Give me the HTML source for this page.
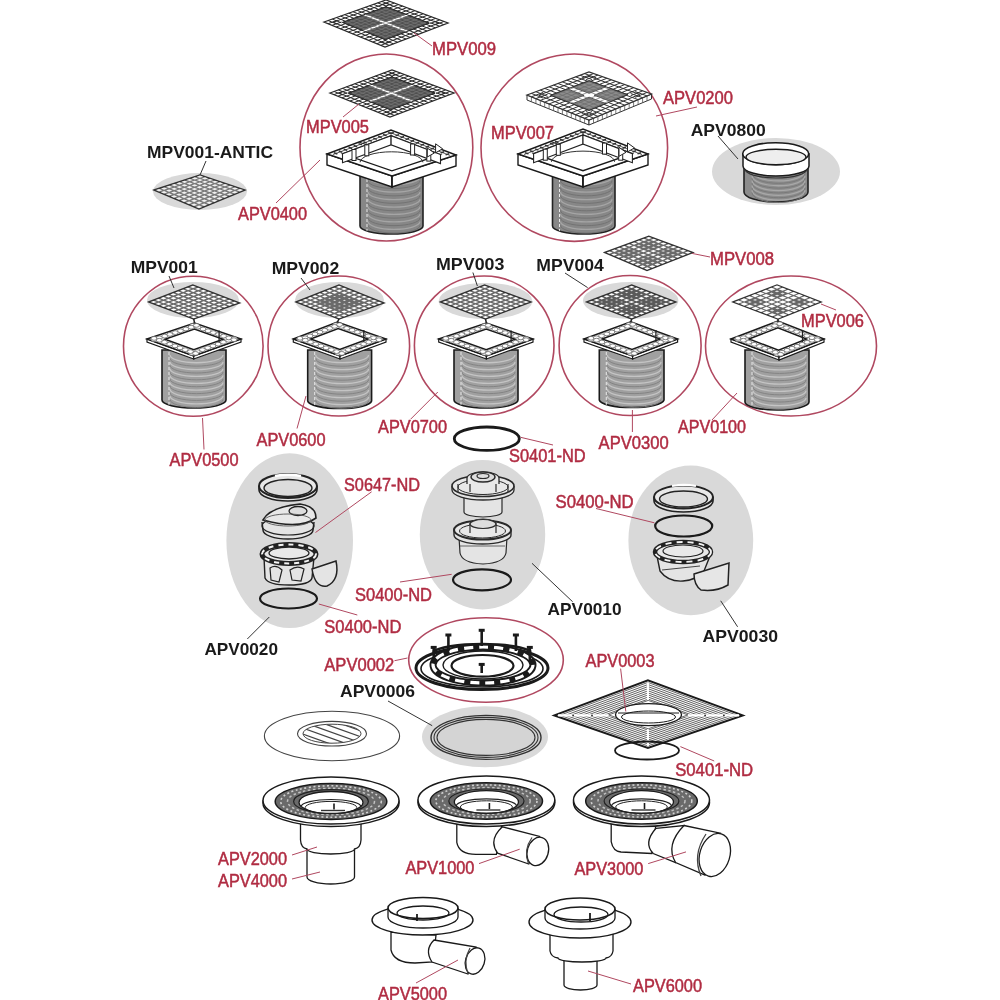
<!DOCTYPE html><html><head><meta charset="utf-8"><style>html,body{margin:0;padding:0;background:#fff;}svg{display:block;font-family:"Liberation Sans",sans-serif;filter:blur(0.4px);}</style></head><body>
<svg width="1000" height="1000" viewBox="0 0 1000 1000">
<rect width="1000" height="1000" fill="#fff"/>
<polygon points="324,22 386,0 448,23 385,47" fill="#fff" stroke="#2a2a2a" stroke-width="1.3" />
<polygon points="342.5,22.4 362.4,15.3 382,23 362,30.3" fill="#505050" stroke="#2a2a2a" stroke-width="0.8" />
<polygon points="365.7,31.8 385.7,24.4 405.4,32.1 385.3,39.7" fill="#505050" stroke="#2a2a2a" stroke-width="0.8" />
<polygon points="366.1,13.9 386,6.8 405.8,14.3 385.8,21.6" fill="#505050" stroke="#2a2a2a" stroke-width="0.8" />
<polygon points="389.5,23 409.5,15.6 429.3,23.1 409.2,30.7" fill="#505050" stroke="#2a2a2a" stroke-width="0.8" />
<line x1="345.6" y1="21.3" x2="388.4" y2="38.5" stroke="#777" stroke-width="0.7" />
<line x1="345.5" y1="23.6" x2="389.1" y2="8" stroke="#777" stroke-width="0.7" />
<line x1="349.7" y1="19.8" x2="392.6" y2="36.9" stroke="#777" stroke-width="0.7" />
<line x1="349.6" y1="25.3" x2="393.2" y2="9.5" stroke="#777" stroke-width="0.7" />
<line x1="353.9" y1="18.3" x2="396.8" y2="35.3" stroke="#777" stroke-width="0.7" />
<line x1="353.7" y1="26.9" x2="397.3" y2="11.1" stroke="#777" stroke-width="0.7" />
<line x1="358" y1="16.8" x2="401" y2="33.8" stroke="#777" stroke-width="0.7" />
<line x1="357.8" y1="28.6" x2="401.4" y2="12.6" stroke="#777" stroke-width="0.7" />
<line x1="362.2" y1="15.3" x2="405.2" y2="32.2" stroke="#777" stroke-width="0.7" />
<line x1="361.8" y1="30.2" x2="405.6" y2="14.2" stroke="#777" stroke-width="0.7" />
<line x1="366.3" y1="13.9" x2="409.4" y2="30.6" stroke="#777" stroke-width="0.7" />
<line x1="365.9" y1="31.9" x2="409.7" y2="15.7" stroke="#777" stroke-width="0.7" />
<line x1="370.4" y1="12.4" x2="413.6" y2="29" stroke="#777" stroke-width="0.7" />
<line x1="370" y1="33.5" x2="413.8" y2="17.3" stroke="#777" stroke-width="0.7" />
<line x1="374.6" y1="10.9" x2="417.8" y2="27.4" stroke="#777" stroke-width="0.7" />
<line x1="374.1" y1="35.2" x2="417.9" y2="18.8" stroke="#777" stroke-width="0.7" />
<line x1="378.7" y1="9.4" x2="421.9" y2="25.9" stroke="#777" stroke-width="0.7" />
<line x1="378.1" y1="36.8" x2="422.1" y2="20.4" stroke="#777" stroke-width="0.7" />
<line x1="382.9" y1="7.9" x2="426.1" y2="24.3" stroke="#777" stroke-width="0.7" />
<line x1="382.2" y1="38.5" x2="426.2" y2="21.9" stroke="#777" stroke-width="0.7" />
<polygon points="333.2,22.2 386,3.4 438.6,23.1 385.1,43.3" fill="none" stroke="#2a2a2a" stroke-width="1" />
<polygon points="342.5,22.4 386,6.8 429.3,23.1 385.3,39.7" fill="none" stroke="#2a2a2a" stroke-width="1" />
<line x1="328.1" y1="20.5" x2="337.3" y2="24.3" stroke="#2a2a2a" stroke-width="1" />
<line x1="380" y1="41.7" x2="389.2" y2="45.4" stroke="#2a2a2a" stroke-width="1" />
<line x1="328.1" y1="23.7" x2="337.4" y2="20.3" stroke="#2a2a2a" stroke-width="1" />
<line x1="380.8" y1="4.9" x2="390.1" y2="1.5" stroke="#2a2a2a" stroke-width="1" />
<line x1="332.3" y1="19.1" x2="341.4" y2="22.8" stroke="#2a2a2a" stroke-width="1" />
<line x1="384.2" y1="40.1" x2="393.4" y2="43.8" stroke="#2a2a2a" stroke-width="1" />
<line x1="332.1" y1="25.3" x2="341.5" y2="22" stroke="#2a2a2a" stroke-width="1" />
<line x1="384.9" y1="6.4" x2="394.3" y2="3.1" stroke="#2a2a2a" stroke-width="1" />
<line x1="336.4" y1="17.6" x2="345.6" y2="21.3" stroke="#2a2a2a" stroke-width="1" />
<line x1="388.4" y1="38.5" x2="397.6" y2="42.2" stroke="#2a2a2a" stroke-width="1" />
<line x1="336.2" y1="27" x2="345.5" y2="23.6" stroke="#2a2a2a" stroke-width="1" />
<line x1="389.1" y1="8" x2="398.4" y2="4.6" stroke="#2a2a2a" stroke-width="1" />
<line x1="340.5" y1="16.1" x2="349.7" y2="19.8" stroke="#2a2a2a" stroke-width="1" />
<line x1="392.6" y1="36.9" x2="401.8" y2="40.6" stroke="#2a2a2a" stroke-width="1" />
<line x1="340.3" y1="28.7" x2="349.6" y2="25.3" stroke="#2a2a2a" stroke-width="1" />
<line x1="393.2" y1="9.5" x2="402.5" y2="6.1" stroke="#2a2a2a" stroke-width="1" />
<line x1="344.7" y1="14.7" x2="353.9" y2="18.3" stroke="#2a2a2a" stroke-width="1" />
<line x1="396.8" y1="35.3" x2="406" y2="39" stroke="#2a2a2a" stroke-width="1" />
<line x1="344.3" y1="30.3" x2="353.7" y2="26.9" stroke="#2a2a2a" stroke-width="1" />
<line x1="397.3" y1="11.1" x2="406.7" y2="7.7" stroke="#2a2a2a" stroke-width="1" />
<line x1="348.8" y1="13.2" x2="358" y2="16.8" stroke="#2a2a2a" stroke-width="1" />
<line x1="401" y1="33.8" x2="410.2" y2="37.4" stroke="#2a2a2a" stroke-width="1" />
<line x1="348.4" y1="32" x2="357.8" y2="28.6" stroke="#2a2a2a" stroke-width="1" />
<line x1="401.4" y1="12.6" x2="410.8" y2="9.2" stroke="#2a2a2a" stroke-width="1" />
<line x1="352.9" y1="11.7" x2="362.2" y2="15.3" stroke="#2a2a2a" stroke-width="1" />
<line x1="405.2" y1="32.2" x2="414.4" y2="35.8" stroke="#2a2a2a" stroke-width="1" />
<line x1="352.5" y1="33.7" x2="361.8" y2="30.2" stroke="#2a2a2a" stroke-width="1" />
<line x1="405.6" y1="14.2" x2="414.9" y2="10.7" stroke="#2a2a2a" stroke-width="1" />
<line x1="357.1" y1="10.3" x2="366.3" y2="13.9" stroke="#2a2a2a" stroke-width="1" />
<line x1="409.4" y1="30.6" x2="418.6" y2="34.2" stroke="#2a2a2a" stroke-width="1" />
<line x1="356.5" y1="35.3" x2="365.9" y2="31.9" stroke="#2a2a2a" stroke-width="1" />
<line x1="409.7" y1="15.7" x2="419.1" y2="12.3" stroke="#2a2a2a" stroke-width="1" />
<line x1="361.2" y1="8.8" x2="370.4" y2="12.4" stroke="#2a2a2a" stroke-width="1" />
<line x1="413.6" y1="29" x2="422.8" y2="32.6" stroke="#2a2a2a" stroke-width="1" />
<line x1="360.6" y1="37" x2="370" y2="33.5" stroke="#2a2a2a" stroke-width="1" />
<line x1="413.8" y1="17.3" x2="423.2" y2="13.8" stroke="#2a2a2a" stroke-width="1" />
<line x1="365.3" y1="7.3" x2="374.6" y2="10.9" stroke="#2a2a2a" stroke-width="1" />
<line x1="417.8" y1="27.4" x2="427" y2="31" stroke="#2a2a2a" stroke-width="1" />
<line x1="364.7" y1="38.7" x2="374.1" y2="35.2" stroke="#2a2a2a" stroke-width="1" />
<line x1="417.9" y1="18.8" x2="427.3" y2="15.3" stroke="#2a2a2a" stroke-width="1" />
<line x1="369.5" y1="5.9" x2="378.7" y2="9.4" stroke="#2a2a2a" stroke-width="1" />
<line x1="421.9" y1="25.9" x2="431.2" y2="29.4" stroke="#2a2a2a" stroke-width="1" />
<line x1="368.7" y1="40.3" x2="378.1" y2="36.8" stroke="#2a2a2a" stroke-width="1" />
<line x1="422.1" y1="20.4" x2="431.5" y2="16.9" stroke="#2a2a2a" stroke-width="1" />
<line x1="373.6" y1="4.4" x2="382.9" y2="7.9" stroke="#2a2a2a" stroke-width="1" />
<line x1="426.1" y1="24.3" x2="435.4" y2="27.8" stroke="#2a2a2a" stroke-width="1" />
<line x1="372.8" y1="42" x2="382.2" y2="38.5" stroke="#2a2a2a" stroke-width="1" />
<line x1="426.2" y1="21.9" x2="435.6" y2="18.4" stroke="#2a2a2a" stroke-width="1" />
<line x1="377.7" y1="2.9" x2="387" y2="6.4" stroke="#2a2a2a" stroke-width="1" />
<line x1="430.3" y1="22.7" x2="439.6" y2="26.2" stroke="#2a2a2a" stroke-width="1" />
<line x1="376.9" y1="43.7" x2="386.3" y2="40.1" stroke="#2a2a2a" stroke-width="1" />
<line x1="430.3" y1="23.5" x2="439.7" y2="19.9" stroke="#2a2a2a" stroke-width="1" />
<line x1="381.9" y1="1.5" x2="391.2" y2="4.9" stroke="#2a2a2a" stroke-width="1" />
<line x1="434.5" y1="21.1" x2="443.8" y2="24.6" stroke="#2a2a2a" stroke-width="1" />
<line x1="380.9" y1="45.3" x2="390.4" y2="41.8" stroke="#2a2a2a" stroke-width="1" />
<line x1="434.4" y1="25" x2="443.9" y2="21.5" stroke="#2a2a2a" stroke-width="1" />
<text x="432" y="55" textLength="64" lengthAdjust="spacingAndGlyphs" font-size="18" font-weight="400" fill="#b02c42" stroke="#b02c42" stroke-width="0.5">MPV009</text>
<line x1="414" y1="33" x2="432" y2="46" stroke="#b04860" stroke-width="1" />
<ellipse cx="386.4" cy="147.5" rx="86.4" ry="93.5" fill="none" stroke="#b04860" stroke-width="1.6" />
<path d="M360,172 L360,226 A31.5,8 0 0 0 423,226 L423,172 Z" fill="#878787" stroke="#222" stroke-width="1.6" />
<path d="M368,177 A23.5,7 0 0 0 420,177" fill="none" stroke="#a5a5a5" stroke-width="1.3"/>
<path d="M368,180.7 A23.5,7 0 0 0 420,180.7" fill="none" stroke="#707070" stroke-width="0.9"/>
<path d="M368,184.4 A23.5,7 0 0 0 420,184.4" fill="none" stroke="#a5a5a5" stroke-width="1.3"/>
<path d="M368,188.1 A23.5,7 0 0 0 420,188.1" fill="none" stroke="#707070" stroke-width="0.9"/>
<path d="M368,191.9 A23.5,7 0 0 0 420,191.9" fill="none" stroke="#a5a5a5" stroke-width="1.3"/>
<path d="M368,195.6 A23.5,7 0 0 0 420,195.6" fill="none" stroke="#707070" stroke-width="0.9"/>
<path d="M368,199.3 A23.5,7 0 0 0 420,199.3" fill="none" stroke="#a5a5a5" stroke-width="1.3"/>
<path d="M368,203 A23.5,7 0 0 0 420,203" fill="none" stroke="#707070" stroke-width="0.9"/>
<path d="M368,206.7 A23.5,7 0 0 0 420,206.7" fill="none" stroke="#a5a5a5" stroke-width="1.3"/>
<path d="M368,210.4 A23.5,7 0 0 0 420,210.4" fill="none" stroke="#707070" stroke-width="0.9"/>
<path d="M368,214.1 A23.5,7 0 0 0 420,214.1" fill="none" stroke="#a5a5a5" stroke-width="1.3"/>
<path d="M368,217.9 A23.5,7 0 0 0 420,217.9" fill="none" stroke="#707070" stroke-width="0.9"/>
<path d="M368,221.6 A23.5,7 0 0 0 420,221.6" fill="none" stroke="#a5a5a5" stroke-width="1.3"/>
<path d="M368,225.3 A23.5,7 0 0 0 420,225.3" fill="none" stroke="#707070" stroke-width="0.9"/>
<line x1="367" y1="174" x2="367" y2="230.8" stroke="#e8e8e8" stroke-width="1" stroke-dasharray="3,2"/>
<polygon points="327,154 392,176 392,187 327,165" fill="#fff" stroke="#1a1a1a" stroke-width="1.4" />
<polygon points="392,176 456,155 456,166 392,187" fill="#fff" stroke="#1a1a1a" stroke-width="1.4" />
<polygon points="327,154 391,130 456,155 392,176" fill="#fff" stroke="#1a1a1a" stroke-width="1.4" />
<polygon points="342.5,153.8 391.1,135.8 440.5,154.6 391.9,170.8" fill="#fff" stroke="#1a1a1a" stroke-width="1.3" />
<polygon points="342.5,153.8 391.1,135.8 391.1,144.8 342.5,162.8" fill="#fff" stroke="#222" stroke-width="1.1" />
<polygon points="391.1,135.8 440.5,154.6 440.5,163.6 391.1,144.8" fill="#fff" stroke="#222" stroke-width="1.1" />
<path d="M360.1,162.3 A31.4,10.5 0 0 1 422.9,162.3" fill="none" stroke="#333" stroke-width="1"/>
<line x1="333.9" y1="152.8" x2="337.4" y2="154" stroke="#333" stroke-width="1.5" />
<line x1="394.1" y1="132.6" x2="390.6" y2="133.9" stroke="#333" stroke-width="1.5" />
<line x1="338.8" y1="151" x2="342.3" y2="152.2" stroke="#333" stroke-width="1.5" />
<line x1="399.1" y1="134.6" x2="395.6" y2="135.8" stroke="#333" stroke-width="1.5" />
<line x1="343.7" y1="149.1" x2="347.2" y2="150.4" stroke="#333" stroke-width="1.5" />
<line x1="404.1" y1="136.5" x2="400.6" y2="137.7" stroke="#333" stroke-width="1.5" />
<line x1="348.6" y1="147.3" x2="352.2" y2="148.5" stroke="#333" stroke-width="1.5" />
<line x1="409.1" y1="138.4" x2="405.6" y2="139.6" stroke="#333" stroke-width="1.5" />
<line x1="353.6" y1="145.5" x2="357.1" y2="146.7" stroke="#333" stroke-width="1.5" />
<line x1="414.1" y1="140.3" x2="410.6" y2="141.5" stroke="#333" stroke-width="1.5" />
<line x1="358.5" y1="143.6" x2="362" y2="144.9" stroke="#333" stroke-width="1.5" />
<line x1="419.1" y1="142.2" x2="415.6" y2="143.4" stroke="#333" stroke-width="1.5" />
<line x1="363.4" y1="141.8" x2="366.9" y2="143.1" stroke="#333" stroke-width="1.5" />
<line x1="424.1" y1="144.1" x2="420.6" y2="145.3" stroke="#333" stroke-width="1.5" />
<line x1="368.3" y1="139.9" x2="371.8" y2="141.2" stroke="#333" stroke-width="1.5" />
<line x1="429.1" y1="146" x2="425.6" y2="147.2" stroke="#333" stroke-width="1.5" />
<line x1="373.3" y1="138.1" x2="376.8" y2="139.4" stroke="#333" stroke-width="1.5" />
<line x1="434.1" y1="148" x2="430.6" y2="149.1" stroke="#333" stroke-width="1.5" />
<line x1="378.2" y1="136.3" x2="381.7" y2="137.6" stroke="#333" stroke-width="1.5" />
<line x1="439.1" y1="149.9" x2="435.6" y2="151.1" stroke="#333" stroke-width="1.5" />
<line x1="383.1" y1="134.4" x2="386.6" y2="135.8" stroke="#333" stroke-width="1.5" />
<line x1="444.1" y1="151.8" x2="440.6" y2="153" stroke="#333" stroke-width="1.5" />
<line x1="388" y1="132.6" x2="391.5" y2="133.9" stroke="#333" stroke-width="1.5" />
<line x1="449.1" y1="153.7" x2="445.6" y2="154.9" stroke="#333" stroke-width="1.5" />
<line x1="332.8" y1="154.6" x2="393" y2="132.2" stroke="#333" stroke-width="0.8" />
<line x1="389.1" y1="132.2" x2="450.2" y2="155.5" stroke="#333" stroke-width="0.8" />
<rect x="364.8" y="144.8" width="4" height="11" fill="#fff" stroke="#222" stroke-width="1"/>
<rect x="352" y="149.5" width="4" height="11" fill="#fff" stroke="#222" stroke-width="1"/>
<rect x="410.6" y="144" width="4" height="11" fill="#fff" stroke="#222" stroke-width="1"/>
<rect x="426.8" y="150.1" width="4" height="11" fill="#fff" stroke="#222" stroke-width="1"/>
<path d="M427.3,157 l0,-9 l7,5 z" fill="#fff" stroke="#222" stroke-width="1"/>
<path d="M435.6,152.8 l0,-9 l7,5 z" fill="#fff" stroke="#222" stroke-width="1"/>
<line x1="392" y1="176" x2="392" y2="187" stroke="#1a1a1a" stroke-width="1.4" />
<line x1="359" y1="142" x2="366.8" y2="144.8" stroke="#222" stroke-width="1" />
<polygon points="330,93 392,70 454,93 390,117" fill="#fff" stroke="#2a2a2a" stroke-width="1.3" />
<polygon points="348.3,93.1 368.3,85.7 387.8,93.2 367.6,100.8" fill="#505050" stroke="#2a2a2a" stroke-width="0.8" />
<polygon points="371.3,102.2 391.4,94.7 410.9,102.2 390.6,109.8" fill="#505050" stroke="#2a2a2a" stroke-width="0.8" />
<polygon points="372,84.3 392,76.9 411.7,84.3 391.6,91.8" fill="#505050" stroke="#2a2a2a" stroke-width="0.8" />
<polygon points="395.2,93.2 415.4,85.7 435.1,93.1 414.8,100.8" fill="#505050" stroke="#2a2a2a" stroke-width="0.8" />
<line x1="351.5" y1="92" x2="393.7" y2="108.6" stroke="#777" stroke-width="0.7" />
<line x1="351.4" y1="94.3" x2="395" y2="78.1" stroke="#777" stroke-width="0.7" />
<line x1="355.6" y1="90.4" x2="398" y2="107" stroke="#777" stroke-width="0.7" />
<line x1="355.4" y1="95.9" x2="399.2" y2="79.6" stroke="#777" stroke-width="0.7" />
<line x1="359.8" y1="88.9" x2="402.2" y2="105.5" stroke="#777" stroke-width="0.7" />
<line x1="359.4" y1="97.5" x2="403.3" y2="81.2" stroke="#777" stroke-width="0.7" />
<line x1="363.9" y1="87.3" x2="406.5" y2="103.9" stroke="#777" stroke-width="0.7" />
<line x1="363.4" y1="99.1" x2="407.4" y2="82.7" stroke="#777" stroke-width="0.7" />
<line x1="368.1" y1="85.8" x2="410.7" y2="102.3" stroke="#777" stroke-width="0.7" />
<line x1="367.4" y1="100.7" x2="411.5" y2="84.3" stroke="#777" stroke-width="0.7" />
<line x1="372.2" y1="84.3" x2="415" y2="100.7" stroke="#777" stroke-width="0.7" />
<line x1="371.5" y1="102.3" x2="415.6" y2="85.8" stroke="#777" stroke-width="0.7" />
<line x1="376.4" y1="82.7" x2="419.2" y2="99.1" stroke="#777" stroke-width="0.7" />
<line x1="375.5" y1="103.9" x2="419.7" y2="87.3" stroke="#777" stroke-width="0.7" />
<line x1="380.5" y1="81.2" x2="423.5" y2="97.5" stroke="#777" stroke-width="0.7" />
<line x1="379.5" y1="105.5" x2="423.8" y2="88.9" stroke="#777" stroke-width="0.7" />
<line x1="384.7" y1="79.6" x2="427.7" y2="95.9" stroke="#777" stroke-width="0.7" />
<line x1="383.5" y1="107" x2="427.9" y2="90.4" stroke="#777" stroke-width="0.7" />
<line x1="388.8" y1="78.1" x2="432" y2="94.3" stroke="#777" stroke-width="0.7" />
<line x1="387.5" y1="108.6" x2="432.1" y2="92" stroke="#777" stroke-width="0.7" />
<polygon points="339.2,93.1 392,73.5 444.6,93.1 390.3,113.4" fill="none" stroke="#2a2a2a" stroke-width="1" />
<polygon points="348.3,93.1 392,76.9 435.1,93.1 390.6,109.8" fill="none" stroke="#2a2a2a" stroke-width="1" />
<line x1="334.1" y1="91.5" x2="343.2" y2="95.1" stroke="#2a2a2a" stroke-width="1" />
<line x1="385.2" y1="111.8" x2="394.3" y2="115.4" stroke="#2a2a2a" stroke-width="1" />
<line x1="334" y1="94.6" x2="343.3" y2="91.1" stroke="#2a2a2a" stroke-width="1" />
<line x1="386.8" y1="75" x2="396.1" y2="71.5" stroke="#2a2a2a" stroke-width="1" />
<line x1="338.3" y1="89.9" x2="347.3" y2="93.5" stroke="#2a2a2a" stroke-width="1" />
<line x1="389.5" y1="110.2" x2="398.5" y2="113.8" stroke="#2a2a2a" stroke-width="1" />
<line x1="338" y1="96.2" x2="347.3" y2="92.7" stroke="#2a2a2a" stroke-width="1" />
<line x1="390.9" y1="76.5" x2="400.3" y2="73.1" stroke="#2a2a2a" stroke-width="1" />
<line x1="342.4" y1="88.4" x2="351.5" y2="92" stroke="#2a2a2a" stroke-width="1" />
<line x1="393.7" y1="108.6" x2="402.8" y2="112.2" stroke="#2a2a2a" stroke-width="1" />
<line x1="342" y1="97.8" x2="351.4" y2="94.3" stroke="#2a2a2a" stroke-width="1" />
<line x1="395" y1="78.1" x2="404.4" y2="74.6" stroke="#2a2a2a" stroke-width="1" />
<line x1="346.5" y1="86.9" x2="355.6" y2="90.4" stroke="#2a2a2a" stroke-width="1" />
<line x1="398" y1="107" x2="407.1" y2="110.6" stroke="#2a2a2a" stroke-width="1" />
<line x1="346" y1="99.4" x2="355.4" y2="95.9" stroke="#2a2a2a" stroke-width="1" />
<line x1="399.2" y1="79.6" x2="408.5" y2="76.1" stroke="#2a2a2a" stroke-width="1" />
<line x1="350.7" y1="85.3" x2="359.8" y2="88.9" stroke="#2a2a2a" stroke-width="1" />
<line x1="402.2" y1="105.5" x2="411.3" y2="109" stroke="#2a2a2a" stroke-width="1" />
<line x1="350" y1="101" x2="359.4" y2="97.5" stroke="#2a2a2a" stroke-width="1" />
<line x1="403.3" y1="81.2" x2="412.7" y2="77.7" stroke="#2a2a2a" stroke-width="1" />
<line x1="354.8" y1="83.8" x2="363.9" y2="87.3" stroke="#2a2a2a" stroke-width="1" />
<line x1="406.5" y1="103.9" x2="415.6" y2="107.4" stroke="#2a2a2a" stroke-width="1" />
<line x1="354" y1="102.6" x2="363.4" y2="99.1" stroke="#2a2a2a" stroke-width="1" />
<line x1="407.4" y1="82.7" x2="416.8" y2="79.2" stroke="#2a2a2a" stroke-width="1" />
<line x1="358.9" y1="82.3" x2="368.1" y2="85.8" stroke="#2a2a2a" stroke-width="1" />
<line x1="410.7" y1="102.3" x2="419.9" y2="105.8" stroke="#2a2a2a" stroke-width="1" />
<line x1="358" y1="104.2" x2="367.4" y2="100.7" stroke="#2a2a2a" stroke-width="1" />
<line x1="411.5" y1="84.3" x2="420.9" y2="80.7" stroke="#2a2a2a" stroke-width="1" />
<line x1="363.1" y1="80.7" x2="372.2" y2="84.3" stroke="#2a2a2a" stroke-width="1" />
<line x1="415" y1="100.7" x2="424.1" y2="104.2" stroke="#2a2a2a" stroke-width="1" />
<line x1="362" y1="105.8" x2="371.5" y2="102.3" stroke="#2a2a2a" stroke-width="1" />
<line x1="415.6" y1="85.8" x2="425.1" y2="82.3" stroke="#2a2a2a" stroke-width="1" />
<line x1="367.2" y1="79.2" x2="376.4" y2="82.7" stroke="#2a2a2a" stroke-width="1" />
<line x1="419.2" y1="99.1" x2="428.4" y2="102.6" stroke="#2a2a2a" stroke-width="1" />
<line x1="366" y1="107.4" x2="375.5" y2="103.9" stroke="#2a2a2a" stroke-width="1" />
<line x1="419.7" y1="87.3" x2="429.2" y2="83.8" stroke="#2a2a2a" stroke-width="1" />
<line x1="371.3" y1="77.7" x2="380.5" y2="81.2" stroke="#2a2a2a" stroke-width="1" />
<line x1="423.5" y1="97.5" x2="432.7" y2="101" stroke="#2a2a2a" stroke-width="1" />
<line x1="370" y1="109" x2="379.5" y2="105.5" stroke="#2a2a2a" stroke-width="1" />
<line x1="423.8" y1="88.9" x2="433.3" y2="85.3" stroke="#2a2a2a" stroke-width="1" />
<line x1="375.5" y1="76.1" x2="384.7" y2="79.6" stroke="#2a2a2a" stroke-width="1" />
<line x1="427.7" y1="95.9" x2="436.9" y2="99.4" stroke="#2a2a2a" stroke-width="1" />
<line x1="374" y1="110.6" x2="383.5" y2="107" stroke="#2a2a2a" stroke-width="1" />
<line x1="427.9" y1="90.4" x2="437.5" y2="86.9" stroke="#2a2a2a" stroke-width="1" />
<line x1="379.6" y1="74.6" x2="388.8" y2="78.1" stroke="#2a2a2a" stroke-width="1" />
<line x1="432" y1="94.3" x2="441.2" y2="97.8" stroke="#2a2a2a" stroke-width="1" />
<line x1="378" y1="112.2" x2="387.5" y2="108.6" stroke="#2a2a2a" stroke-width="1" />
<line x1="432.1" y1="92" x2="441.6" y2="88.4" stroke="#2a2a2a" stroke-width="1" />
<line x1="383.7" y1="73.1" x2="393" y2="76.5" stroke="#2a2a2a" stroke-width="1" />
<line x1="436.2" y1="92.7" x2="445.5" y2="96.2" stroke="#2a2a2a" stroke-width="1" />
<line x1="382" y1="113.8" x2="391.6" y2="110.2" stroke="#2a2a2a" stroke-width="1" />
<line x1="436.2" y1="93.5" x2="445.7" y2="89.9" stroke="#2a2a2a" stroke-width="1" />
<line x1="387.9" y1="71.5" x2="397.1" y2="75" stroke="#2a2a2a" stroke-width="1" />
<line x1="440.5" y1="91.1" x2="449.7" y2="94.6" stroke="#2a2a2a" stroke-width="1" />
<line x1="386" y1="115.4" x2="395.6" y2="111.8" stroke="#2a2a2a" stroke-width="1" />
<line x1="440.3" y1="95.1" x2="449.9" y2="91.5" stroke="#2a2a2a" stroke-width="1" />
<text x="306" y="133" textLength="63" lengthAdjust="spacingAndGlyphs" font-size="18" font-weight="400" fill="#b02c42" stroke="#b02c42" stroke-width="0.5">MPV005</text>
<line x1="359" y1="104" x2="343" y2="117" stroke="#b04860" stroke-width="1" />
<text x="238" y="220" textLength="69" lengthAdjust="spacingAndGlyphs" font-size="18" font-weight="400" fill="#b02c42" stroke="#b02c42" stroke-width="0.5">APV0400</text>
<line x1="276" y1="203" x2="320" y2="160" stroke="#b04860" stroke-width="1" />
<ellipse cx="574.3" cy="147.7" rx="93.3" ry="93.7" fill="none" stroke="#b04860" stroke-width="1.6" />
<path d="M552.5,172 L552.5,226 A31.2,8 0 0 0 615,226 L615,172 Z" fill="#878787" stroke="#222" stroke-width="1.6" />
<path d="M560.5,177 A23.2,7 0 0 0 612,177" fill="none" stroke="#a5a5a5" stroke-width="1.3"/>
<path d="M560.5,180.7 A23.2,7 0 0 0 612,180.7" fill="none" stroke="#707070" stroke-width="0.9"/>
<path d="M560.5,184.4 A23.2,7 0 0 0 612,184.4" fill="none" stroke="#a5a5a5" stroke-width="1.3"/>
<path d="M560.5,188.1 A23.2,7 0 0 0 612,188.1" fill="none" stroke="#707070" stroke-width="0.9"/>
<path d="M560.5,191.9 A23.2,7 0 0 0 612,191.9" fill="none" stroke="#a5a5a5" stroke-width="1.3"/>
<path d="M560.5,195.6 A23.2,7 0 0 0 612,195.6" fill="none" stroke="#707070" stroke-width="0.9"/>
<path d="M560.5,199.3 A23.2,7 0 0 0 612,199.3" fill="none" stroke="#a5a5a5" stroke-width="1.3"/>
<path d="M560.5,203 A23.2,7 0 0 0 612,203" fill="none" stroke="#707070" stroke-width="0.9"/>
<path d="M560.5,206.7 A23.2,7 0 0 0 612,206.7" fill="none" stroke="#a5a5a5" stroke-width="1.3"/>
<path d="M560.5,210.4 A23.2,7 0 0 0 612,210.4" fill="none" stroke="#707070" stroke-width="0.9"/>
<path d="M560.5,214.1 A23.2,7 0 0 0 612,214.1" fill="none" stroke="#a5a5a5" stroke-width="1.3"/>
<path d="M560.5,217.9 A23.2,7 0 0 0 612,217.9" fill="none" stroke="#707070" stroke-width="0.9"/>
<path d="M560.5,221.6 A23.2,7 0 0 0 612,221.6" fill="none" stroke="#a5a5a5" stroke-width="1.3"/>
<path d="M560.5,225.3 A23.2,7 0 0 0 612,225.3" fill="none" stroke="#707070" stroke-width="0.9"/>
<line x1="559.5" y1="174" x2="559.5" y2="230.8" stroke="#e8e8e8" stroke-width="1" stroke-dasharray="3,2"/>
<polygon points="518,154 583,176 583,187 518,165" fill="#fff" stroke="#1a1a1a" stroke-width="1.4" />
<polygon points="583,176 648,154 648,165 583,187" fill="#fff" stroke="#1a1a1a" stroke-width="1.4" />
<polygon points="518,154 583,129 648,154 583,176" fill="#fff" stroke="#1a1a1a" stroke-width="1.4" />
<polygon points="533.6,153.7 583,135 632.4,153.7 583,170.7" fill="#fff" stroke="#1a1a1a" stroke-width="1.3" />
<polygon points="533.6,153.7 583,135 583,144 533.6,162.7" fill="#fff" stroke="#222" stroke-width="1.1" />
<polygon points="583,135 632.4,153.7 632.4,162.7 583,144" fill="#fff" stroke="#222" stroke-width="1.1" />
<path d="M551.4,161.8 A31.6,10.7 0 0 1 614.6,161.8" fill="none" stroke="#333" stroke-width="1"/>
<line x1="525" y1="152.7" x2="528.5" y2="153.9" stroke="#333" stroke-width="1.5" />
<line x1="586" y1="131.7" x2="582.5" y2="133" stroke="#333" stroke-width="1.5" />
<line x1="530" y1="150.8" x2="533.5" y2="152" stroke="#333" stroke-width="1.5" />
<line x1="591" y1="133.6" x2="587.5" y2="134.9" stroke="#333" stroke-width="1.5" />
<line x1="535" y1="148.9" x2="538.5" y2="150.1" stroke="#333" stroke-width="1.5" />
<line x1="596" y1="135.5" x2="592.5" y2="136.8" stroke="#333" stroke-width="1.5" />
<line x1="540" y1="147" x2="543.5" y2="148.2" stroke="#333" stroke-width="1.5" />
<line x1="601" y1="137.4" x2="597.5" y2="138.7" stroke="#333" stroke-width="1.5" />
<line x1="545" y1="145.1" x2="548.5" y2="146.3" stroke="#333" stroke-width="1.5" />
<line x1="606" y1="139.3" x2="602.5" y2="140.6" stroke="#333" stroke-width="1.5" />
<line x1="550" y1="143.2" x2="553.5" y2="144.4" stroke="#333" stroke-width="1.5" />
<line x1="611" y1="141.2" x2="607.5" y2="142.5" stroke="#333" stroke-width="1.5" />
<line x1="555" y1="141.2" x2="558.5" y2="142.5" stroke="#333" stroke-width="1.5" />
<line x1="616" y1="143.2" x2="612.5" y2="144.4" stroke="#333" stroke-width="1.5" />
<line x1="560" y1="139.3" x2="563.5" y2="140.6" stroke="#333" stroke-width="1.5" />
<line x1="621" y1="145.1" x2="617.5" y2="146.3" stroke="#333" stroke-width="1.5" />
<line x1="565" y1="137.4" x2="568.5" y2="138.7" stroke="#333" stroke-width="1.5" />
<line x1="626" y1="147" x2="622.5" y2="148.2" stroke="#333" stroke-width="1.5" />
<line x1="570" y1="135.5" x2="573.5" y2="136.8" stroke="#333" stroke-width="1.5" />
<line x1="631" y1="148.9" x2="627.5" y2="150.1" stroke="#333" stroke-width="1.5" />
<line x1="575" y1="133.6" x2="578.5" y2="134.9" stroke="#333" stroke-width="1.5" />
<line x1="636" y1="150.8" x2="632.5" y2="152" stroke="#333" stroke-width="1.5" />
<line x1="580" y1="131.7" x2="583.5" y2="133" stroke="#333" stroke-width="1.5" />
<line x1="641" y1="152.7" x2="637.5" y2="153.9" stroke="#333" stroke-width="1.5" />
<line x1="523.9" y1="154.6" x2="584.9" y2="131.2" stroke="#333" stroke-width="0.8" />
<line x1="581.1" y1="131.2" x2="642.1" y2="154.6" stroke="#333" stroke-width="0.8" />
<rect x="556.3" y="144.3" width="4" height="11" fill="#fff" stroke="#222" stroke-width="1"/>
<rect x="543.3" y="149.2" width="4" height="11" fill="#fff" stroke="#222" stroke-width="1"/>
<rect x="602.5" y="143.1" width="4" height="11" fill="#fff" stroke="#222" stroke-width="1"/>
<rect x="618.7" y="149.2" width="4" height="11" fill="#fff" stroke="#222" stroke-width="1"/>
<path d="M619,156.3 l0,-9 l7,5 z" fill="#fff" stroke="#222" stroke-width="1"/>
<path d="M627.5,151.9 l0,-9 l7,5 z" fill="#fff" stroke="#222" stroke-width="1"/>
<line x1="583" y1="176" x2="583" y2="187" stroke="#1a1a1a" stroke-width="1.4" />
<line x1="550.5" y1="141.5" x2="558.3" y2="144.3" stroke="#222" stroke-width="1" />
<polygon points="527,95 589,120 589,125 527,100" fill="#fff" stroke="#333" stroke-width="1" />
<polygon points="589,120 651.5,94 651.5,99 589,125" fill="#fff" stroke="#333" stroke-width="1" />
<line x1="531.4" y1="96.8" x2="531.4" y2="101.8" stroke="#555" stroke-width="0.8" />
<line x1="593.5" y1="118.1" x2="593.5" y2="123.1" stroke="#555" stroke-width="0.8" />
<line x1="535.9" y1="98.6" x2="535.9" y2="103.6" stroke="#555" stroke-width="0.8" />
<line x1="597.9" y1="116.3" x2="597.9" y2="121.3" stroke="#555" stroke-width="0.8" />
<line x1="540.3" y1="100.4" x2="540.3" y2="105.4" stroke="#555" stroke-width="0.8" />
<line x1="602.4" y1="114.4" x2="602.4" y2="119.4" stroke="#555" stroke-width="0.8" />
<line x1="544.7" y1="102.1" x2="544.7" y2="107.1" stroke="#555" stroke-width="0.8" />
<line x1="606.9" y1="112.6" x2="606.9" y2="117.6" stroke="#555" stroke-width="0.8" />
<line x1="549.1" y1="103.9" x2="549.1" y2="108.9" stroke="#555" stroke-width="0.8" />
<line x1="611.3" y1="110.7" x2="611.3" y2="115.7" stroke="#555" stroke-width="0.8" />
<line x1="553.6" y1="105.7" x2="553.6" y2="110.7" stroke="#555" stroke-width="0.8" />
<line x1="615.8" y1="108.9" x2="615.8" y2="113.9" stroke="#555" stroke-width="0.8" />
<line x1="558" y1="107.5" x2="558" y2="112.5" stroke="#555" stroke-width="0.8" />
<line x1="620.2" y1="107" x2="620.2" y2="112" stroke="#555" stroke-width="0.8" />
<line x1="562.4" y1="109.3" x2="562.4" y2="114.3" stroke="#555" stroke-width="0.8" />
<line x1="624.7" y1="105.1" x2="624.7" y2="110.1" stroke="#555" stroke-width="0.8" />
<line x1="566.9" y1="111.1" x2="566.9" y2="116.1" stroke="#555" stroke-width="0.8" />
<line x1="629.2" y1="103.3" x2="629.2" y2="108.3" stroke="#555" stroke-width="0.8" />
<line x1="571.3" y1="112.9" x2="571.3" y2="117.9" stroke="#555" stroke-width="0.8" />
<line x1="633.6" y1="101.4" x2="633.6" y2="106.4" stroke="#555" stroke-width="0.8" />
<line x1="575.7" y1="114.6" x2="575.7" y2="119.6" stroke="#555" stroke-width="0.8" />
<line x1="638.1" y1="99.6" x2="638.1" y2="104.6" stroke="#555" stroke-width="0.8" />
<line x1="580.1" y1="116.4" x2="580.1" y2="121.4" stroke="#555" stroke-width="0.8" />
<line x1="642.6" y1="97.7" x2="642.6" y2="102.7" stroke="#555" stroke-width="0.8" />
<line x1="584.6" y1="118.2" x2="584.6" y2="123.2" stroke="#555" stroke-width="0.8" />
<line x1="647" y1="95.9" x2="647" y2="100.9" stroke="#555" stroke-width="0.8" />
<polygon points="527,95 589,72 651.5,94 589,120" fill="#fff" stroke="#333" stroke-width="1.3" />
<polygon points="550.6,95.3 567.3,88.9 584.1,95.3 567.3,101.9" fill="#8c8c8c" stroke="#333" stroke-width="0.8" />
<polygon points="572.3,103.8 589.1,97.2 605.9,103.6 589.1,110.4" fill="#8c8c8c" stroke="#333" stroke-width="0.8" />
<polygon points="572.3,87 589.1,80.7 605.9,86.8 589.1,93.3" fill="#8c8c8c" stroke="#333" stroke-width="0.8" />
<polygon points="594.1,95.2 610.9,88.6 627.8,94.7 610.9,101.5" fill="#8c8c8c" stroke="#333" stroke-width="0.8" />
<line x1="552.1" y1="94.7" x2="590.6" y2="109.8" stroke="#6a6a6a" stroke-width="0.7" />
<line x1="552.1" y1="95.9" x2="590.6" y2="81.2" stroke="#6a6a6a" stroke-width="0.7" />
<line x1="556.5" y1="93" x2="595.1" y2="108" stroke="#6a6a6a" stroke-width="0.7" />
<line x1="556.5" y1="97.6" x2="595.1" y2="82.8" stroke="#6a6a6a" stroke-width="0.7" />
<line x1="561" y1="91.3" x2="599.5" y2="106.2" stroke="#6a6a6a" stroke-width="0.7" />
<line x1="561" y1="99.4" x2="599.5" y2="84.4" stroke="#6a6a6a" stroke-width="0.7" />
<line x1="565.4" y1="89.6" x2="604" y2="104.4" stroke="#6a6a6a" stroke-width="0.7" />
<line x1="565.4" y1="101.1" x2="604" y2="86" stroke="#6a6a6a" stroke-width="0.7" />
<line x1="574.3" y1="86.3" x2="612.9" y2="100.7" stroke="#6a6a6a" stroke-width="0.7" />
<line x1="574.3" y1="104.6" x2="612.9" y2="89.3" stroke="#6a6a6a" stroke-width="0.7" />
<line x1="578.7" y1="84.6" x2="617.3" y2="98.9" stroke="#6a6a6a" stroke-width="0.7" />
<line x1="578.7" y1="106.3" x2="617.3" y2="90.9" stroke="#6a6a6a" stroke-width="0.7" />
<line x1="583.1" y1="82.9" x2="621.8" y2="97.1" stroke="#6a6a6a" stroke-width="0.7" />
<line x1="583.1" y1="108.1" x2="621.8" y2="92.5" stroke="#6a6a6a" stroke-width="0.7" />
<line x1="587.6" y1="81.2" x2="626.3" y2="95.3" stroke="#6a6a6a" stroke-width="0.7" />
<line x1="587.6" y1="109.8" x2="626.3" y2="94.1" stroke="#6a6a6a" stroke-width="0.7" />
<polygon points="538.8,95.2 589,76.3 639.6,94.4 589,115.2" fill="none" stroke="#333" stroke-width="1" />
<polygon points="550.6,95.3 589.1,80.7 627.8,94.7 589.1,110.4" fill="none" stroke="#333" stroke-width="1" />
<line x1="531.4" y1="93.4" x2="543.2" y2="98.1" stroke="#333" stroke-width="1" />
<line x1="581.7" y1="113.4" x2="593.5" y2="118.1" stroke="#333" stroke-width="1" />
<line x1="531.4" y1="96.8" x2="543.2" y2="92.4" stroke="#333" stroke-width="1" />
<line x1="581.7" y1="78" x2="593.5" y2="73.6" stroke="#333" stroke-width="1" />
<line x1="535.9" y1="91.7" x2="547.7" y2="96.4" stroke="#333" stroke-width="1" />
<line x1="586.1" y1="111.6" x2="597.9" y2="116.3" stroke="#333" stroke-width="1" />
<line x1="535.9" y1="98.6" x2="547.7" y2="94.1" stroke="#333" stroke-width="1" />
<line x1="586.1" y1="79.6" x2="597.9" y2="75.1" stroke="#333" stroke-width="1" />
<line x1="540.3" y1="90.1" x2="552.1" y2="94.7" stroke="#333" stroke-width="1" />
<line x1="590.6" y1="109.8" x2="602.4" y2="114.4" stroke="#333" stroke-width="1" />
<line x1="540.3" y1="100.4" x2="552.1" y2="95.9" stroke="#333" stroke-width="1" />
<line x1="590.6" y1="81.2" x2="602.4" y2="76.7" stroke="#333" stroke-width="1" />
<line x1="544.7" y1="88.4" x2="556.5" y2="93" stroke="#333" stroke-width="1" />
<line x1="595.1" y1="108" x2="606.9" y2="112.6" stroke="#333" stroke-width="1" />
<line x1="544.7" y1="102.1" x2="556.5" y2="97.6" stroke="#333" stroke-width="1" />
<line x1="595.1" y1="82.8" x2="606.9" y2="78.3" stroke="#333" stroke-width="1" />
<line x1="549.1" y1="86.8" x2="561" y2="91.3" stroke="#333" stroke-width="1" />
<line x1="599.5" y1="106.2" x2="611.3" y2="110.7" stroke="#333" stroke-width="1" />
<line x1="549.1" y1="103.9" x2="561" y2="99.4" stroke="#333" stroke-width="1" />
<line x1="599.5" y1="84.4" x2="611.3" y2="79.9" stroke="#333" stroke-width="1" />
<line x1="553.6" y1="85.1" x2="565.4" y2="89.6" stroke="#333" stroke-width="1" />
<line x1="604" y1="104.4" x2="615.8" y2="108.9" stroke="#333" stroke-width="1" />
<line x1="553.6" y1="105.7" x2="565.4" y2="101.1" stroke="#333" stroke-width="1" />
<line x1="604" y1="86" x2="615.8" y2="81.4" stroke="#333" stroke-width="1" />
<line x1="558" y1="83.5" x2="569.8" y2="88" stroke="#333" stroke-width="1" />
<line x1="608.4" y1="102.5" x2="620.2" y2="107" stroke="#333" stroke-width="1" />
<line x1="558" y1="107.5" x2="569.8" y2="102.8" stroke="#333" stroke-width="1" />
<line x1="608.4" y1="87.7" x2="620.2" y2="83" stroke="#333" stroke-width="1" />
<line x1="562.4" y1="81.9" x2="574.3" y2="86.3" stroke="#333" stroke-width="1" />
<line x1="612.9" y1="100.7" x2="624.7" y2="105.1" stroke="#333" stroke-width="1" />
<line x1="562.4" y1="109.3" x2="574.3" y2="104.6" stroke="#333" stroke-width="1" />
<line x1="612.9" y1="89.3" x2="624.7" y2="84.6" stroke="#333" stroke-width="1" />
<line x1="566.9" y1="80.2" x2="578.7" y2="84.6" stroke="#333" stroke-width="1" />
<line x1="617.3" y1="98.9" x2="629.2" y2="103.3" stroke="#333" stroke-width="1" />
<line x1="566.9" y1="111.1" x2="578.7" y2="106.3" stroke="#333" stroke-width="1" />
<line x1="617.3" y1="90.9" x2="629.2" y2="86.1" stroke="#333" stroke-width="1" />
<line x1="571.3" y1="78.6" x2="583.1" y2="82.9" stroke="#333" stroke-width="1" />
<line x1="621.8" y1="97.1" x2="633.6" y2="101.4" stroke="#333" stroke-width="1" />
<line x1="571.3" y1="112.9" x2="583.1" y2="108.1" stroke="#333" stroke-width="1" />
<line x1="621.8" y1="92.5" x2="633.6" y2="87.7" stroke="#333" stroke-width="1" />
<line x1="575.7" y1="76.9" x2="587.6" y2="81.2" stroke="#333" stroke-width="1" />
<line x1="626.3" y1="95.3" x2="638.1" y2="99.6" stroke="#333" stroke-width="1" />
<line x1="575.7" y1="114.6" x2="587.6" y2="109.8" stroke="#333" stroke-width="1" />
<line x1="626.3" y1="94.1" x2="638.1" y2="89.3" stroke="#333" stroke-width="1" />
<line x1="580.1" y1="75.3" x2="592" y2="79.5" stroke="#333" stroke-width="1" />
<line x1="630.7" y1="93.5" x2="642.6" y2="97.7" stroke="#333" stroke-width="1" />
<line x1="580.1" y1="116.4" x2="592" y2="111.6" stroke="#333" stroke-width="1" />
<line x1="630.7" y1="95.7" x2="642.6" y2="90.9" stroke="#333" stroke-width="1" />
<line x1="584.6" y1="73.6" x2="596.4" y2="77.9" stroke="#333" stroke-width="1" />
<line x1="635.2" y1="91.6" x2="647" y2="95.9" stroke="#333" stroke-width="1" />
<line x1="584.6" y1="118.2" x2="596.4" y2="113.3" stroke="#333" stroke-width="1" />
<line x1="635.2" y1="97.3" x2="647" y2="92.4" stroke="#333" stroke-width="1" />
<text x="491" y="139" textLength="63" lengthAdjust="spacingAndGlyphs" font-size="18" font-weight="400" fill="#b02c42" stroke="#b02c42" stroke-width="0.5">MPV007</text>
<text x="663" y="104" textLength="70" lengthAdjust="spacingAndGlyphs" font-size="18" font-weight="400" fill="#b02c42" stroke="#b02c42" stroke-width="0.5">APV0200</text>
<line x1="656" y1="116" x2="697" y2="107" stroke="#b04860" stroke-width="1" />
<ellipse cx="200" cy="191.5" rx="47" ry="18.5" fill="#d9d9d9" stroke="none" stroke-width="1" />
<polygon points="154,190 200,175 245,190 199,209" fill="#7a7a7a" stroke="#333" stroke-width="1.4" />
<polygon points="155.9,190.1 159.1,189 162.2,190.3 159,191.4" fill="#f0f0f0" stroke="none" stroke-width="0" />
<polygon points="160.9,192.2 164.1,191.1 167.2,192.4 164,193.5" fill="#f0f0f0" stroke="none" stroke-width="0" />
<polygon points="165.9,194.3 169.1,193.2 172.2,194.5 169,195.6" fill="#f0f0f0" stroke="none" stroke-width="0" />
<polygon points="170.9,196.4 174.1,195.3 177.2,196.5 174,197.7" fill="#f0f0f0" stroke="none" stroke-width="0" />
<polygon points="175.9,198.5 179.1,197.3 182.2,198.6 179,199.8" fill="#f0f0f0" stroke="none" stroke-width="0" />
<polygon points="180.9,200.6 184.1,199.4 187.2,200.7 184,201.9" fill="#f0f0f0" stroke="none" stroke-width="0" />
<polygon points="185.9,202.7 189.1,201.5 192.2,202.8 189,204" fill="#f0f0f0" stroke="none" stroke-width="0" />
<polygon points="190.9,204.8 194.1,203.5 197.2,204.8 194,206.1" fill="#f0f0f0" stroke="none" stroke-width="0" />
<polygon points="195.9,206.9 199.1,205.6 202.2,206.9 199,208.2" fill="#f0f0f0" stroke="none" stroke-width="0" />
<polygon points="161,188.4 164.2,187.4 167.3,188.6 164.1,189.7" fill="#f0f0f0" stroke="none" stroke-width="0" />
<polygon points="166,190.5 169.2,189.4 172.3,190.6 169.1,191.7" fill="#f0f0f0" stroke="none" stroke-width="0" />
<polygon points="171,192.5 174.2,191.4 177.3,192.7 174.1,193.8" fill="#f0f0f0" stroke="none" stroke-width="0" />
<polygon points="176,194.6 179.2,193.4 182.3,194.7 179.1,195.8" fill="#f0f0f0" stroke="none" stroke-width="0" />
<polygon points="181,196.6 184.2,195.5 187.3,196.7 184.1,197.9" fill="#f0f0f0" stroke="none" stroke-width="0" />
<polygon points="186,198.7 189.2,197.5 192.3,198.7 189.1,199.9" fill="#f0f0f0" stroke="none" stroke-width="0" />
<polygon points="191,200.7 194.2,199.5 197.3,200.8 194.1,202" fill="#f0f0f0" stroke="none" stroke-width="0" />
<polygon points="196,202.8 199.2,201.5 202.3,202.8 199.1,204" fill="#f0f0f0" stroke="none" stroke-width="0" />
<polygon points="201,204.8 204.2,203.5 207.3,204.8 204.1,206.1" fill="#f0f0f0" stroke="none" stroke-width="0" />
<polygon points="166.1,186.7 169.3,185.7 172.4,186.9 169.2,188" fill="#f0f0f0" stroke="none" stroke-width="0" />
<polygon points="171.1,188.7 174.3,187.7 177.4,188.9 174.2,190" fill="#f0f0f0" stroke="none" stroke-width="0" />
<polygon points="176.1,190.7 179.3,189.6 182.4,190.9 179.2,192" fill="#f0f0f0" stroke="none" stroke-width="0" />
<polygon points="181.1,192.7 184.3,191.6 187.4,192.8 184.2,194" fill="#f0f0f0" stroke="none" stroke-width="0" />
<polygon points="186.1,194.7 189.3,193.6 192.4,194.8 189.2,196" fill="#f0f0f0" stroke="none" stroke-width="0" />
<polygon points="191.1,196.7 194.3,195.6 197.4,196.8 194.2,198" fill="#f0f0f0" stroke="none" stroke-width="0" />
<polygon points="196.1,198.7 199.3,197.5 202.4,198.7 199.2,200" fill="#f0f0f0" stroke="none" stroke-width="0" />
<polygon points="201.1,200.8 204.3,199.5 207.4,200.7 204.2,202" fill="#f0f0f0" stroke="none" stroke-width="0" />
<polygon points="206.1,202.8 209.3,201.5 212.4,202.7 209.2,204" fill="#f0f0f0" stroke="none" stroke-width="0" />
<polygon points="171.3,185.1 174.4,184 177.5,185.2 174.4,186.3" fill="#f0f0f0" stroke="none" stroke-width="0" />
<polygon points="176.3,187 179.4,185.9 182.5,187.1 179.4,188.2" fill="#f0f0f0" stroke="none" stroke-width="0" />
<polygon points="181.3,189 184.4,187.9 187.5,189.1 184.4,190.2" fill="#f0f0f0" stroke="none" stroke-width="0" />
<polygon points="186.3,190.9 189.4,189.8 192.5,191 189.4,192.1" fill="#f0f0f0" stroke="none" stroke-width="0" />
<polygon points="191.3,192.9 194.4,191.7 197.5,192.9 194.4,194.1" fill="#f0f0f0" stroke="none" stroke-width="0" />
<polygon points="196.3,194.8 199.4,193.6 202.5,194.8 199.4,196" fill="#f0f0f0" stroke="none" stroke-width="0" />
<polygon points="201.3,196.8 204.4,195.6 207.5,196.7 204.4,198" fill="#f0f0f0" stroke="none" stroke-width="0" />
<polygon points="206.3,198.7 209.4,197.5 212.5,198.7 209.4,199.9" fill="#f0f0f0" stroke="none" stroke-width="0" />
<polygon points="211.3,200.7 214.4,199.4 217.5,200.6 214.4,201.9" fill="#f0f0f0" stroke="none" stroke-width="0" />
<polygon points="176.4,183.4 179.5,182.3 182.6,183.5 179.5,184.6" fill="#f0f0f0" stroke="none" stroke-width="0" />
<polygon points="181.4,185.3 184.5,184.2 187.6,185.4 184.5,186.5" fill="#f0f0f0" stroke="none" stroke-width="0" />
<polygon points="186.4,187.2 189.5,186.1 192.6,187.2 189.5,188.4" fill="#f0f0f0" stroke="none" stroke-width="0" />
<polygon points="191.4,189.1 194.5,188 197.6,189.1 194.5,190.3" fill="#f0f0f0" stroke="none" stroke-width="0" />
<polygon points="196.4,191 199.5,189.8 202.6,191 199.5,192.2" fill="#f0f0f0" stroke="none" stroke-width="0" />
<polygon points="201.4,192.9 204.5,191.7 207.6,192.9 204.5,194.1" fill="#f0f0f0" stroke="none" stroke-width="0" />
<polygon points="206.4,194.8 209.5,193.6 212.6,194.7 209.5,196" fill="#f0f0f0" stroke="none" stroke-width="0" />
<polygon points="211.4,196.7 214.5,195.5 217.6,196.6 214.5,197.9" fill="#f0f0f0" stroke="none" stroke-width="0" />
<polygon points="216.4,198.6 219.5,197.3 222.6,198.5 219.5,199.8" fill="#f0f0f0" stroke="none" stroke-width="0" />
<polygon points="181.5,181.7 184.6,180.7 187.7,181.8 184.6,182.9" fill="#f0f0f0" stroke="none" stroke-width="0" />
<polygon points="186.5,183.6 189.6,182.5 192.7,183.6 189.6,184.7" fill="#f0f0f0" stroke="none" stroke-width="0" />
<polygon points="191.5,185.4 194.6,184.3 197.7,185.4 194.6,186.6" fill="#f0f0f0" stroke="none" stroke-width="0" />
<polygon points="196.5,187.3 199.6,186.1 202.7,187.3 199.6,188.4" fill="#f0f0f0" stroke="none" stroke-width="0" />
<polygon points="201.5,189.1 204.6,188 207.7,189.1 204.6,190.3" fill="#f0f0f0" stroke="none" stroke-width="0" />
<polygon points="206.5,191 209.6,189.8 212.7,190.9 209.6,192.1" fill="#f0f0f0" stroke="none" stroke-width="0" />
<polygon points="211.5,192.8 214.6,191.6 217.7,192.7 214.6,194" fill="#f0f0f0" stroke="none" stroke-width="0" />
<polygon points="216.5,194.7 219.6,193.4 222.7,194.6 219.6,195.8" fill="#f0f0f0" stroke="none" stroke-width="0" />
<polygon points="221.5,196.5 224.6,195.3 227.7,196.4 224.6,197.7" fill="#f0f0f0" stroke="none" stroke-width="0" />
<polygon points="186.6,180 189.8,179 192.9,180.1 189.7,181.1" fill="#f0f0f0" stroke="none" stroke-width="0" />
<polygon points="191.6,181.8 194.8,180.8 197.9,181.9 194.7,183" fill="#f0f0f0" stroke="none" stroke-width="0" />
<polygon points="196.6,183.6 199.8,182.5 202.9,183.6 199.7,184.8" fill="#f0f0f0" stroke="none" stroke-width="0" />
<polygon points="201.6,185.4 204.8,184.3 207.9,185.4 204.7,186.6" fill="#f0f0f0" stroke="none" stroke-width="0" />
<polygon points="206.6,187.2 209.8,186.1 212.9,187.2 209.7,188.4" fill="#f0f0f0" stroke="none" stroke-width="0" />
<polygon points="211.6,189.1 214.8,187.9 217.9,189 214.7,190.2" fill="#f0f0f0" stroke="none" stroke-width="0" />
<polygon points="216.6,190.9 219.8,189.6 222.9,190.7 219.7,192" fill="#f0f0f0" stroke="none" stroke-width="0" />
<polygon points="221.6,192.7 224.8,191.4 227.9,192.5 224.7,193.8" fill="#f0f0f0" stroke="none" stroke-width="0" />
<polygon points="226.6,194.5 229.8,193.2 232.9,194.3 229.7,195.6" fill="#f0f0f0" stroke="none" stroke-width="0" />
<polygon points="191.7,178.4 194.9,177.3 198,178.4 194.8,179.4" fill="#f0f0f0" stroke="none" stroke-width="0" />
<polygon points="196.7,180.1 199.9,179 203,180.1 199.8,181.2" fill="#f0f0f0" stroke="none" stroke-width="0" />
<polygon points="201.7,181.9 204.9,180.8 208,181.8 204.8,183" fill="#f0f0f0" stroke="none" stroke-width="0" />
<polygon points="206.7,183.6 209.9,182.5 213,183.6 209.8,184.7" fill="#f0f0f0" stroke="none" stroke-width="0" />
<polygon points="211.7,185.4 214.9,184.2 218,185.3 214.8,186.5" fill="#f0f0f0" stroke="none" stroke-width="0" />
<polygon points="216.7,187.1 219.9,185.9 223,187 219.8,188.2" fill="#f0f0f0" stroke="none" stroke-width="0" />
<polygon points="221.7,188.9 224.9,187.7 228,188.7 224.8,190" fill="#f0f0f0" stroke="none" stroke-width="0" />
<polygon points="226.7,190.6 229.9,189.4 233,190.5 229.8,191.7" fill="#f0f0f0" stroke="none" stroke-width="0" />
<polygon points="231.7,192.4 234.9,191.1 238,192.2 234.8,193.5" fill="#f0f0f0" stroke="none" stroke-width="0" />
<polygon points="196.8,176.7 200,175.6 203.1,176.7 199.9,177.7" fill="#f0f0f0" stroke="none" stroke-width="0" />
<polygon points="201.8,178.4 205,177.3 208.1,178.4 204.9,179.4" fill="#f0f0f0" stroke="none" stroke-width="0" />
<polygon points="206.8,180.1 210,179 213.1,180 209.9,181.1" fill="#f0f0f0" stroke="none" stroke-width="0" />
<polygon points="211.8,181.8 215,180.7 218.1,181.7 214.9,182.9" fill="#f0f0f0" stroke="none" stroke-width="0" />
<polygon points="216.8,183.5 220,182.3 223.1,183.4 219.9,184.6" fill="#f0f0f0" stroke="none" stroke-width="0" />
<polygon points="221.8,185.2 225,184 228.1,185.1 224.9,186.3" fill="#f0f0f0" stroke="none" stroke-width="0" />
<polygon points="226.8,186.9 230,185.7 233.1,186.7 229.9,188" fill="#f0f0f0" stroke="none" stroke-width="0" />
<polygon points="231.8,188.6 235,187.4 238.1,188.4 234.9,189.7" fill="#f0f0f0" stroke="none" stroke-width="0" />
<polygon points="236.8,190.3 240,189 243.1,190.1 239.9,191.4" fill="#f0f0f0" stroke="none" stroke-width="0" />
<text x="147" y="158" textLength="126" lengthAdjust="spacingAndGlyphs" font-size="17" font-weight="700" fill="#1a1a1a">MPV001-ANTIC</text>
<line x1="206" y1="161" x2="200" y2="175" stroke="#333" stroke-width="1" />
<ellipse cx="776" cy="171.5" rx="64" ry="33.5" fill="#d9d9d9" stroke="none" stroke-width="1" />
<path d="M744,166 L744,192 A32,10 0 0 0 808,192 L808,166 Z" fill="#8c8c8c" stroke="#222" stroke-width="1.6" />
<path d="M752,171 A24,9 0 0 0 805,171" fill="none" stroke="#a8a8a8" stroke-width="1.3"/>
<path d="M752,173.4 A24,9 0 0 0 805,173.4" fill="none" stroke="#777" stroke-width="0.9"/>
<path d="M752,175.8 A24,9 0 0 0 805,175.8" fill="none" stroke="#a8a8a8" stroke-width="1.3"/>
<path d="M752,178.2 A24,9 0 0 0 805,178.2" fill="none" stroke="#777" stroke-width="0.9"/>
<path d="M752,180.6 A24,9 0 0 0 805,180.6" fill="none" stroke="#a8a8a8" stroke-width="1.3"/>
<path d="M752,183 A24,9 0 0 0 805,183" fill="none" stroke="#777" stroke-width="0.9"/>
<path d="M752,185.4 A24,9 0 0 0 805,185.4" fill="none" stroke="#a8a8a8" stroke-width="1.3"/>
<path d="M752,187.8 A24,9 0 0 0 805,187.8" fill="none" stroke="#777" stroke-width="0.9"/>
<path d="M752,190.2 A24,9 0 0 0 805,190.2" fill="none" stroke="#a8a8a8" stroke-width="1.3"/>
<path d="M752,192.6 A24,9 0 0 0 805,192.6" fill="none" stroke="#777" stroke-width="0.9"/>
<path d="M743,154 L743,166 A33,10 0 0 0 809,166 L809,154 Z" fill="#fff" stroke="#1a1a1a" stroke-width="1.5" />
<path d="M745,169 A31,9 0 0 0 807,169" fill="none" stroke="#333" stroke-width="1.2"/>
<ellipse cx="775.7" cy="153.7" rx="33" ry="11" fill="#fff" stroke="#1a1a1a" stroke-width="1.6" />
<ellipse cx="776" cy="157" rx="30" ry="7.7" fill="#eee" stroke="#1a1a1a" stroke-width="1.4" />
<text x="690.7" y="136" textLength="75" lengthAdjust="spacingAndGlyphs" font-size="17" font-weight="700" fill="#1a1a1a">APV0800</text>
<line x1="718" y1="136" x2="738" y2="159" stroke="#333" stroke-width="1" />
<ellipse cx="193.3" cy="346.2" rx="69.8" ry="70" fill="none" stroke="#b04860" stroke-width="1.6" />
<ellipse cx="193" cy="300" rx="46" ry="18" fill="#d9d9d9" stroke="none" stroke-width="1" />
<path d="M162,350 L162,400 A32,8 0 0 0 226,400 L226,350 Z" fill="#a0a0a0" stroke="#1a1a1a" stroke-width="1.6" />
<path d="M170,355 A24,7 0 0 0 223,355" fill="none" stroke="#c4c4c4" stroke-width="1.3"/>
<path d="M170,358.4 A24,7 0 0 0 223,358.4" fill="none" stroke="#808080" stroke-width="0.9"/>
<path d="M170,361.9 A24,7 0 0 0 223,361.9" fill="none" stroke="#c4c4c4" stroke-width="1.3"/>
<path d="M170,365.3 A24,7 0 0 0 223,365.3" fill="none" stroke="#808080" stroke-width="0.9"/>
<path d="M170,368.7 A24,7 0 0 0 223,368.7" fill="none" stroke="#c4c4c4" stroke-width="1.3"/>
<path d="M170,372.1 A24,7 0 0 0 223,372.1" fill="none" stroke="#808080" stroke-width="0.9"/>
<path d="M170,375.6 A24,7 0 0 0 223,375.6" fill="none" stroke="#c4c4c4" stroke-width="1.3"/>
<path d="M170,379 A24,7 0 0 0 223,379" fill="none" stroke="#808080" stroke-width="0.9"/>
<path d="M170,382.4 A24,7 0 0 0 223,382.4" fill="none" stroke="#c4c4c4" stroke-width="1.3"/>
<path d="M170,385.9 A24,7 0 0 0 223,385.9" fill="none" stroke="#808080" stroke-width="0.9"/>
<path d="M170,389.3 A24,7 0 0 0 223,389.3" fill="none" stroke="#c4c4c4" stroke-width="1.3"/>
<path d="M170,392.7 A24,7 0 0 0 223,392.7" fill="none" stroke="#808080" stroke-width="0.9"/>
<path d="M170,396.1 A24,7 0 0 0 223,396.1" fill="none" stroke="#c4c4c4" stroke-width="1.3"/>
<path d="M170,399.6 A24,7 0 0 0 223,399.6" fill="none" stroke="#808080" stroke-width="0.9"/>
<line x1="169" y1="352" x2="169" y2="404.8" stroke="#e8e8e8" stroke-width="1" stroke-dasharray="3,2"/>
<polygon points="147,339 193.7,356 193.7,359 147,342" fill="#fff" stroke="#1a1a1a" stroke-width="1.2" />
<polygon points="193.7,356 241,339 241,342 193.7,359" fill="#fff" stroke="#1a1a1a" stroke-width="1.2" />
<polygon points="147,339 194.6,323 241,339 193.7,356" fill="#fff" stroke="#1a1a1a" stroke-width="1.5" />
<polygon points="164.9,339.2 194.4,329.1 223.2,339.2 193.8,349.6" fill="#fff" stroke="#1a1a1a" stroke-width="1.5" />
<ellipse cx="154.1" cy="339.7" rx="2.9" ry="1.9" fill="#fff" stroke="#666" stroke-width="0.8" />
<ellipse cx="191.9" cy="353.4" rx="2.9" ry="1.9" fill="#fff" stroke="#666" stroke-width="0.8" />
<ellipse cx="154.1" cy="338.4" rx="2.9" ry="1.9" fill="#fff" stroke="#666" stroke-width="0.8" />
<ellipse cx="192.7" cy="325.4" rx="2.9" ry="1.9" fill="#fff" stroke="#666" stroke-width="0.8" />
<ellipse cx="159.4" cy="337.9" rx="2.9" ry="1.9" fill="#fff" stroke="#666" stroke-width="0.8" />
<ellipse cx="197.2" cy="351.6" rx="2.9" ry="1.9" fill="#fff" stroke="#666" stroke-width="0.8" />
<ellipse cx="159.3" cy="340.3" rx="2.9" ry="1.9" fill="#fff" stroke="#666" stroke-width="0.8" />
<ellipse cx="197.8" cy="327.2" rx="2.9" ry="1.9" fill="#fff" stroke="#666" stroke-width="0.8" />
<ellipse cx="164.7" cy="336.1" rx="2.9" ry="1.9" fill="#fff" stroke="#666" stroke-width="0.8" />
<ellipse cx="202.4" cy="349.7" rx="2.9" ry="1.9" fill="#fff" stroke="#666" stroke-width="0.8" />
<ellipse cx="164.5" cy="342.2" rx="2.9" ry="1.9" fill="#fff" stroke="#666" stroke-width="0.8" />
<ellipse cx="203" cy="329" rx="2.9" ry="1.9" fill="#fff" stroke="#666" stroke-width="0.8" />
<ellipse cx="169.9" cy="334.4" rx="2.9" ry="1.9" fill="#fff" stroke="#666" stroke-width="0.8" />
<ellipse cx="207.7" cy="347.8" rx="2.9" ry="1.9" fill="#fff" stroke="#666" stroke-width="0.8" />
<ellipse cx="169.7" cy="344.1" rx="2.9" ry="1.9" fill="#fff" stroke="#666" stroke-width="0.8" />
<ellipse cx="208.1" cy="330.8" rx="2.9" ry="1.9" fill="#fff" stroke="#666" stroke-width="0.8" />
<ellipse cx="175.2" cy="332.6" rx="2.9" ry="1.9" fill="#fff" stroke="#666" stroke-width="0.8" />
<ellipse cx="212.9" cy="345.9" rx="2.9" ry="1.9" fill="#fff" stroke="#666" stroke-width="0.8" />
<ellipse cx="174.9" cy="345.9" rx="2.9" ry="1.9" fill="#fff" stroke="#666" stroke-width="0.8" />
<ellipse cx="213.3" cy="332.6" rx="2.9" ry="1.9" fill="#fff" stroke="#666" stroke-width="0.8" />
<ellipse cx="180.5" cy="330.8" rx="2.9" ry="1.9" fill="#fff" stroke="#666" stroke-width="0.8" />
<ellipse cx="218.2" cy="344.1" rx="2.9" ry="1.9" fill="#fff" stroke="#666" stroke-width="0.8" />
<ellipse cx="180" cy="347.8" rx="2.9" ry="1.9" fill="#fff" stroke="#666" stroke-width="0.8" />
<ellipse cx="218.5" cy="334.4" rx="2.9" ry="1.9" fill="#fff" stroke="#666" stroke-width="0.8" />
<ellipse cx="185.8" cy="329" rx="2.9" ry="1.9" fill="#fff" stroke="#666" stroke-width="0.8" />
<ellipse cx="223.4" cy="342.2" rx="2.9" ry="1.9" fill="#fff" stroke="#666" stroke-width="0.8" />
<ellipse cx="185.2" cy="349.7" rx="2.9" ry="1.9" fill="#fff" stroke="#666" stroke-width="0.8" />
<ellipse cx="223.6" cy="336.1" rx="2.9" ry="1.9" fill="#fff" stroke="#666" stroke-width="0.8" />
<ellipse cx="191.1" cy="327.2" rx="2.9" ry="1.9" fill="#fff" stroke="#666" stroke-width="0.8" />
<ellipse cx="228.7" cy="340.3" rx="2.9" ry="1.9" fill="#fff" stroke="#666" stroke-width="0.8" />
<ellipse cx="190.4" cy="351.6" rx="2.9" ry="1.9" fill="#fff" stroke="#666" stroke-width="0.8" />
<ellipse cx="228.8" cy="337.9" rx="2.9" ry="1.9" fill="#fff" stroke="#666" stroke-width="0.8" />
<ellipse cx="196.4" cy="325.4" rx="2.9" ry="1.9" fill="#fff" stroke="#666" stroke-width="0.8" />
<ellipse cx="234" cy="338.4" rx="2.9" ry="1.9" fill="#fff" stroke="#666" stroke-width="0.8" />
<ellipse cx="195.6" cy="353.4" rx="2.9" ry="1.9" fill="#fff" stroke="#666" stroke-width="0.8" />
<ellipse cx="233.9" cy="339.7" rx="2.9" ry="1.9" fill="#fff" stroke="#666" stroke-width="0.8" />
<line x1="219.1" y1="330.4" x2="219.1" y2="342.4" stroke="#222" stroke-width="1.3" />
<polygon points="148.7,302 192.8,285 239.6,303 193.7,319" fill="#6a6a6a" stroke="#333" stroke-width="1.4" />
<polygon points="150.7,302 153.6,300.9 156.6,302 153.7,303.1" fill="#fff" stroke="none" stroke-width="0" />
<polygon points="155.7,303.9 158.6,302.8 161.7,303.9 158.7,305" fill="#fff" stroke="none" stroke-width="0" />
<polygon points="160.7,305.8 163.7,304.7 166.7,305.8 163.7,306.9" fill="#fff" stroke="none" stroke-width="0" />
<polygon points="165.7,307.7 168.7,306.6 171.7,307.7 168.7,308.8" fill="#fff" stroke="none" stroke-width="0" />
<polygon points="170.7,309.6 173.7,308.5 176.7,309.6 173.7,310.7" fill="#fff" stroke="none" stroke-width="0" />
<polygon points="175.7,311.5 178.7,310.4 181.7,311.5 178.7,312.6" fill="#fff" stroke="none" stroke-width="0" />
<polygon points="180.7,313.3 183.7,312.3 186.7,313.4 183.7,314.5" fill="#fff" stroke="none" stroke-width="0" />
<polygon points="185.7,315.2 188.7,314.2 191.8,315.3 188.7,316.4" fill="#fff" stroke="none" stroke-width="0" />
<polygon points="190.7,317.1 193.8,316.1 196.8,317.2 193.7,318.3" fill="#fff" stroke="none" stroke-width="0" />
<polygon points="155.6,300.1 158.5,299 161.6,300.1 158.6,301.3" fill="#fff" stroke="none" stroke-width="0" />
<polygon points="160.6,302 163.6,300.9 166.6,302 163.6,303.2" fill="#fff" stroke="none" stroke-width="0" />
<polygon points="165.6,303.9 168.6,302.8 171.6,304 168.7,305.1" fill="#fff" stroke="none" stroke-width="0" />
<polygon points="170.7,305.8 173.6,304.7 176.7,305.9 173.7,307" fill="#fff" stroke="none" stroke-width="0" />
<polygon points="175.7,307.7 178.7,306.6 181.7,307.8 178.7,308.9" fill="#fff" stroke="none" stroke-width="0" />
<polygon points="180.7,309.6 183.7,308.5 186.8,309.7 183.7,310.8" fill="#fff" stroke="none" stroke-width="0" />
<polygon points="185.7,311.5 188.8,310.4 191.8,311.6 188.8,312.7" fill="#fff" stroke="none" stroke-width="0" />
<polygon points="190.8,313.4 193.8,312.4 196.8,313.5 193.8,314.6" fill="#fff" stroke="none" stroke-width="0" />
<polygon points="195.8,315.3 198.8,314.3 201.9,315.4 198.8,316.5" fill="#fff" stroke="none" stroke-width="0" />
<polygon points="160.5,298.2 163.4,297.1 166.5,298.2 163.5,299.4" fill="#fff" stroke="none" stroke-width="0" />
<polygon points="165.5,300.1 168.5,299 171.5,300.2 168.6,301.3" fill="#fff" stroke="none" stroke-width="0" />
<polygon points="170.6,302.1 173.6,300.9 176.6,302.1 173.6,303.2" fill="#fff" stroke="none" stroke-width="0" />
<polygon points="175.6,304 178.6,302.9 181.7,304 178.7,305.1" fill="#fff" stroke="none" stroke-width="0" />
<polygon points="180.7,305.9 183.7,304.8 186.7,305.9 183.7,307" fill="#fff" stroke="none" stroke-width="0" />
<polygon points="185.7,307.8 188.7,306.7 191.8,307.9 188.8,309" fill="#fff" stroke="none" stroke-width="0" />
<polygon points="190.8,309.7 193.8,308.6 196.8,309.8 193.8,310.9" fill="#fff" stroke="none" stroke-width="0" />
<polygon points="195.8,311.6 198.9,310.6 201.9,311.7 198.9,312.8" fill="#fff" stroke="none" stroke-width="0" />
<polygon points="200.9,313.6 203.9,312.5 207,313.6 203.9,314.7" fill="#fff" stroke="none" stroke-width="0" />
<polygon points="165.4,296.3 168.3,295.2 171.4,296.4 168.4,297.5" fill="#fff" stroke="none" stroke-width="0" />
<polygon points="170.5,298.3 173.4,297.1 176.5,298.3 173.5,299.4" fill="#fff" stroke="none" stroke-width="0" />
<polygon points="175.5,300.2 178.5,299.1 181.6,300.2 178.6,301.4" fill="#fff" stroke="none" stroke-width="0" />
<polygon points="180.6,302.1 183.6,301 186.6,302.2 183.7,303.3" fill="#fff" stroke="none" stroke-width="0" />
<polygon points="185.7,304.1 188.7,303 191.7,304.1 188.7,305.2" fill="#fff" stroke="none" stroke-width="0" />
<polygon points="190.7,306 193.8,304.9 196.8,306 193.8,307.1" fill="#fff" stroke="none" stroke-width="0" />
<polygon points="195.8,307.9 198.8,306.8 201.9,308 198.9,309.1" fill="#fff" stroke="none" stroke-width="0" />
<polygon points="200.9,309.8 203.9,308.8 207,309.9 203.9,311" fill="#fff" stroke="none" stroke-width="0" />
<polygon points="206,311.8 209,310.7 212.1,311.9 209,312.9" fill="#fff" stroke="none" stroke-width="0" />
<polygon points="170.3,294.5 173.2,293.3 176.3,294.5 173.4,295.6" fill="#fff" stroke="none" stroke-width="0" />
<polygon points="175.4,296.4 178.3,295.3 181.4,296.4 178.4,297.6" fill="#fff" stroke="none" stroke-width="0" />
<polygon points="180.5,298.3 183.5,297.2 186.5,298.4 183.5,299.5" fill="#fff" stroke="none" stroke-width="0" />
<polygon points="185.6,300.3 188.6,299.2 191.6,300.3 188.6,301.4" fill="#fff" stroke="none" stroke-width="0" />
<polygon points="190.7,302.2 193.7,301.1 196.7,302.3 193.7,303.4" fill="#fff" stroke="none" stroke-width="0" />
<polygon points="195.8,304.2 198.8,303.1 201.8,304.2 198.8,305.3" fill="#fff" stroke="none" stroke-width="0" />
<polygon points="200.9,306.1 203.9,305 206.9,306.2 203.9,307.3" fill="#fff" stroke="none" stroke-width="0" />
<polygon points="206,308 209,307 212.1,308.1 209,309.2" fill="#fff" stroke="none" stroke-width="0" />
<polygon points="211,310 214.1,308.9 217.2,310.1 214.1,311.1" fill="#fff" stroke="none" stroke-width="0" />
<polygon points="175.2,292.6 178.1,291.4 181.2,292.6 178.3,293.7" fill="#fff" stroke="none" stroke-width="0" />
<polygon points="180.3,294.5 183.3,293.4 186.4,294.6 183.4,295.7" fill="#fff" stroke="none" stroke-width="0" />
<polygon points="185.4,296.5 188.4,295.4 191.5,296.5 188.5,297.6" fill="#fff" stroke="none" stroke-width="0" />
<polygon points="190.5,298.4 193.5,297.3 196.6,298.5 193.6,299.6" fill="#fff" stroke="none" stroke-width="0" />
<polygon points="195.7,300.4 198.7,299.3 201.7,300.5 198.7,301.6" fill="#fff" stroke="none" stroke-width="0" />
<polygon points="200.8,302.3 203.8,301.2 206.9,302.4 203.9,303.5" fill="#fff" stroke="none" stroke-width="0" />
<polygon points="205.9,304.3 208.9,303.2 212,304.4 209,305.5" fill="#fff" stroke="none" stroke-width="0" />
<polygon points="211,306.2 214,305.2 217.1,306.3 214.1,307.4" fill="#fff" stroke="none" stroke-width="0" />
<polygon points="216.1,308.2 219.2,307.1 222.3,308.3 219.2,309.4" fill="#fff" stroke="none" stroke-width="0" />
<polygon points="180.1,290.7 183.1,289.6 186.1,290.7 183.2,291.9" fill="#fff" stroke="none" stroke-width="0" />
<polygon points="185.2,292.6 188.2,291.5 191.3,292.7 188.3,293.8" fill="#fff" stroke="none" stroke-width="0" />
<polygon points="190.4,294.6 193.4,293.5 196.4,294.7 193.5,295.8" fill="#fff" stroke="none" stroke-width="0" />
<polygon points="195.5,296.6 198.5,295.5 201.6,296.7 198.6,297.8" fill="#fff" stroke="none" stroke-width="0" />
<polygon points="200.7,298.5 203.7,297.4 206.7,298.6 203.7,299.7" fill="#fff" stroke="none" stroke-width="0" />
<polygon points="205.8,300.5 208.8,299.4 211.9,300.6 208.9,301.7" fill="#fff" stroke="none" stroke-width="0" />
<polygon points="210.9,302.5 214,301.4 217,302.6 214,303.7" fill="#fff" stroke="none" stroke-width="0" />
<polygon points="216.1,304.4 219.1,303.4 222.2,304.5 219.2,305.6" fill="#fff" stroke="none" stroke-width="0" />
<polygon points="221.2,306.4 224.3,305.3 227.3,306.5 224.3,307.6" fill="#fff" stroke="none" stroke-width="0" />
<polygon points="185,288.8 188,287.7 191.1,288.9 188.1,290" fill="#fff" stroke="none" stroke-width="0" />
<polygon points="190.2,290.8 193.1,289.6 196.2,290.8 193.3,292" fill="#fff" stroke="none" stroke-width="0" />
<polygon points="195.3,292.8 198.3,291.6 201.4,292.8 198.4,293.9" fill="#fff" stroke="none" stroke-width="0" />
<polygon points="200.5,294.7 203.5,293.6 206.6,294.8 203.6,295.9" fill="#fff" stroke="none" stroke-width="0" />
<polygon points="205.7,296.7 208.6,295.6 211.8,296.8 208.7,297.9" fill="#fff" stroke="none" stroke-width="0" />
<polygon points="210.8,298.7 213.8,297.6 216.9,298.8 213.9,299.9" fill="#fff" stroke="none" stroke-width="0" />
<polygon points="216,300.7 219,299.6 222.1,300.8 219.1,301.8" fill="#fff" stroke="none" stroke-width="0" />
<polygon points="221.1,302.6 224.2,301.6 227.3,302.8 224.2,303.8" fill="#fff" stroke="none" stroke-width="0" />
<polygon points="226.3,304.6 229.3,303.5 232.4,304.7 229.4,305.8" fill="#fff" stroke="none" stroke-width="0" />
<polygon points="189.9,286.9 192.9,285.8 196,287 193,288.1" fill="#fff" stroke="none" stroke-width="0" />
<polygon points="195.1,288.9 198.1,287.8 201.2,289 198.2,290.1" fill="#fff" stroke="none" stroke-width="0" />
<polygon points="200.3,290.9 203.3,289.8 206.4,291 203.4,292.1" fill="#fff" stroke="none" stroke-width="0" />
<polygon points="205.5,292.9 208.4,291.8 211.6,293 208.6,294.1" fill="#fff" stroke="none" stroke-width="0" />
<polygon points="210.6,294.9 213.6,293.8 216.8,295 213.8,296.1" fill="#fff" stroke="none" stroke-width="0" />
<polygon points="215.8,296.9 218.8,295.8 222,297 218.9,298.1" fill="#fff" stroke="none" stroke-width="0" />
<polygon points="221,298.8 224,297.8 227.1,299 224.1,300" fill="#fff" stroke="none" stroke-width="0" />
<polygon points="226.2,300.8 229.2,299.8 232.3,301 229.3,302" fill="#fff" stroke="none" stroke-width="0" />
<polygon points="231.4,302.8 234.4,301.8 237.5,303 234.5,304" fill="#fff" stroke="none" stroke-width="0" />
<line x1="193.7" y1="319" x2="194.6" y2="323" stroke="#222" stroke-width="1.5" />
<ellipse cx="338.8" cy="346" rx="70.8" ry="70" fill="none" stroke="#b04860" stroke-width="1.6" />
<ellipse cx="339.5" cy="300" rx="44.5" ry="18" fill="#d9d9d9" stroke="none" stroke-width="1" />
<path d="M307.7,350 L307.7,401 A32,8 0 0 0 371.6,401 L371.6,350 Z" fill="#a0a0a0" stroke="#1a1a1a" stroke-width="1.6" />
<path d="M315.7,355 A24,7 0 0 0 368.6,355" fill="none" stroke="#c4c4c4" stroke-width="1.3"/>
<path d="M315.7,358.5 A24,7 0 0 0 368.6,358.5" fill="none" stroke="#808080" stroke-width="0.9"/>
<path d="M315.7,362 A24,7 0 0 0 368.6,362" fill="none" stroke="#c4c4c4" stroke-width="1.3"/>
<path d="M315.7,365.5 A24,7 0 0 0 368.6,365.5" fill="none" stroke="#808080" stroke-width="0.9"/>
<path d="M315.7,369 A24,7 0 0 0 368.6,369" fill="none" stroke="#c4c4c4" stroke-width="1.3"/>
<path d="M315.7,372.5 A24,7 0 0 0 368.6,372.5" fill="none" stroke="#808080" stroke-width="0.9"/>
<path d="M315.7,376 A24,7 0 0 0 368.6,376" fill="none" stroke="#c4c4c4" stroke-width="1.3"/>
<path d="M315.7,379.5 A24,7 0 0 0 368.6,379.5" fill="none" stroke="#808080" stroke-width="0.9"/>
<path d="M315.7,383 A24,7 0 0 0 368.6,383" fill="none" stroke="#c4c4c4" stroke-width="1.3"/>
<path d="M315.7,386.5 A24,7 0 0 0 368.6,386.5" fill="none" stroke="#808080" stroke-width="0.9"/>
<path d="M315.7,390 A24,7 0 0 0 368.6,390" fill="none" stroke="#c4c4c4" stroke-width="1.3"/>
<path d="M315.7,393.5 A24,7 0 0 0 368.6,393.5" fill="none" stroke="#808080" stroke-width="0.9"/>
<path d="M315.7,397 A24,7 0 0 0 368.6,397" fill="none" stroke="#c4c4c4" stroke-width="1.3"/>
<path d="M315.7,400.5 A24,7 0 0 0 368.6,400.5" fill="none" stroke="#808080" stroke-width="0.9"/>
<line x1="314.7" y1="352" x2="314.7" y2="405.8" stroke="#e8e8e8" stroke-width="1" stroke-dasharray="3,2"/>
<polygon points="293.3,339 340,356 340,359 293.3,342" fill="#fff" stroke="#1a1a1a" stroke-width="1.2" />
<polygon points="340,356 386,339 386,342 340,359" fill="#fff" stroke="#1a1a1a" stroke-width="1.2" />
<polygon points="293.3,339 337.4,322 386,339 340,356" fill="#fff" stroke="#1a1a1a" stroke-width="1.5" />
<polygon points="310.6,339 338.2,328.5 368.1,339 339.8,349.5" fill="#fff" stroke="#1a1a1a" stroke-width="1.5" />
<ellipse cx="300.2" cy="339.7" rx="2.9" ry="1.9" fill="#fff" stroke="#666" stroke-width="0.8" />
<ellipse cx="338.1" cy="353.4" rx="2.9" ry="1.9" fill="#fff" stroke="#666" stroke-width="0.8" />
<ellipse cx="300.1" cy="338.3" rx="2.9" ry="1.9" fill="#fff" stroke="#666" stroke-width="0.8" />
<ellipse cx="335.9" cy="324.6" rx="2.9" ry="1.9" fill="#fff" stroke="#666" stroke-width="0.8" />
<ellipse cx="305.1" cy="337.8" rx="2.9" ry="1.9" fill="#fff" stroke="#666" stroke-width="0.8" />
<ellipse cx="343.2" cy="351.6" rx="2.9" ry="1.9" fill="#fff" stroke="#666" stroke-width="0.8" />
<ellipse cx="305.3" cy="340.2" rx="2.9" ry="1.9" fill="#fff" stroke="#666" stroke-width="0.8" />
<ellipse cx="341.3" cy="326.4" rx="2.9" ry="1.9" fill="#fff" stroke="#666" stroke-width="0.8" />
<ellipse cx="310" cy="335.9" rx="2.9" ry="1.9" fill="#fff" stroke="#666" stroke-width="0.8" />
<ellipse cx="348.3" cy="349.7" rx="2.9" ry="1.9" fill="#fff" stroke="#666" stroke-width="0.8" />
<ellipse cx="310.5" cy="342.1" rx="2.9" ry="1.9" fill="#fff" stroke="#666" stroke-width="0.8" />
<ellipse cx="346.7" cy="328.3" rx="2.9" ry="1.9" fill="#fff" stroke="#666" stroke-width="0.8" />
<ellipse cx="315" cy="334" rx="2.9" ry="1.9" fill="#fff" stroke="#666" stroke-width="0.8" />
<ellipse cx="353.4" cy="347.8" rx="2.9" ry="1.9" fill="#fff" stroke="#666" stroke-width="0.8" />
<ellipse cx="315.7" cy="344" rx="2.9" ry="1.9" fill="#fff" stroke="#666" stroke-width="0.8" />
<ellipse cx="352" cy="330.2" rx="2.9" ry="1.9" fill="#fff" stroke="#666" stroke-width="0.8" />
<ellipse cx="319.9" cy="332.1" rx="2.9" ry="1.9" fill="#fff" stroke="#666" stroke-width="0.8" />
<ellipse cx="358.5" cy="345.9" rx="2.9" ry="1.9" fill="#fff" stroke="#666" stroke-width="0.8" />
<ellipse cx="320.9" cy="345.9" rx="2.9" ry="1.9" fill="#fff" stroke="#666" stroke-width="0.8" />
<ellipse cx="357.4" cy="332.1" rx="2.9" ry="1.9" fill="#fff" stroke="#666" stroke-width="0.8" />
<ellipse cx="324.8" cy="330.2" rx="2.9" ry="1.9" fill="#fff" stroke="#666" stroke-width="0.8" />
<ellipse cx="363.6" cy="344" rx="2.9" ry="1.9" fill="#fff" stroke="#666" stroke-width="0.8" />
<ellipse cx="326.1" cy="347.8" rx="2.9" ry="1.9" fill="#fff" stroke="#666" stroke-width="0.8" />
<ellipse cx="362.8" cy="334" rx="2.9" ry="1.9" fill="#fff" stroke="#666" stroke-width="0.8" />
<ellipse cx="329.7" cy="328.3" rx="2.9" ry="1.9" fill="#fff" stroke="#666" stroke-width="0.8" />
<ellipse cx="368.7" cy="342.1" rx="2.9" ry="1.9" fill="#fff" stroke="#666" stroke-width="0.8" />
<ellipse cx="331.3" cy="349.7" rx="2.9" ry="1.9" fill="#fff" stroke="#666" stroke-width="0.8" />
<ellipse cx="368.2" cy="335.9" rx="2.9" ry="1.9" fill="#fff" stroke="#666" stroke-width="0.8" />
<ellipse cx="334.6" cy="326.4" rx="2.9" ry="1.9" fill="#fff" stroke="#666" stroke-width="0.8" />
<ellipse cx="373.7" cy="340.2" rx="2.9" ry="1.9" fill="#fff" stroke="#666" stroke-width="0.8" />
<ellipse cx="336.6" cy="351.6" rx="2.9" ry="1.9" fill="#fff" stroke="#666" stroke-width="0.8" />
<ellipse cx="373.6" cy="337.8" rx="2.9" ry="1.9" fill="#fff" stroke="#666" stroke-width="0.8" />
<ellipse cx="339.6" cy="324.6" rx="2.9" ry="1.9" fill="#fff" stroke="#666" stroke-width="0.8" />
<ellipse cx="378.8" cy="338.3" rx="2.9" ry="1.9" fill="#fff" stroke="#666" stroke-width="0.8" />
<ellipse cx="341.8" cy="353.4" rx="2.9" ry="1.9" fill="#fff" stroke="#666" stroke-width="0.8" />
<ellipse cx="378.9" cy="339.7" rx="2.9" ry="1.9" fill="#fff" stroke="#666" stroke-width="0.8" />
<line x1="363.8" y1="330.1" x2="363.8" y2="342.1" stroke="#222" stroke-width="1.3" />
<polygon points="296,302 339,285 384,303 339,319" fill="#6a6a6a" stroke="#333" stroke-width="1.4" />
<polygon points="297.9,302 300.8,300.9 303.7,302 300.8,303.1" fill="#fff" stroke="none" stroke-width="0" />
<polygon points="302.7,303.9 305.6,302.8 308.5,303.9 305.6,305" fill="#fff" stroke="none" stroke-width="0" />
<polygon points="307.5,305.8 310.4,304.7 313.3,305.8 310.3,306.9" fill="#fff" stroke="none" stroke-width="0" />
<polygon points="312.3,307.7 315.2,306.6 318.1,307.7 315.1,308.8" fill="#fff" stroke="none" stroke-width="0" />
<polygon points="317,309.6 320,308.5 322.9,309.6 319.9,310.7" fill="#fff" stroke="none" stroke-width="0" />
<polygon points="321.8,311.5 324.8,310.4 327.6,311.5 324.7,312.6" fill="#fff" stroke="none" stroke-width="0" />
<polygon points="326.6,313.3 329.6,312.3 332.4,313.4 329.5,314.5" fill="#fff" stroke="none" stroke-width="0" />
<polygon points="331.4,315.2 334.4,314.2 337.2,315.3 334.3,316.4" fill="#fff" stroke="none" stroke-width="0" />
<polygon points="336.2,317.1 339.2,316.1 342,317.2 339,318.3" fill="#fff" stroke="none" stroke-width="0" />
<polygon points="302.7,300.1 305.6,299 308.5,300.1 305.6,301.3" fill="#fff" stroke="none" stroke-width="0" />
<polygon points="307.5,302 310.4,300.9 313.3,302 310.4,303.2" fill="#fff" stroke="none" stroke-width="0" />
<polygon points="312.3,303.9 315.2,302.8 318.1,304 315.2,305.1" fill="#fff" stroke="none" stroke-width="0" />
<polygon points="317.1,305.8 320,304.7 322.9,305.9 320,307" fill="#fff" stroke="none" stroke-width="0" />
<polygon points="321.9,307.7 324.9,306.6 327.7,307.8 324.8,308.9" fill="#fff" stroke="none" stroke-width="0" />
<polygon points="326.7,309.6 329.7,308.5 332.6,309.7 329.6,310.8" fill="#fff" stroke="none" stroke-width="0" />
<polygon points="331.5,311.5 334.5,310.4 337.4,311.6 334.4,312.7" fill="#fff" stroke="none" stroke-width="0" />
<polygon points="336.3,313.4 339.3,312.4 342.2,313.5 339.2,314.6" fill="#fff" stroke="none" stroke-width="0" />
<polygon points="341.2,315.3 344.1,314.3 347,315.4 344,316.5" fill="#fff" stroke="none" stroke-width="0" />
<polygon points="307.5,298.2 310.3,297.1 313.3,298.2 310.4,299.4" fill="#fff" stroke="none" stroke-width="0" />
<polygon points="312.3,300.1 315.2,299 318.1,300.2 315.2,301.3" fill="#fff" stroke="none" stroke-width="0" />
<polygon points="318.5,302.1 320,301.5 321.6,302.1 320,302.7" fill="#e0e0e0" stroke="none" stroke-width="0" />
<polygon points="323.3,304 324.9,303.4 326.4,304 324.9,304.6" fill="#e0e0e0" stroke="none" stroke-width="0" />
<polygon points="328.2,305.9 329.7,305.3 331.3,305.9 329.7,306.5" fill="#e0e0e0" stroke="none" stroke-width="0" />
<polygon points="333,307.8 334.6,307.2 336.1,307.9 334.5,308.4" fill="#e0e0e0" stroke="none" stroke-width="0" />
<polygon points="337.8,309.7 339.4,309.2 341,309.8 339.4,310.4" fill="#e0e0e0" stroke="none" stroke-width="0" />
<polygon points="341.3,311.6 344.3,310.6 347.2,311.7 344.2,312.8" fill="#fff" stroke="none" stroke-width="0" />
<polygon points="346.1,313.6 349.1,312.5 352,313.6 349,314.7" fill="#fff" stroke="none" stroke-width="0" />
<polygon points="312.3,296.3 315.1,295.2 318.1,296.4 315.2,297.5" fill="#fff" stroke="none" stroke-width="0" />
<polygon points="317.1,298.3 320,297.1 322.9,298.3 320,299.4" fill="#fff" stroke="none" stroke-width="0" />
<polygon points="323.3,300.2 324.9,299.6 326.4,300.2 324.9,300.8" fill="#e0e0e0" stroke="none" stroke-width="0" />
<polygon points="328.2,302.1 329.7,301.5 331.3,302.2 329.7,302.8" fill="#e0e0e0" stroke="none" stroke-width="0" />
<polygon points="333.1,304.1 334.6,303.5 336.2,304.1 334.6,304.7" fill="#e0e0e0" stroke="none" stroke-width="0" />
<polygon points="337.9,306 339.5,305.4 341,306 339.5,306.6" fill="#e0e0e0" stroke="none" stroke-width="0" />
<polygon points="342.8,307.9 344.4,307.3 345.9,308 344.3,308.5" fill="#e0e0e0" stroke="none" stroke-width="0" />
<polygon points="346.3,309.8 349.2,308.8 352.2,309.9 349.2,311" fill="#fff" stroke="none" stroke-width="0" />
<polygon points="351.1,311.8 354.1,310.7 357,311.9 354,312.9" fill="#fff" stroke="none" stroke-width="0" />
<polygon points="317,294.5 319.9,293.3 322.9,294.5 320,295.6" fill="#fff" stroke="none" stroke-width="0" />
<polygon points="321.9,296.4 324.8,295.3 327.7,296.4 324.9,297.6" fill="#fff" stroke="none" stroke-width="0" />
<polygon points="328.2,298.3 329.7,297.8 331.3,298.4 329.7,299" fill="#e0e0e0" stroke="none" stroke-width="0" />
<polygon points="333.1,300.3 334.6,299.7 336.2,300.3 334.6,300.9" fill="#e0e0e0" stroke="none" stroke-width="0" />
<polygon points="337.9,302.2 339.5,301.6 341.1,302.3 339.5,302.9" fill="#e0e0e0" stroke="none" stroke-width="0" />
<polygon points="342.8,304.2 344.4,303.6 346,304.2 344.4,304.8" fill="#e0e0e0" stroke="none" stroke-width="0" />
<polygon points="347.7,306.1 349.3,305.5 350.9,306.2 349.3,306.7" fill="#e0e0e0" stroke="none" stroke-width="0" />
<polygon points="351.2,308 354.2,307 357.1,308.1 354.1,309.2" fill="#fff" stroke="none" stroke-width="0" />
<polygon points="356.1,310 359.1,308.9 362,310.1 359,311.1" fill="#fff" stroke="none" stroke-width="0" />
<polygon points="321.8,292.6 324.7,291.4 327.6,292.6 324.8,293.7" fill="#fff" stroke="none" stroke-width="0" />
<polygon points="326.7,294.5 329.6,293.4 332.6,294.6 329.7,295.7" fill="#fff" stroke="none" stroke-width="0" />
<polygon points="333,296.5 334.5,295.9 336.1,296.5 334.6,297.1" fill="#e0e0e0" stroke="none" stroke-width="0" />
<polygon points="337.9,298.4 339.5,297.9 341,298.5 339.5,299.1" fill="#e0e0e0" stroke="none" stroke-width="0" />
<polygon points="342.8,300.4 344.4,299.8 346,300.4 344.4,301" fill="#e0e0e0" stroke="none" stroke-width="0" />
<polygon points="347.7,302.4 349.3,301.8 350.9,302.4 349.3,303" fill="#e0e0e0" stroke="none" stroke-width="0" />
<polygon points="352.6,304.3 354.2,303.7 355.8,304.4 354.2,304.9" fill="#e0e0e0" stroke="none" stroke-width="0" />
<polygon points="356.2,306.2 359.1,305.2 362.1,306.3 359.1,307.4" fill="#fff" stroke="none" stroke-width="0" />
<polygon points="361.1,308.2 364.1,307.1 367,308.3 364,309.4" fill="#fff" stroke="none" stroke-width="0" />
<polygon points="326.6,290.7 329.5,289.6 332.4,290.7 329.6,291.9" fill="#fff" stroke="none" stroke-width="0" />
<polygon points="331.5,292.6 334.4,291.5 337.4,292.7 334.5,293.8" fill="#fff" stroke="none" stroke-width="0" />
<polygon points="337.8,294.6 339.4,294 341,294.7 339.4,295.3" fill="#e0e0e0" stroke="none" stroke-width="0" />
<polygon points="342.8,296.6 344.3,296 345.9,296.6 344.4,297.2" fill="#e0e0e0" stroke="none" stroke-width="0" />
<polygon points="347.7,298.6 349.3,298 350.9,298.6 349.3,299.2" fill="#e0e0e0" stroke="none" stroke-width="0" />
<polygon points="352.6,300.5 354.2,299.9 355.8,300.6 354.2,301.2" fill="#e0e0e0" stroke="none" stroke-width="0" />
<polygon points="357.6,302.5 359.2,301.9 360.7,302.5 359.2,303.1" fill="#e0e0e0" stroke="none" stroke-width="0" />
<polygon points="361.1,304.4 364.1,303.4 367.1,304.5 364.1,305.6" fill="#fff" stroke="none" stroke-width="0" />
<polygon points="366.1,306.4 369,305.3 372,306.5 369,307.6" fill="#fff" stroke="none" stroke-width="0" />
<polygon points="331.4,288.8 334.3,287.7 337.2,288.9 334.4,290" fill="#fff" stroke="none" stroke-width="0" />
<polygon points="336.3,290.8 339.2,289.6 342.2,290.8 339.3,292" fill="#fff" stroke="none" stroke-width="0" />
<polygon points="341.3,292.8 344.2,291.6 347.2,292.8 344.3,293.9" fill="#fff" stroke="none" stroke-width="0" />
<polygon points="346.3,294.7 349.2,293.6 352.2,294.8 349.2,295.9" fill="#fff" stroke="none" stroke-width="0" />
<polygon points="351.2,296.7 354.1,295.6 357.1,296.8 354.2,297.9" fill="#fff" stroke="none" stroke-width="0" />
<polygon points="356.2,298.7 359.1,297.6 362.1,298.8 359.1,299.9" fill="#fff" stroke="none" stroke-width="0" />
<polygon points="361.1,300.7 364.1,299.6 367.1,300.8 364.1,301.8" fill="#fff" stroke="none" stroke-width="0" />
<polygon points="366.1,302.6 369.1,301.6 372,302.8 369.1,303.8" fill="#fff" stroke="none" stroke-width="0" />
<polygon points="371,304.6 374,303.5 377,304.7 374,305.8" fill="#fff" stroke="none" stroke-width="0" />
<polygon points="336.2,286.9 339,285.8 342,287 339.2,288.1" fill="#fff" stroke="none" stroke-width="0" />
<polygon points="341.2,288.9 344,287.8 347,289 344.1,290.1" fill="#fff" stroke="none" stroke-width="0" />
<polygon points="346.1,290.9 349,289.8 352,291 349.1,292.1" fill="#fff" stroke="none" stroke-width="0" />
<polygon points="351.1,292.9 354,291.8 357,293 354.1,294.1" fill="#fff" stroke="none" stroke-width="0" />
<polygon points="356.1,294.9 359,293.8 362,295 359.1,296.1" fill="#fff" stroke="none" stroke-width="0" />
<polygon points="361.1,296.9 364,295.8 367,297 364.1,298.1" fill="#fff" stroke="none" stroke-width="0" />
<polygon points="366.1,298.8 369,297.8 372,299 369,300" fill="#fff" stroke="none" stroke-width="0" />
<polygon points="371,300.8 374,299.8 377,301 374,302" fill="#fff" stroke="none" stroke-width="0" />
<polygon points="376,302.8 379,301.8 382,303 379,304" fill="#fff" stroke="none" stroke-width="0" />
<line x1="339" y1="319" x2="337.4" y2="322" stroke="#222" stroke-width="1.5" />
<ellipse cx="484.2" cy="345.5" rx="69.8" ry="69.5" fill="none" stroke="#b04860" stroke-width="1.6" />
<ellipse cx="485.5" cy="301" rx="46.8" ry="18" fill="#d9d9d9" stroke="none" stroke-width="1" />
<path d="M454,350 L454,400 A32,8 0 0 0 518,400 L518,350 Z" fill="#a0a0a0" stroke="#1a1a1a" stroke-width="1.6" />
<path d="M462,355 A24,7 0 0 0 515,355" fill="none" stroke="#c4c4c4" stroke-width="1.3"/>
<path d="M462,358.4 A24,7 0 0 0 515,358.4" fill="none" stroke="#808080" stroke-width="0.9"/>
<path d="M462,361.9 A24,7 0 0 0 515,361.9" fill="none" stroke="#c4c4c4" stroke-width="1.3"/>
<path d="M462,365.3 A24,7 0 0 0 515,365.3" fill="none" stroke="#808080" stroke-width="0.9"/>
<path d="M462,368.7 A24,7 0 0 0 515,368.7" fill="none" stroke="#c4c4c4" stroke-width="1.3"/>
<path d="M462,372.1 A24,7 0 0 0 515,372.1" fill="none" stroke="#808080" stroke-width="0.9"/>
<path d="M462,375.6 A24,7 0 0 0 515,375.6" fill="none" stroke="#c4c4c4" stroke-width="1.3"/>
<path d="M462,379 A24,7 0 0 0 515,379" fill="none" stroke="#808080" stroke-width="0.9"/>
<path d="M462,382.4 A24,7 0 0 0 515,382.4" fill="none" stroke="#c4c4c4" stroke-width="1.3"/>
<path d="M462,385.9 A24,7 0 0 0 515,385.9" fill="none" stroke="#808080" stroke-width="0.9"/>
<path d="M462,389.3 A24,7 0 0 0 515,389.3" fill="none" stroke="#c4c4c4" stroke-width="1.3"/>
<path d="M462,392.7 A24,7 0 0 0 515,392.7" fill="none" stroke="#808080" stroke-width="0.9"/>
<path d="M462,396.1 A24,7 0 0 0 515,396.1" fill="none" stroke="#c4c4c4" stroke-width="1.3"/>
<path d="M462,399.6 A24,7 0 0 0 515,399.6" fill="none" stroke="#808080" stroke-width="0.9"/>
<line x1="461" y1="352" x2="461" y2="404.8" stroke="#e8e8e8" stroke-width="1" stroke-dasharray="3,2"/>
<polygon points="438.7,339 486.4,356 486.4,359 438.7,342" fill="#fff" stroke="#1a1a1a" stroke-width="1.2" />
<polygon points="486.4,356 533,339 533,342 486.4,359" fill="#fff" stroke="#1a1a1a" stroke-width="1.2" />
<polygon points="438.7,339 486.4,323 533,339 486.4,356" fill="#fff" stroke="#1a1a1a" stroke-width="1.5" />
<polygon points="456.8,339.2 486.2,329.1 515.3,339.2 486.2,349.6" fill="#fff" stroke="#1a1a1a" stroke-width="1.5" />
<ellipse cx="445.9" cy="339.7" rx="2.9" ry="1.9" fill="#fff" stroke="#666" stroke-width="0.8" />
<ellipse cx="484.5" cy="353.4" rx="2.9" ry="1.9" fill="#fff" stroke="#666" stroke-width="0.8" />
<ellipse cx="445.9" cy="338.4" rx="2.9" ry="1.9" fill="#fff" stroke="#666" stroke-width="0.8" />
<ellipse cx="484.5" cy="325.4" rx="2.9" ry="1.9" fill="#fff" stroke="#666" stroke-width="0.8" />
<ellipse cx="451.2" cy="337.9" rx="2.9" ry="1.9" fill="#fff" stroke="#666" stroke-width="0.8" />
<ellipse cx="489.7" cy="351.6" rx="2.9" ry="1.9" fill="#fff" stroke="#666" stroke-width="0.8" />
<ellipse cx="451.2" cy="340.3" rx="2.9" ry="1.9" fill="#fff" stroke="#666" stroke-width="0.8" />
<ellipse cx="489.7" cy="327.2" rx="2.9" ry="1.9" fill="#fff" stroke="#666" stroke-width="0.8" />
<ellipse cx="456.5" cy="336.1" rx="2.9" ry="1.9" fill="#fff" stroke="#666" stroke-width="0.8" />
<ellipse cx="494.8" cy="349.7" rx="2.9" ry="1.9" fill="#fff" stroke="#666" stroke-width="0.8" />
<ellipse cx="456.5" cy="342.2" rx="2.9" ry="1.9" fill="#fff" stroke="#666" stroke-width="0.8" />
<ellipse cx="494.8" cy="329" rx="2.9" ry="1.9" fill="#fff" stroke="#666" stroke-width="0.8" />
<ellipse cx="461.7" cy="334.4" rx="2.9" ry="1.9" fill="#fff" stroke="#666" stroke-width="0.8" />
<ellipse cx="500" cy="347.8" rx="2.9" ry="1.9" fill="#fff" stroke="#666" stroke-width="0.8" />
<ellipse cx="461.7" cy="344.1" rx="2.9" ry="1.9" fill="#fff" stroke="#666" stroke-width="0.8" />
<ellipse cx="500" cy="330.8" rx="2.9" ry="1.9" fill="#fff" stroke="#666" stroke-width="0.8" />
<ellipse cx="467" cy="332.6" rx="2.9" ry="1.9" fill="#fff" stroke="#666" stroke-width="0.8" />
<ellipse cx="505.2" cy="345.9" rx="2.9" ry="1.9" fill="#fff" stroke="#666" stroke-width="0.8" />
<ellipse cx="467" cy="345.9" rx="2.9" ry="1.9" fill="#fff" stroke="#666" stroke-width="0.8" />
<ellipse cx="505.2" cy="332.6" rx="2.9" ry="1.9" fill="#fff" stroke="#666" stroke-width="0.8" />
<ellipse cx="472.3" cy="330.8" rx="2.9" ry="1.9" fill="#fff" stroke="#666" stroke-width="0.8" />
<ellipse cx="510.4" cy="344.1" rx="2.9" ry="1.9" fill="#fff" stroke="#666" stroke-width="0.8" />
<ellipse cx="472.3" cy="347.8" rx="2.9" ry="1.9" fill="#fff" stroke="#666" stroke-width="0.8" />
<ellipse cx="510.4" cy="334.4" rx="2.9" ry="1.9" fill="#fff" stroke="#666" stroke-width="0.8" />
<ellipse cx="477.6" cy="329" rx="2.9" ry="1.9" fill="#fff" stroke="#666" stroke-width="0.8" />
<ellipse cx="515.6" cy="342.2" rx="2.9" ry="1.9" fill="#fff" stroke="#666" stroke-width="0.8" />
<ellipse cx="477.6" cy="349.7" rx="2.9" ry="1.9" fill="#fff" stroke="#666" stroke-width="0.8" />
<ellipse cx="515.6" cy="336.1" rx="2.9" ry="1.9" fill="#fff" stroke="#666" stroke-width="0.8" />
<ellipse cx="482.9" cy="327.2" rx="2.9" ry="1.9" fill="#fff" stroke="#666" stroke-width="0.8" />
<ellipse cx="520.8" cy="340.3" rx="2.9" ry="1.9" fill="#fff" stroke="#666" stroke-width="0.8" />
<ellipse cx="482.9" cy="351.6" rx="2.9" ry="1.9" fill="#fff" stroke="#666" stroke-width="0.8" />
<ellipse cx="520.8" cy="337.9" rx="2.9" ry="1.9" fill="#fff" stroke="#666" stroke-width="0.8" />
<ellipse cx="488.2" cy="325.4" rx="2.9" ry="1.9" fill="#fff" stroke="#666" stroke-width="0.8" />
<ellipse cx="526" cy="338.4" rx="2.9" ry="1.9" fill="#fff" stroke="#666" stroke-width="0.8" />
<ellipse cx="488.2" cy="353.4" rx="2.9" ry="1.9" fill="#fff" stroke="#666" stroke-width="0.8" />
<ellipse cx="526" cy="339.7" rx="2.9" ry="1.9" fill="#fff" stroke="#666" stroke-width="0.8" />
<line x1="511.1" y1="330.4" x2="511.1" y2="342.4" stroke="#222" stroke-width="1.3" />
<polygon points="440.5,302 484.6,285 531,302 485.5,319" fill="#6a6a6a" stroke="#333" stroke-width="1.4" />
<polygon points="442.5,302 445.4,300.9 448.4,302 445.5,303.1" fill="#fff" stroke="none" stroke-width="0" />
<polygon points="447.5,303.9 450.4,302.8 453.4,303.9 450.5,305" fill="#fff" stroke="none" stroke-width="0" />
<polygon points="452.5,305.8 455.5,304.6 458.5,305.8 455.5,306.9" fill="#fff" stroke="none" stroke-width="0" />
<polygon points="457.5,307.7 460.5,306.5 463.5,307.7 460.5,308.8" fill="#fff" stroke="none" stroke-width="0" />
<polygon points="462.5,309.6 465.5,308.4 468.5,309.6 465.5,310.7" fill="#fff" stroke="none" stroke-width="0" />
<polygon points="467.5,311.4 470.5,310.3 473.5,311.4 470.5,312.6" fill="#fff" stroke="none" stroke-width="0" />
<polygon points="472.5,313.3 475.5,312.2 478.5,313.3 475.5,314.5" fill="#fff" stroke="none" stroke-width="0" />
<polygon points="477.5,315.2 480.5,314.1 483.5,315.2 480.5,316.4" fill="#fff" stroke="none" stroke-width="0" />
<polygon points="482.5,317.1 485.5,316 488.5,317.1 485.5,318.2" fill="#fff" stroke="none" stroke-width="0" />
<polygon points="447.4,300.1 450.3,299 453.3,300.1 450.4,301.2" fill="#fff" stroke="none" stroke-width="0" />
<polygon points="452.4,302 455.4,300.9 458.4,302 455.4,303.1" fill="#fff" stroke="none" stroke-width="0" />
<polygon points="457.4,303.9 460.4,302.8 463.4,303.9 460.4,305" fill="#fff" stroke="none" stroke-width="0" />
<polygon points="462.4,305.8 465.4,304.6 468.4,305.8 465.5,306.9" fill="#fff" stroke="none" stroke-width="0" />
<polygon points="467.5,307.7 470.5,306.5 473.5,307.7 470.5,308.8" fill="#fff" stroke="none" stroke-width="0" />
<polygon points="472.5,309.6 475.5,308.4 478.5,309.6 475.5,310.7" fill="#fff" stroke="none" stroke-width="0" />
<polygon points="477.5,311.4 480.5,310.3 483.5,311.4 480.5,312.6" fill="#fff" stroke="none" stroke-width="0" />
<polygon points="482.5,313.3 485.5,312.2 488.6,313.3 485.5,314.5" fill="#fff" stroke="none" stroke-width="0" />
<polygon points="487.6,315.2 490.6,314.1 493.6,315.2 490.6,316.4" fill="#fff" stroke="none" stroke-width="0" />
<polygon points="452.3,298.2 455.2,297.1 458.3,298.2 455.3,299.4" fill="#fff" stroke="none" stroke-width="0" />
<polygon points="457.3,300.1 460.3,299 463.3,300.1 460.3,301.2" fill="#fff" stroke="none" stroke-width="0" />
<polygon points="462.4,302 465.3,300.9 468.4,302 465.4,303.1" fill="#fff" stroke="none" stroke-width="0" />
<polygon points="467.4,303.9 470.4,302.8 473.4,303.9 470.4,305" fill="#fff" stroke="none" stroke-width="0" />
<polygon points="472.4,305.8 475.4,304.6 478.5,305.8 475.5,306.9" fill="#fff" stroke="none" stroke-width="0" />
<polygon points="477.5,307.7 480.5,306.5 483.5,307.7 480.5,308.8" fill="#fff" stroke="none" stroke-width="0" />
<polygon points="482.5,309.6 485.5,308.4 488.5,309.6 485.5,310.7" fill="#fff" stroke="none" stroke-width="0" />
<polygon points="487.6,311.4 490.6,310.3 493.6,311.4 490.6,312.6" fill="#fff" stroke="none" stroke-width="0" />
<polygon points="492.6,313.3 495.6,312.2 498.6,313.3 495.6,314.5" fill="#fff" stroke="none" stroke-width="0" />
<polygon points="457.2,296.3 460.1,295.2 463.2,296.3 460.2,297.5" fill="#fff" stroke="none" stroke-width="0" />
<polygon points="462.2,298.2 465.2,297.1 468.2,298.2 465.3,299.4" fill="#fff" stroke="none" stroke-width="0" />
<polygon points="467.3,300.1 470.3,299 473.3,300.1 470.3,301.2" fill="#fff" stroke="none" stroke-width="0" />
<polygon points="472.4,302 475.3,300.9 478.4,302 475.4,303.1" fill="#fff" stroke="none" stroke-width="0" />
<polygon points="477.4,303.9 480.4,302.8 483.4,303.9 480.4,305" fill="#fff" stroke="none" stroke-width="0" />
<polygon points="482.5,305.8 485.5,304.6 488.5,305.8 485.5,306.9" fill="#fff" stroke="none" stroke-width="0" />
<polygon points="487.5,307.7 490.5,306.5 493.6,307.7 490.6,308.8" fill="#fff" stroke="none" stroke-width="0" />
<polygon points="492.6,309.6 495.6,308.4 498.6,309.6 495.6,310.7" fill="#fff" stroke="none" stroke-width="0" />
<polygon points="497.6,311.4 500.7,310.3 503.7,311.4 500.7,312.6" fill="#fff" stroke="none" stroke-width="0" />
<polygon points="462.1,294.4 465,293.3 468.1,294.4 465.1,295.6" fill="#fff" stroke="none" stroke-width="0" />
<polygon points="467.2,296.3 470.1,295.2 473.2,296.3 470.2,297.5" fill="#fff" stroke="none" stroke-width="0" />
<polygon points="472.2,298.2 475.2,297.1 478.3,298.2 475.3,299.4" fill="#fff" stroke="none" stroke-width="0" />
<polygon points="477.3,300.1 480.3,299 483.3,300.1 480.4,301.2" fill="#fff" stroke="none" stroke-width="0" />
<polygon points="482.4,302 485.4,300.9 488.4,302 485.4,303.1" fill="#fff" stroke="none" stroke-width="0" />
<polygon points="487.5,303.9 490.5,302.8 493.5,303.9 490.5,305" fill="#fff" stroke="none" stroke-width="0" />
<polygon points="492.5,305.8 495.5,304.6 498.6,305.8 495.6,306.9" fill="#fff" stroke="none" stroke-width="0" />
<polygon points="497.6,307.7 500.6,306.5 503.7,307.7 500.6,308.8" fill="#fff" stroke="none" stroke-width="0" />
<polygon points="502.7,309.6 505.7,308.4 508.8,309.6 505.7,310.7" fill="#fff" stroke="none" stroke-width="0" />
<polygon points="467,292.6 469.9,291.4 473,292.6 470.1,293.7" fill="#fff" stroke="none" stroke-width="0" />
<polygon points="472.1,294.4 475,293.3 478.1,294.4 475.1,295.6" fill="#fff" stroke="none" stroke-width="0" />
<polygon points="477.2,296.3 480.1,295.2 483.2,296.3 480.2,297.5" fill="#fff" stroke="none" stroke-width="0" />
<polygon points="482.3,298.2 485.2,297.1 488.3,298.2 485.3,299.4" fill="#fff" stroke="none" stroke-width="0" />
<polygon points="487.4,300.1 490.3,299 493.4,300.1 490.4,301.2" fill="#fff" stroke="none" stroke-width="0" />
<polygon points="492.4,302 495.4,300.9 498.5,302 495.5,303.1" fill="#fff" stroke="none" stroke-width="0" />
<polygon points="497.5,303.9 500.5,302.8 503.6,303.9 500.6,305" fill="#fff" stroke="none" stroke-width="0" />
<polygon points="502.6,305.8 505.6,304.6 508.7,305.8 505.7,306.9" fill="#fff" stroke="none" stroke-width="0" />
<polygon points="507.7,307.7 510.7,306.5 513.8,307.7 510.8,308.8" fill="#fff" stroke="none" stroke-width="0" />
<polygon points="471.9,290.7 474.8,289.5 477.9,290.7 475,291.8" fill="#fff" stroke="none" stroke-width="0" />
<polygon points="477,292.6 480,291.4 483,292.6 480.1,293.7" fill="#fff" stroke="none" stroke-width="0" />
<polygon points="482.1,294.4 485.1,293.3 488.1,294.4 485.2,295.6" fill="#fff" stroke="none" stroke-width="0" />
<polygon points="487.2,296.3 490.2,295.2 493.3,296.3 490.3,297.5" fill="#fff" stroke="none" stroke-width="0" />
<polygon points="492.3,298.2 495.3,297.1 498.4,298.2 495.4,299.4" fill="#fff" stroke="none" stroke-width="0" />
<polygon points="497.4,300.1 500.4,299 503.5,300.1 500.5,301.2" fill="#fff" stroke="none" stroke-width="0" />
<polygon points="502.5,302 505.5,300.9 508.6,302 505.6,303.1" fill="#fff" stroke="none" stroke-width="0" />
<polygon points="507.7,303.9 510.7,302.8 513.7,303.9 510.7,305" fill="#fff" stroke="none" stroke-width="0" />
<polygon points="512.8,305.8 515.8,304.6 518.9,305.8 515.8,306.9" fill="#fff" stroke="none" stroke-width="0" />
<polygon points="476.8,288.8 479.7,287.6 482.8,288.8 479.9,289.9" fill="#fff" stroke="none" stroke-width="0" />
<polygon points="481.9,290.7 484.9,289.5 488,290.7 485,291.8" fill="#fff" stroke="none" stroke-width="0" />
<polygon points="487.1,292.6 490,291.4 493.1,292.6 490.1,293.7" fill="#fff" stroke="none" stroke-width="0" />
<polygon points="492.2,294.4 495.2,293.3 498.2,294.4 495.3,295.6" fill="#fff" stroke="none" stroke-width="0" />
<polygon points="497.3,296.3 500.3,295.2 503.4,296.3 500.4,297.5" fill="#fff" stroke="none" stroke-width="0" />
<polygon points="502.4,298.2 505.4,297.1 508.5,298.2 505.5,299.4" fill="#fff" stroke="none" stroke-width="0" />
<polygon points="507.6,300.1 510.6,299 513.6,300.1 510.6,301.2" fill="#fff" stroke="none" stroke-width="0" />
<polygon points="512.7,302 515.7,300.9 518.8,302 515.8,303.1" fill="#fff" stroke="none" stroke-width="0" />
<polygon points="517.8,303.9 520.8,302.8 523.9,303.9 520.9,305" fill="#fff" stroke="none" stroke-width="0" />
<polygon points="481.7,286.9 484.7,285.8 487.7,286.9 484.8,288" fill="#fff" stroke="none" stroke-width="0" />
<polygon points="486.9,288.8 489.8,287.6 492.9,288.8 489.9,289.9" fill="#fff" stroke="none" stroke-width="0" />
<polygon points="492,290.7 495,289.5 498,290.7 495.1,291.8" fill="#fff" stroke="none" stroke-width="0" />
<polygon points="497.1,292.6 500.1,291.4 503.2,292.6 500.2,293.7" fill="#fff" stroke="none" stroke-width="0" />
<polygon points="502.3,294.4 505.3,293.3 508.4,294.4 505.4,295.6" fill="#fff" stroke="none" stroke-width="0" />
<polygon points="507.4,296.3 510.4,295.2 513.5,296.3 510.5,297.5" fill="#fff" stroke="none" stroke-width="0" />
<polygon points="512.6,298.2 515.6,297.1 518.7,298.2 515.6,299.4" fill="#fff" stroke="none" stroke-width="0" />
<polygon points="517.7,300.1 520.7,299 523.8,300.1 520.8,301.2" fill="#fff" stroke="none" stroke-width="0" />
<polygon points="522.8,302 525.9,300.9 529,302 525.9,303.1" fill="#fff" stroke="none" stroke-width="0" />
<line x1="485.5" y1="319" x2="486.4" y2="323" stroke="#222" stroke-width="1.5" />
<ellipse cx="630.1" cy="345.5" rx="71" ry="70" fill="none" stroke="#b04860" stroke-width="1.6" />
<ellipse cx="630.7" cy="300.5" rx="47.7" ry="18.5" fill="#d9d9d9" stroke="none" stroke-width="1" />
<path d="M599.3,350 L599.3,400 A32.4,8 0 0 0 664,400 L664,350 Z" fill="#a0a0a0" stroke="#1a1a1a" stroke-width="1.6" />
<path d="M607.3,355 A24.4,7 0 0 0 661,355" fill="none" stroke="#c4c4c4" stroke-width="1.3"/>
<path d="M607.3,358.4 A24.4,7 0 0 0 661,358.4" fill="none" stroke="#808080" stroke-width="0.9"/>
<path d="M607.3,361.9 A24.4,7 0 0 0 661,361.9" fill="none" stroke="#c4c4c4" stroke-width="1.3"/>
<path d="M607.3,365.3 A24.4,7 0 0 0 661,365.3" fill="none" stroke="#808080" stroke-width="0.9"/>
<path d="M607.3,368.7 A24.4,7 0 0 0 661,368.7" fill="none" stroke="#c4c4c4" stroke-width="1.3"/>
<path d="M607.3,372.1 A24.4,7 0 0 0 661,372.1" fill="none" stroke="#808080" stroke-width="0.9"/>
<path d="M607.3,375.6 A24.4,7 0 0 0 661,375.6" fill="none" stroke="#c4c4c4" stroke-width="1.3"/>
<path d="M607.3,379 A24.4,7 0 0 0 661,379" fill="none" stroke="#808080" stroke-width="0.9"/>
<path d="M607.3,382.4 A24.4,7 0 0 0 661,382.4" fill="none" stroke="#c4c4c4" stroke-width="1.3"/>
<path d="M607.3,385.9 A24.4,7 0 0 0 661,385.9" fill="none" stroke="#808080" stroke-width="0.9"/>
<path d="M607.3,389.3 A24.4,7 0 0 0 661,389.3" fill="none" stroke="#c4c4c4" stroke-width="1.3"/>
<path d="M607.3,392.7 A24.4,7 0 0 0 661,392.7" fill="none" stroke="#808080" stroke-width="0.9"/>
<path d="M607.3,396.1 A24.4,7 0 0 0 661,396.1" fill="none" stroke="#c4c4c4" stroke-width="1.3"/>
<path d="M607.3,399.6 A24.4,7 0 0 0 661,399.6" fill="none" stroke="#808080" stroke-width="0.9"/>
<line x1="606.3" y1="352" x2="606.3" y2="404.8" stroke="#e8e8e8" stroke-width="1" stroke-dasharray="3,2"/>
<polygon points="584,339 632.6,356 632.6,359 584,342" fill="#fff" stroke="#1a1a1a" stroke-width="1.2" />
<polygon points="632.6,356 677.6,339 677.6,342 632.6,359" fill="#fff" stroke="#1a1a1a" stroke-width="1.2" />
<polygon points="584,339 630.8,321.8 677.6,339 632.6,356" fill="#fff" stroke="#1a1a1a" stroke-width="1.5" />
<polygon points="602.1,339 630.9,328.3 660.1,339 632,349.5" fill="#fff" stroke="#1a1a1a" stroke-width="1.5" />
<ellipse cx="591.2" cy="339.7" rx="2.9" ry="1.9" fill="#fff" stroke="#666" stroke-width="0.8" />
<ellipse cx="630.5" cy="353.4" rx="2.9" ry="1.9" fill="#fff" stroke="#666" stroke-width="0.8" />
<ellipse cx="591.1" cy="338.3" rx="2.9" ry="1.9" fill="#fff" stroke="#666" stroke-width="0.8" />
<ellipse cx="629" cy="324.4" rx="2.9" ry="1.9" fill="#fff" stroke="#666" stroke-width="0.8" />
<ellipse cx="596.4" cy="337.8" rx="2.9" ry="1.9" fill="#fff" stroke="#666" stroke-width="0.8" />
<ellipse cx="635.5" cy="351.5" rx="2.9" ry="1.9" fill="#fff" stroke="#666" stroke-width="0.8" />
<ellipse cx="596.5" cy="340.2" rx="2.9" ry="1.9" fill="#fff" stroke="#666" stroke-width="0.8" />
<ellipse cx="634.2" cy="326.3" rx="2.9" ry="1.9" fill="#fff" stroke="#666" stroke-width="0.8" />
<ellipse cx="601.6" cy="335.8" rx="2.9" ry="1.9" fill="#fff" stroke="#666" stroke-width="0.8" />
<ellipse cx="640.5" cy="349.7" rx="2.9" ry="1.9" fill="#fff" stroke="#666" stroke-width="0.8" />
<ellipse cx="601.9" cy="342.1" rx="2.9" ry="1.9" fill="#fff" stroke="#666" stroke-width="0.8" />
<ellipse cx="639.4" cy="328.2" rx="2.9" ry="1.9" fill="#fff" stroke="#666" stroke-width="0.8" />
<ellipse cx="606.8" cy="333.9" rx="2.9" ry="1.9" fill="#fff" stroke="#666" stroke-width="0.8" />
<ellipse cx="645.5" cy="347.8" rx="2.9" ry="1.9" fill="#fff" stroke="#666" stroke-width="0.8" />
<ellipse cx="607.3" cy="344" rx="2.9" ry="1.9" fill="#fff" stroke="#666" stroke-width="0.8" />
<ellipse cx="644.6" cy="330.1" rx="2.9" ry="1.9" fill="#fff" stroke="#666" stroke-width="0.8" />
<ellipse cx="611.9" cy="332" rx="2.9" ry="1.9" fill="#fff" stroke="#666" stroke-width="0.8" />
<ellipse cx="650.6" cy="345.9" rx="2.9" ry="1.9" fill="#fff" stroke="#666" stroke-width="0.8" />
<ellipse cx="612.7" cy="345.9" rx="2.9" ry="1.9" fill="#fff" stroke="#666" stroke-width="0.8" />
<ellipse cx="649.8" cy="332" rx="2.9" ry="1.9" fill="#fff" stroke="#666" stroke-width="0.8" />
<ellipse cx="617.1" cy="330.1" rx="2.9" ry="1.9" fill="#fff" stroke="#666" stroke-width="0.8" />
<ellipse cx="655.6" cy="344" rx="2.9" ry="1.9" fill="#fff" stroke="#666" stroke-width="0.8" />
<ellipse cx="618" cy="347.8" rx="2.9" ry="1.9" fill="#fff" stroke="#666" stroke-width="0.8" />
<ellipse cx="655.1" cy="333.9" rx="2.9" ry="1.9" fill="#fff" stroke="#666" stroke-width="0.8" />
<ellipse cx="622.3" cy="328.2" rx="2.9" ry="1.9" fill="#fff" stroke="#666" stroke-width="0.8" />
<ellipse cx="660.6" cy="342.1" rx="2.9" ry="1.9" fill="#fff" stroke="#666" stroke-width="0.8" />
<ellipse cx="623.4" cy="349.7" rx="2.9" ry="1.9" fill="#fff" stroke="#666" stroke-width="0.8" />
<ellipse cx="660.3" cy="335.8" rx="2.9" ry="1.9" fill="#fff" stroke="#666" stroke-width="0.8" />
<ellipse cx="627.5" cy="326.3" rx="2.9" ry="1.9" fill="#fff" stroke="#666" stroke-width="0.8" />
<ellipse cx="665.6" cy="340.2" rx="2.9" ry="1.9" fill="#fff" stroke="#666" stroke-width="0.8" />
<ellipse cx="628.8" cy="351.5" rx="2.9" ry="1.9" fill="#fff" stroke="#666" stroke-width="0.8" />
<ellipse cx="665.5" cy="337.8" rx="2.9" ry="1.9" fill="#fff" stroke="#666" stroke-width="0.8" />
<ellipse cx="632.7" cy="324.4" rx="2.9" ry="1.9" fill="#fff" stroke="#666" stroke-width="0.8" />
<ellipse cx="670.6" cy="338.3" rx="2.9" ry="1.9" fill="#fff" stroke="#666" stroke-width="0.8" />
<ellipse cx="634.2" cy="353.4" rx="2.9" ry="1.9" fill="#fff" stroke="#666" stroke-width="0.8" />
<ellipse cx="670.7" cy="339.7" rx="2.9" ry="1.9" fill="#fff" stroke="#666" stroke-width="0.8" />
<line x1="655.9" y1="330.1" x2="655.9" y2="342.1" stroke="#222" stroke-width="1.3" />
<polygon points="586.7,302 631.7,285 675.8,302 631.7,319" fill="#5a5a5a" stroke="#333" stroke-width="1.4" />
<polygon points="588.7,302 591.7,300.9 594.7,302 591.7,303.1" fill="#fff" stroke="none" stroke-width="0" />
<polygon points="593.7,303.9 596.7,302.8 599.7,303.9 596.7,305" fill="#fff" stroke="none" stroke-width="0" />
<polygon points="598.7,305.8 601.7,304.6 604.7,305.8 601.7,306.9" fill="#fff" stroke="none" stroke-width="0" />
<polygon points="603.7,307.7 606.7,306.5 609.7,307.7 606.7,308.8" fill="#fff" stroke="none" stroke-width="0" />
<polygon points="608.7,309.6 611.7,308.4 614.7,309.6 611.7,310.7" fill="#fff" stroke="none" stroke-width="0" />
<polygon points="613.7,311.4 616.7,310.3 619.6,311.4 616.7,312.6" fill="#fff" stroke="none" stroke-width="0" />
<polygon points="618.7,313.3 621.6,312.2 624.6,313.3 621.7,314.5" fill="#fff" stroke="none" stroke-width="0" />
<polygon points="623.7,315.2 626.6,314.1 629.6,315.2 626.7,316.4" fill="#fff" stroke="none" stroke-width="0" />
<polygon points="628.7,317.1 631.6,316 634.6,317.1 631.7,318.2" fill="#fff" stroke="none" stroke-width="0" />
<polygon points="593.7,300.1 596.7,299 599.7,300.1 596.7,301.2" fill="#fff" stroke="none" stroke-width="0" />
<polygon points="600.1,302 601.7,301.4 603.3,302 601.7,302.6" fill="#e0e0e0" stroke="none" stroke-width="0" />
<polygon points="605.1,303.9 606.7,303.3 608.3,303.9 606.7,304.5" fill="#e0e0e0" stroke="none" stroke-width="0" />
<polygon points="610.1,305.8 611.6,305.2 613.2,305.8 611.6,306.4" fill="#e0e0e0" stroke="none" stroke-width="0" />
<polygon points="613.6,307.7 616.6,306.5 619.6,307.7 616.6,308.8" fill="#fff" stroke="none" stroke-width="0" />
<polygon points="620,309.6 621.6,309 623.2,309.6 621.6,310.2" fill="#e0e0e0" stroke="none" stroke-width="0" />
<polygon points="625,311.4 626.6,310.8 628.2,311.4 626.6,312" fill="#e0e0e0" stroke="none" stroke-width="0" />
<polygon points="630,313.3 631.6,312.7 633.2,313.3 631.6,313.9" fill="#e0e0e0" stroke="none" stroke-width="0" />
<polygon points="633.6,315.2 636.5,314.1 639.5,315.2 636.6,316.4" fill="#fff" stroke="none" stroke-width="0" />
<polygon points="598.7,298.2 601.7,297.1 604.7,298.2 601.7,299.4" fill="#fff" stroke="none" stroke-width="0" />
<polygon points="605.1,300.1 606.7,299.5 608.3,300.1 606.7,300.7" fill="#e0e0e0" stroke="none" stroke-width="0" />
<polygon points="610,302 611.6,301.4 613.2,302 611.6,302.6" fill="#e0e0e0" stroke="none" stroke-width="0" />
<polygon points="615,303.9 616.6,303.3 618.2,303.9 616.6,304.5" fill="#e0e0e0" stroke="none" stroke-width="0" />
<polygon points="618.6,305.8 621.6,304.6 624.6,305.8 621.6,306.9" fill="#fff" stroke="none" stroke-width="0" />
<polygon points="625,307.7 626.5,307.1 628.1,307.7 626.6,308.3" fill="#e0e0e0" stroke="none" stroke-width="0" />
<polygon points="629.9,309.6 631.5,309 633.1,309.6 631.5,310.2" fill="#e0e0e0" stroke="none" stroke-width="0" />
<polygon points="634.9,311.4 636.5,310.8 638.1,311.4 636.5,312" fill="#e0e0e0" stroke="none" stroke-width="0" />
<polygon points="638.5,313.3 641.4,312.2 644.4,313.3 641.5,314.5" fill="#fff" stroke="none" stroke-width="0" />
<polygon points="603.7,296.3 606.7,295.2 609.7,296.3 606.7,297.5" fill="#fff" stroke="none" stroke-width="0" />
<polygon points="610.1,298.2 611.6,297.6 613.2,298.2 611.6,298.8" fill="#e0e0e0" stroke="none" stroke-width="0" />
<polygon points="615,300.1 616.6,299.5 618.2,300.1 616.6,300.7" fill="#e0e0e0" stroke="none" stroke-width="0" />
<polygon points="620,302 621.6,301.4 623.2,302 621.6,302.6" fill="#e0e0e0" stroke="none" stroke-width="0" />
<polygon points="623.6,303.9 626.5,302.8 629.5,303.9 626.5,305" fill="#fff" stroke="none" stroke-width="0" />
<polygon points="629.9,305.8 631.5,305.2 633.1,305.8 631.5,306.4" fill="#e0e0e0" stroke="none" stroke-width="0" />
<polygon points="634.9,307.7 636.4,307.1 638,307.7 636.5,308.3" fill="#e0e0e0" stroke="none" stroke-width="0" />
<polygon points="639.8,309.6 641.4,309 643,309.6 641.4,310.2" fill="#e0e0e0" stroke="none" stroke-width="0" />
<polygon points="643.4,311.4 646.4,310.3 649.3,311.4 646.4,312.6" fill="#fff" stroke="none" stroke-width="0" />
<polygon points="608.7,294.4 611.7,293.3 614.7,294.4 611.7,295.6" fill="#fff" stroke="none" stroke-width="0" />
<polygon points="613.6,296.3 616.6,295.2 619.6,296.3 616.6,297.5" fill="#fff" stroke="none" stroke-width="0" />
<polygon points="618.6,298.2 621.6,297.1 624.6,298.2 621.6,299.4" fill="#fff" stroke="none" stroke-width="0" />
<polygon points="623.6,300.1 626.5,299 629.5,300.1 626.5,301.2" fill="#fff" stroke="none" stroke-width="0" />
<polygon points="628.5,302 631.5,300.9 634.4,302 631.5,303.1" fill="#fff" stroke="none" stroke-width="0" />
<polygon points="633.5,303.9 636.4,302.8 639.4,303.9 636.4,305" fill="#fff" stroke="none" stroke-width="0" />
<polygon points="638.4,305.8 641.4,304.6 644.3,305.8 641.4,306.9" fill="#fff" stroke="none" stroke-width="0" />
<polygon points="643.4,307.7 646.3,306.5 649.3,307.7 646.3,308.8" fill="#fff" stroke="none" stroke-width="0" />
<polygon points="648.3,309.6 651.3,308.4 654.2,309.6 651.3,310.7" fill="#fff" stroke="none" stroke-width="0" />
<polygon points="613.7,292.6 616.7,291.4 619.6,292.6 616.7,293.7" fill="#fff" stroke="none" stroke-width="0" />
<polygon points="620,294.4 621.6,293.8 623.2,294.4 621.6,295" fill="#e0e0e0" stroke="none" stroke-width="0" />
<polygon points="625,296.3 626.6,295.7 628.1,296.3 626.5,296.9" fill="#e0e0e0" stroke="none" stroke-width="0" />
<polygon points="629.9,298.2 631.5,297.6 633.1,298.2 631.5,298.8" fill="#e0e0e0" stroke="none" stroke-width="0" />
<polygon points="633.5,300.1 636.4,299 639.4,300.1 636.4,301.2" fill="#fff" stroke="none" stroke-width="0" />
<polygon points="639.8,302 641.4,301.4 642.9,302 641.4,302.6" fill="#e0e0e0" stroke="none" stroke-width="0" />
<polygon points="644.7,303.9 646.3,303.3 647.9,303.9 646.3,304.5" fill="#e0e0e0" stroke="none" stroke-width="0" />
<polygon points="649.7,305.8 651.2,305.2 652.8,305.8 651.2,306.4" fill="#e0e0e0" stroke="none" stroke-width="0" />
<polygon points="653.2,307.7 656.2,306.5 659.1,307.7 656.2,308.8" fill="#fff" stroke="none" stroke-width="0" />
<polygon points="618.7,290.7 621.7,289.5 624.6,290.7 621.6,291.8" fill="#fff" stroke="none" stroke-width="0" />
<polygon points="625,292.6 626.6,292 628.2,292.6 626.6,293.2" fill="#e0e0e0" stroke="none" stroke-width="0" />
<polygon points="629.9,294.4 631.5,293.8 633.1,294.4 631.5,295" fill="#e0e0e0" stroke="none" stroke-width="0" />
<polygon points="634.9,296.3 636.5,295.7 638,296.3 636.4,296.9" fill="#e0e0e0" stroke="none" stroke-width="0" />
<polygon points="638.4,298.2 641.4,297.1 644.3,298.2 641.4,299.4" fill="#fff" stroke="none" stroke-width="0" />
<polygon points="644.7,300.1 646.3,299.5 647.9,300.1 646.3,300.7" fill="#e0e0e0" stroke="none" stroke-width="0" />
<polygon points="649.7,302 651.2,301.4 652.8,302 651.2,302.6" fill="#e0e0e0" stroke="none" stroke-width="0" />
<polygon points="654.6,303.9 656.2,303.3 657.7,303.9 656.2,304.5" fill="#e0e0e0" stroke="none" stroke-width="0" />
<polygon points="658.1,305.8 661.1,304.6 664,305.8 661.1,306.9" fill="#fff" stroke="none" stroke-width="0" />
<polygon points="623.7,288.8 626.7,287.6 629.6,288.8 626.6,289.9" fill="#fff" stroke="none" stroke-width="0" />
<polygon points="630,290.7 631.6,290.1 633.2,290.7 631.6,291.3" fill="#e0e0e0" stroke="none" stroke-width="0" />
<polygon points="634.9,292.6 636.5,292 638.1,292.6 636.5,293.2" fill="#e0e0e0" stroke="none" stroke-width="0" />
<polygon points="639.8,294.4 641.4,293.8 643,294.4 641.4,295" fill="#e0e0e0" stroke="none" stroke-width="0" />
<polygon points="643.4,296.3 646.3,295.2 649.3,296.3 646.3,297.5" fill="#fff" stroke="none" stroke-width="0" />
<polygon points="649.7,298.2 651.2,297.6 652.8,298.2 651.2,298.8" fill="#e0e0e0" stroke="none" stroke-width="0" />
<polygon points="654.6,300.1 656.2,299.5 657.7,300.1 656.2,300.7" fill="#e0e0e0" stroke="none" stroke-width="0" />
<polygon points="659.5,302 661.1,301.4 662.6,302 661.1,302.6" fill="#e0e0e0" stroke="none" stroke-width="0" />
<polygon points="663,303.9 666,302.8 668.9,303.9 666,305" fill="#fff" stroke="none" stroke-width="0" />
<polygon points="628.7,286.9 631.7,285.8 634.6,286.9 631.6,288" fill="#fff" stroke="none" stroke-width="0" />
<polygon points="633.6,288.8 636.6,287.6 639.5,288.8 636.5,289.9" fill="#fff" stroke="none" stroke-width="0" />
<polygon points="638.5,290.7 641.5,289.5 644.4,290.7 641.4,291.8" fill="#fff" stroke="none" stroke-width="0" />
<polygon points="643.4,292.6 646.4,291.4 649.3,292.6 646.4,293.7" fill="#fff" stroke="none" stroke-width="0" />
<polygon points="648.3,294.4 651.3,293.3 654.2,294.4 651.3,295.6" fill="#fff" stroke="none" stroke-width="0" />
<polygon points="653.2,296.3 656.2,295.2 659.1,296.3 656.2,297.5" fill="#fff" stroke="none" stroke-width="0" />
<polygon points="658.1,298.2 661.1,297.1 664,298.2 661.1,299.4" fill="#fff" stroke="none" stroke-width="0" />
<polygon points="663,300.1 666,299 668.9,300.1 666,301.2" fill="#fff" stroke="none" stroke-width="0" />
<polygon points="668,302 670.9,300.9 673.8,302 670.9,303.1" fill="#fff" stroke="none" stroke-width="0" />
<line x1="631.7" y1="319" x2="630.8" y2="321.8" stroke="#222" stroke-width="1.5" />
<ellipse cx="791" cy="346" rx="85.5" ry="70" fill="none" stroke="#b04860" stroke-width="1.6" />
<path d="M745,350 L745,402 A32,8 0 0 0 809,402 L809,350 Z" fill="#a0a0a0" stroke="#1a1a1a" stroke-width="1.6" />
<path d="M753,355 A24,7 0 0 0 806,355" fill="none" stroke="#c4c4c4" stroke-width="1.3"/>
<path d="M753,358.6 A24,7 0 0 0 806,358.6" fill="none" stroke="#808080" stroke-width="0.9"/>
<path d="M753,362.1 A24,7 0 0 0 806,362.1" fill="none" stroke="#c4c4c4" stroke-width="1.3"/>
<path d="M753,365.7 A24,7 0 0 0 806,365.7" fill="none" stroke="#808080" stroke-width="0.9"/>
<path d="M753,369.3 A24,7 0 0 0 806,369.3" fill="none" stroke="#c4c4c4" stroke-width="1.3"/>
<path d="M753,372.9 A24,7 0 0 0 806,372.9" fill="none" stroke="#808080" stroke-width="0.9"/>
<path d="M753,376.4 A24,7 0 0 0 806,376.4" fill="none" stroke="#c4c4c4" stroke-width="1.3"/>
<path d="M753,380 A24,7 0 0 0 806,380" fill="none" stroke="#808080" stroke-width="0.9"/>
<path d="M753,383.6 A24,7 0 0 0 806,383.6" fill="none" stroke="#c4c4c4" stroke-width="1.3"/>
<path d="M753,387.1 A24,7 0 0 0 806,387.1" fill="none" stroke="#808080" stroke-width="0.9"/>
<path d="M753,390.7 A24,7 0 0 0 806,390.7" fill="none" stroke="#c4c4c4" stroke-width="1.3"/>
<path d="M753,394.3 A24,7 0 0 0 806,394.3" fill="none" stroke="#808080" stroke-width="0.9"/>
<path d="M753,397.9 A24,7 0 0 0 806,397.9" fill="none" stroke="#c4c4c4" stroke-width="1.3"/>
<path d="M753,401.4 A24,7 0 0 0 806,401.4" fill="none" stroke="#808080" stroke-width="0.9"/>
<line x1="752" y1="352" x2="752" y2="406.8" stroke="#e8e8e8" stroke-width="1" stroke-dasharray="3,2"/>
<polygon points="731,339 779,357 779,360 731,342" fill="#fff" stroke="#1a1a1a" stroke-width="1.2" />
<polygon points="779,357 824,339 824,342 779,360" fill="#fff" stroke="#1a1a1a" stroke-width="1.2" />
<polygon points="731,339 778,321 824,339 779,357" fill="#fff" stroke="#1a1a1a" stroke-width="1.5" />
<polygon points="749,339 777.9,327.8 806.6,339 778.5,350.2" fill="#fff" stroke="#1a1a1a" stroke-width="1.5" />
<ellipse cx="738.2" cy="339.7" rx="2.9" ry="1.9" fill="#fff" stroke="#666" stroke-width="0.8" />
<ellipse cx="777" cy="354.3" rx="2.9" ry="1.9" fill="#fff" stroke="#666" stroke-width="0.8" />
<ellipse cx="738.1" cy="338.3" rx="2.9" ry="1.9" fill="#fff" stroke="#666" stroke-width="0.8" />
<ellipse cx="776.1" cy="323.7" rx="2.9" ry="1.9" fill="#fff" stroke="#666" stroke-width="0.8" />
<ellipse cx="743.4" cy="337.7" rx="2.9" ry="1.9" fill="#fff" stroke="#666" stroke-width="0.8" />
<ellipse cx="782" cy="352.3" rx="2.9" ry="1.9" fill="#fff" stroke="#666" stroke-width="0.8" />
<ellipse cx="743.4" cy="340.3" rx="2.9" ry="1.9" fill="#fff" stroke="#666" stroke-width="0.8" />
<ellipse cx="781.2" cy="325.7" rx="2.9" ry="1.9" fill="#fff" stroke="#666" stroke-width="0.8" />
<ellipse cx="748.6" cy="335.7" rx="2.9" ry="1.9" fill="#fff" stroke="#666" stroke-width="0.8" />
<ellipse cx="787" cy="350.3" rx="2.9" ry="1.9" fill="#fff" stroke="#666" stroke-width="0.8" />
<ellipse cx="748.7" cy="342.3" rx="2.9" ry="1.9" fill="#fff" stroke="#666" stroke-width="0.8" />
<ellipse cx="786.4" cy="327.7" rx="2.9" ry="1.9" fill="#fff" stroke="#666" stroke-width="0.8" />
<ellipse cx="753.8" cy="333.7" rx="2.9" ry="1.9" fill="#fff" stroke="#666" stroke-width="0.8" />
<ellipse cx="792" cy="348.3" rx="2.9" ry="1.9" fill="#fff" stroke="#666" stroke-width="0.8" />
<ellipse cx="754.1" cy="344.3" rx="2.9" ry="1.9" fill="#fff" stroke="#666" stroke-width="0.8" />
<ellipse cx="791.5" cy="329.7" rx="2.9" ry="1.9" fill="#fff" stroke="#666" stroke-width="0.8" />
<ellipse cx="759" cy="331.7" rx="2.9" ry="1.9" fill="#fff" stroke="#666" stroke-width="0.8" />
<ellipse cx="797" cy="346.3" rx="2.9" ry="1.9" fill="#fff" stroke="#666" stroke-width="0.8" />
<ellipse cx="759.4" cy="346.3" rx="2.9" ry="1.9" fill="#fff" stroke="#666" stroke-width="0.8" />
<ellipse cx="796.6" cy="331.7" rx="2.9" ry="1.9" fill="#fff" stroke="#666" stroke-width="0.8" />
<ellipse cx="764.2" cy="329.7" rx="2.9" ry="1.9" fill="#fff" stroke="#666" stroke-width="0.8" />
<ellipse cx="802.1" cy="344.3" rx="2.9" ry="1.9" fill="#fff" stroke="#666" stroke-width="0.8" />
<ellipse cx="764.7" cy="348.3" rx="2.9" ry="1.9" fill="#fff" stroke="#666" stroke-width="0.8" />
<ellipse cx="801.8" cy="333.7" rx="2.9" ry="1.9" fill="#fff" stroke="#666" stroke-width="0.8" />
<ellipse cx="769.4" cy="327.7" rx="2.9" ry="1.9" fill="#fff" stroke="#666" stroke-width="0.8" />
<ellipse cx="807.1" cy="342.3" rx="2.9" ry="1.9" fill="#fff" stroke="#666" stroke-width="0.8" />
<ellipse cx="770" cy="350.3" rx="2.9" ry="1.9" fill="#fff" stroke="#666" stroke-width="0.8" />
<ellipse cx="806.9" cy="335.7" rx="2.9" ry="1.9" fill="#fff" stroke="#666" stroke-width="0.8" />
<ellipse cx="774.6" cy="325.7" rx="2.9" ry="1.9" fill="#fff" stroke="#666" stroke-width="0.8" />
<ellipse cx="812.1" cy="340.3" rx="2.9" ry="1.9" fill="#fff" stroke="#666" stroke-width="0.8" />
<ellipse cx="775.3" cy="352.3" rx="2.9" ry="1.9" fill="#fff" stroke="#666" stroke-width="0.8" />
<ellipse cx="812" cy="337.7" rx="2.9" ry="1.9" fill="#fff" stroke="#666" stroke-width="0.8" />
<ellipse cx="779.8" cy="323.7" rx="2.9" ry="1.9" fill="#fff" stroke="#666" stroke-width="0.8" />
<ellipse cx="817.1" cy="338.3" rx="2.9" ry="1.9" fill="#fff" stroke="#666" stroke-width="0.8" />
<ellipse cx="780.6" cy="354.3" rx="2.9" ry="1.9" fill="#fff" stroke="#666" stroke-width="0.8" />
<ellipse cx="817.2" cy="339.7" rx="2.9" ry="1.9" fill="#fff" stroke="#666" stroke-width="0.8" />
<line x1="802.5" y1="330" x2="802.5" y2="342" stroke="#222" stroke-width="1.3" />
<polygon points="733,302 777,285 821,302 778,319" fill="#666" stroke="#333" stroke-width="1.4" />
<polygon points="734.6,302 738.5,300.5 742.6,302 738.6,303.5" fill="#fff" stroke="none" stroke-width="0" />
<polygon points="740.2,304.1 744.1,302.6 748.2,304.1 744.2,305.7" fill="#fff" stroke="none" stroke-width="0" />
<polygon points="745.8,306.2 749.7,304.7 753.8,306.2 749.9,307.8" fill="#fff" stroke="none" stroke-width="0" />
<polygon points="751.4,308.4 755.4,306.8 759.4,308.4 755.5,309.9" fill="#fff" stroke="none" stroke-width="0" />
<polygon points="757,310.5 761,309 765,310.5 761.1,312" fill="#fff" stroke="none" stroke-width="0" />
<polygon points="762.7,312.6 766.6,311.1 770.6,312.6 766.7,314.2" fill="#fff" stroke="none" stroke-width="0" />
<polygon points="768.3,314.8 772.2,313.2 776.2,314.8 772.3,316.3" fill="#fff" stroke="none" stroke-width="0" />
<polygon points="773.9,316.9 777.8,315.3 781.8,316.9 778,318.4" fill="#fff" stroke="none" stroke-width="0" />
<polygon points="740.1,299.9 744,298.3 748,299.9 744.1,301.4" fill="#fff" stroke="none" stroke-width="0" />
<polygon points="747.4,302 749.6,301.1 751.9,302 749.7,302.9" fill="#e0e0e0" stroke="none" stroke-width="0" />
<polygon points="753,304.1 755.2,303.3 757.5,304.1 755.3,305" fill="#e0e0e0" stroke="none" stroke-width="0" />
<polygon points="756.9,306.2 760.8,304.7 764.8,306.2 760.9,307.8" fill="#fff" stroke="none" stroke-width="0" />
<polygon points="762.5,308.4 766.4,306.8 770.4,308.4 766.5,309.9" fill="#fff" stroke="none" stroke-width="0" />
<polygon points="769.9,310.5 772,309.6 774.3,310.5 772.1,311.4" fill="#e0e0e0" stroke="none" stroke-width="0" />
<polygon points="775.5,312.6 777.6,311.8 779.9,312.6 777.7,313.5" fill="#e0e0e0" stroke="none" stroke-width="0" />
<polygon points="779.3,314.8 783.2,313.2 787.2,314.8 783.3,316.3" fill="#fff" stroke="none" stroke-width="0" />
<polygon points="745.6,297.8 749.5,296.2 753.5,297.8 749.6,299.3" fill="#fff" stroke="none" stroke-width="0" />
<polygon points="752.9,299.9 755.1,299 757.3,299.9 755.2,300.7" fill="#e0e0e0" stroke="none" stroke-width="0" />
<polygon points="758.5,302 760.7,301.1 762.9,302 760.7,302.9" fill="#e0e0e0" stroke="none" stroke-width="0" />
<polygon points="762.3,304.1 766.3,302.6 770.3,304.1 766.4,305.7" fill="#fff" stroke="none" stroke-width="0" />
<polygon points="767.9,306.2 771.8,304.7 775.9,306.2 771.9,307.8" fill="#fff" stroke="none" stroke-width="0" />
<polygon points="775.3,308.4 777.4,307.5 779.7,308.4 777.5,309.2" fill="#e0e0e0" stroke="none" stroke-width="0" />
<polygon points="780.9,310.5 783,309.6 785.3,310.5 783.1,311.4" fill="#e0e0e0" stroke="none" stroke-width="0" />
<polygon points="784.7,312.6 788.6,311.1 792.6,312.6 788.7,314.2" fill="#fff" stroke="none" stroke-width="0" />
<polygon points="751.1,295.6 755,294.1 759,295.6 755.1,297.2" fill="#fff" stroke="none" stroke-width="0" />
<polygon points="756.6,297.8 760.6,296.2 764.6,297.8 760.6,299.3" fill="#fff" stroke="none" stroke-width="0" />
<polygon points="762.2,299.9 766.1,298.3 770.1,299.9 766.2,301.4" fill="#fff" stroke="none" stroke-width="0" />
<polygon points="767.8,302 771.7,300.5 775.7,302 771.8,303.5" fill="#fff" stroke="none" stroke-width="0" />
<polygon points="773.4,304.1 777.3,302.6 781.3,304.1 777.4,305.7" fill="#fff" stroke="none" stroke-width="0" />
<polygon points="778.9,306.2 782.8,304.7 786.8,306.2 782.9,307.8" fill="#fff" stroke="none" stroke-width="0" />
<polygon points="784.5,308.4 788.4,306.8 792.4,308.4 788.5,309.9" fill="#fff" stroke="none" stroke-width="0" />
<polygon points="790.1,310.5 794,309 798,310.5 794.1,312" fill="#fff" stroke="none" stroke-width="0" />
<polygon points="756.5,293.5 760.5,292 764.5,293.5 760.6,295" fill="#fff" stroke="none" stroke-width="0" />
<polygon points="762.1,295.6 766.1,294.1 770.1,295.6 766.1,297.2" fill="#fff" stroke="none" stroke-width="0" />
<polygon points="767.7,297.8 771.6,296.2 775.6,297.8 771.7,299.3" fill="#fff" stroke="none" stroke-width="0" />
<polygon points="773.2,299.9 777.2,298.3 781.1,299.9 777.2,301.4" fill="#fff" stroke="none" stroke-width="0" />
<polygon points="778.8,302 782.7,300.5 786.7,302 782.8,303.5" fill="#fff" stroke="none" stroke-width="0" />
<polygon points="784.4,304.1 788.3,302.6 792.2,304.1 788.4,305.7" fill="#fff" stroke="none" stroke-width="0" />
<polygon points="789.9,306.2 793.8,304.7 797.8,306.2 793.9,307.8" fill="#fff" stroke="none" stroke-width="0" />
<polygon points="795.5,308.4 799.4,306.8 803.3,308.4 799.5,309.9" fill="#fff" stroke="none" stroke-width="0" />
<polygon points="762,291.4 766,289.8 770,291.4 766,292.9" fill="#fff" stroke="none" stroke-width="0" />
<polygon points="769.4,293.5 771.5,292.6 773.8,293.5 771.6,294.4" fill="#e0e0e0" stroke="none" stroke-width="0" />
<polygon points="774.9,295.6 777.1,294.8 779.3,295.6 777.1,296.5" fill="#e0e0e0" stroke="none" stroke-width="0" />
<polygon points="778.7,297.8 782.6,296.2 786.6,297.8 782.7,299.3" fill="#fff" stroke="none" stroke-width="0" />
<polygon points="784.2,299.9 788.1,298.3 792.1,299.9 788.2,301.4" fill="#fff" stroke="none" stroke-width="0" />
<polygon points="791.5,302 793.7,301.1 795.9,302 793.7,302.9" fill="#e0e0e0" stroke="none" stroke-width="0" />
<polygon points="797.1,304.1 799.2,303.3 801.4,304.1 799.3,305" fill="#e0e0e0" stroke="none" stroke-width="0" />
<polygon points="800.9,306.2 804.7,304.7 808.7,306.2 804.9,307.8" fill="#fff" stroke="none" stroke-width="0" />
<polygon points="767.5,289.2 771.5,287.7 775.5,289.2 771.5,290.8" fill="#fff" stroke="none" stroke-width="0" />
<polygon points="774.8,291.4 777,290.5 779.2,291.4 777,292.2" fill="#e0e0e0" stroke="none" stroke-width="0" />
<polygon points="780.4,293.5 782.5,292.6 784.8,293.5 782.6,294.4" fill="#e0e0e0" stroke="none" stroke-width="0" />
<polygon points="784.1,295.6 788.1,294.1 792,295.6 788.1,297.2" fill="#fff" stroke="none" stroke-width="0" />
<polygon points="789.7,297.8 793.6,296.2 797.5,297.8 793.6,299.3" fill="#fff" stroke="none" stroke-width="0" />
<polygon points="796.9,299.9 799.1,299 801.3,299.9 799.2,300.7" fill="#e0e0e0" stroke="none" stroke-width="0" />
<polygon points="802.5,302 804.6,301.1 806.8,302 804.7,302.9" fill="#e0e0e0" stroke="none" stroke-width="0" />
<polygon points="806.2,304.1 810.1,302.6 814.1,304.1 810.2,305.7" fill="#fff" stroke="none" stroke-width="0" />
<polygon points="773,287.1 777,285.6 781,287.1 777,288.7" fill="#fff" stroke="none" stroke-width="0" />
<polygon points="778.6,289.2 782.5,287.7 786.5,289.2 782.5,290.8" fill="#fff" stroke="none" stroke-width="0" />
<polygon points="784.1,291.4 788,289.8 792,291.4 788,292.9" fill="#fff" stroke="none" stroke-width="0" />
<polygon points="789.6,293.5 793.5,292 797.5,293.5 793.6,295" fill="#fff" stroke="none" stroke-width="0" />
<polygon points="795.1,295.6 799,294.1 803,295.6 799.1,297.2" fill="#fff" stroke="none" stroke-width="0" />
<polygon points="800.6,297.8 804.5,296.2 808.5,297.8 804.6,299.3" fill="#fff" stroke="none" stroke-width="0" />
<polygon points="806.1,299.9 810,298.3 814,299.9 810.1,301.4" fill="#fff" stroke="none" stroke-width="0" />
<polygon points="811.6,302 815.5,300.5 819.5,302 815.6,303.5" fill="#fff" stroke="none" stroke-width="0" />
<line x1="778" y1="319" x2="778" y2="321" stroke="#222" stroke-width="1.5" />
<polygon points="604.7,252.5 648.8,236.3 692.9,252.5 647,270.5" fill="#6a6a6a" stroke="#333" stroke-width="1.4" />
<polygon points="606.5,252.5 609.6,251.4 612.5,252.6 609.4,253.8" fill="#fff" stroke="none" stroke-width="0" />
<polygon points="611.2,254.5 614.3,253.4 617.2,254.6 614.1,255.8" fill="#fff" stroke="none" stroke-width="0" />
<polygon points="615.9,256.5 619,255.4 621.9,256.6 618.8,257.8" fill="#fff" stroke="none" stroke-width="0" />
<polygon points="620.6,258.5 623.7,257.4 626.6,258.6 623.6,259.8" fill="#fff" stroke="none" stroke-width="0" />
<polygon points="625.3,260.5 628.4,259.3 631.4,260.6 628.3,261.8" fill="#fff" stroke="none" stroke-width="0" />
<polygon points="630,262.5 633.2,261.3 636.1,262.6 633,263.8" fill="#fff" stroke="none" stroke-width="0" />
<polygon points="634.8,264.5 637.9,263.3 640.8,264.5 637.7,265.7" fill="#fff" stroke="none" stroke-width="0" />
<polygon points="639.5,266.5 642.6,265.3 645.5,266.5 642.4,267.7" fill="#fff" stroke="none" stroke-width="0" />
<polygon points="644.2,268.5 647.3,267.3 650.2,268.5 647.1,269.7" fill="#fff" stroke="none" stroke-width="0" />
<polygon points="611.4,250.7 614.5,249.6 617.4,250.8 614.4,252" fill="#fff" stroke="none" stroke-width="0" />
<polygon points="617.1,252.7 619.2,252 621.2,252.8 619.1,253.5" fill="#e0e0e0" stroke="none" stroke-width="0" />
<polygon points="621.8,254.7 623.9,253.9 625.9,254.7 623.8,255.5" fill="#e0e0e0" stroke="none" stroke-width="0" />
<polygon points="626.6,256.7 628.7,255.9 630.7,256.7 628.6,257.5" fill="#e0e0e0" stroke="none" stroke-width="0" />
<polygon points="630.3,258.6 633.4,257.5 636.4,258.7 633.3,259.9" fill="#fff" stroke="none" stroke-width="0" />
<polygon points="636,260.6 638.1,259.8 640.1,260.6 638,261.4" fill="#e0e0e0" stroke="none" stroke-width="0" />
<polygon points="640.8,262.6 642.9,261.8 644.9,262.6 642.8,263.4" fill="#e0e0e0" stroke="none" stroke-width="0" />
<polygon points="645.5,264.5 647.6,263.7 649.6,264.5 647.5,265.4" fill="#e0e0e0" stroke="none" stroke-width="0" />
<polygon points="649.2,266.5 652.4,265.3 655.3,266.5 652.2,267.7" fill="#fff" stroke="none" stroke-width="0" />
<polygon points="616.3,248.9 619.4,247.8 622.3,249 619.3,250.1" fill="#fff" stroke="none" stroke-width="0" />
<polygon points="622,250.9 624.1,250.1 626.1,250.9 624,251.7" fill="#e0e0e0" stroke="none" stroke-width="0" />
<polygon points="626.8,252.8 628.9,252.1 630.9,252.9 628.8,253.7" fill="#e0e0e0" stroke="none" stroke-width="0" />
<polygon points="631.6,254.8 633.6,254 635.6,254.8 633.5,255.6" fill="#e0e0e0" stroke="none" stroke-width="0" />
<polygon points="635.3,256.7 638.4,255.6 641.4,256.8 638.3,257.9" fill="#fff" stroke="none" stroke-width="0" />
<polygon points="641.1,258.7 643.2,257.9 645.2,258.7 643,259.5" fill="#e0e0e0" stroke="none" stroke-width="0" />
<polygon points="645.8,260.6 647.9,259.8 649.9,260.6 647.8,261.5" fill="#e0e0e0" stroke="none" stroke-width="0" />
<polygon points="650.6,262.6 652.7,261.8 654.7,262.6 652.6,263.4" fill="#e0e0e0" stroke="none" stroke-width="0" />
<polygon points="654.3,264.5 657.5,263.3 660.4,264.5 657.3,265.7" fill="#fff" stroke="none" stroke-width="0" />
<polygon points="621.2,247.1 624.3,246 627.2,247.2 624.2,248.3" fill="#fff" stroke="none" stroke-width="0" />
<polygon points="627,249.1 629,248.3 631.1,249.1 629,249.9" fill="#e0e0e0" stroke="none" stroke-width="0" />
<polygon points="631.8,251 633.8,250.2 635.8,251 633.8,251.8" fill="#e0e0e0" stroke="none" stroke-width="0" />
<polygon points="636.5,252.9 638.6,252.1 640.6,252.9 638.5,253.7" fill="#e0e0e0" stroke="none" stroke-width="0" />
<polygon points="640.3,254.8 643.4,253.7 646.4,254.9 643.3,256" fill="#fff" stroke="none" stroke-width="0" />
<polygon points="646.1,256.8 648.2,256 650.2,256.8 648.1,257.6" fill="#e0e0e0" stroke="none" stroke-width="0" />
<polygon points="650.8,258.7 653,257.9 655,258.7 652.8,259.5" fill="#e0e0e0" stroke="none" stroke-width="0" />
<polygon points="655.6,260.6 657.7,259.8 659.8,260.6 657.6,261.4" fill="#e0e0e0" stroke="none" stroke-width="0" />
<polygon points="659.4,262.6 662.6,261.3 665.5,262.5 662.4,263.8" fill="#fff" stroke="none" stroke-width="0" />
<polygon points="626.1,245.3 629.2,244.2 632.2,245.4 629.1,246.5" fill="#fff" stroke="none" stroke-width="0" />
<polygon points="630.9,247.2 634,246.1 637,247.3 633.9,248.4" fill="#fff" stroke="none" stroke-width="0" />
<polygon points="635.7,249.1 638.8,248 641.8,249.2 638.7,250.3" fill="#fff" stroke="none" stroke-width="0" />
<polygon points="640.5,251 643.6,249.9 646.6,251.1 643.5,252.2" fill="#fff" stroke="none" stroke-width="0" />
<polygon points="645.3,252.9 648.4,251.8 651.4,252.9 648.3,254.1" fill="#fff" stroke="none" stroke-width="0" />
<polygon points="650.1,254.9 653.2,253.7 656.2,254.8 653.1,256" fill="#fff" stroke="none" stroke-width="0" />
<polygon points="654.9,256.8 658,255.6 661,256.7 657.9,257.9" fill="#fff" stroke="none" stroke-width="0" />
<polygon points="659.7,258.7 662.8,257.5 665.8,258.6 662.7,259.9" fill="#fff" stroke="none" stroke-width="0" />
<polygon points="664.5,260.6 667.6,259.3 670.6,260.5 667.5,261.8" fill="#fff" stroke="none" stroke-width="0" />
<polygon points="631,243.5 634.1,242.4 637.1,243.6 634,244.7" fill="#fff" stroke="none" stroke-width="0" />
<polygon points="636.8,245.4 638.9,244.6 640.9,245.4 638.9,246.2" fill="#e0e0e0" stroke="none" stroke-width="0" />
<polygon points="641.7,247.3 643.7,246.5 645.8,247.3 643.7,248.1" fill="#e0e0e0" stroke="none" stroke-width="0" />
<polygon points="646.5,249.2 648.6,248.4 650.6,249.2 648.5,250" fill="#e0e0e0" stroke="none" stroke-width="0" />
<polygon points="650.3,251.1 653.4,249.9 656.4,251 653.3,252.2" fill="#fff" stroke="none" stroke-width="0" />
<polygon points="656.1,252.9 658.2,252.1 660.2,252.9 658.1,253.7" fill="#e0e0e0" stroke="none" stroke-width="0" />
<polygon points="660.9,254.8 663,254 665.1,254.8 662.9,255.6" fill="#e0e0e0" stroke="none" stroke-width="0" />
<polygon points="665.7,256.7 667.9,255.9 669.9,256.7 667.8,257.5" fill="#e0e0e0" stroke="none" stroke-width="0" />
<polygon points="669.6,258.6 672.7,257.4 675.7,258.5 672.6,259.8" fill="#fff" stroke="none" stroke-width="0" />
<polygon points="636,241.7 639,240.6 642,241.7 638.9,242.9" fill="#fff" stroke="none" stroke-width="0" />
<polygon points="641.8,243.6 643.8,242.8 645.9,243.6 643.8,244.4" fill="#e0e0e0" stroke="none" stroke-width="0" />
<polygon points="646.6,245.4 648.7,244.7 650.7,245.4 648.6,246.2" fill="#e0e0e0" stroke="none" stroke-width="0" />
<polygon points="651.4,247.3 653.5,246.5 655.6,247.3 653.5,248.1" fill="#e0e0e0" stroke="none" stroke-width="0" />
<polygon points="655.3,249.2 658.4,248 661.4,249.1 658.3,250.3" fill="#fff" stroke="none" stroke-width="0" />
<polygon points="661.1,251 663.2,250.2 665.3,251 663.2,251.8" fill="#e0e0e0" stroke="none" stroke-width="0" />
<polygon points="666,252.9 668.1,252.1 670.1,252.8 668,253.7" fill="#e0e0e0" stroke="none" stroke-width="0" />
<polygon points="670.8,254.7 672.9,253.9 675,254.7 672.8,255.5" fill="#e0e0e0" stroke="none" stroke-width="0" />
<polygon points="674.7,256.6 677.8,255.4 680.8,256.5 677.6,257.8" fill="#fff" stroke="none" stroke-width="0" />
<polygon points="640.9,239.9 643.9,238.8 646.9,239.9 643.9,241" fill="#fff" stroke="none" stroke-width="0" />
<polygon points="646.7,241.7 648.8,241 650.8,241.7 648.7,242.5" fill="#e0e0e0" stroke="none" stroke-width="0" />
<polygon points="651.6,243.6 653.6,242.8 655.7,243.6 653.6,244.4" fill="#e0e0e0" stroke="none" stroke-width="0" />
<polygon points="656.4,245.4 658.5,244.6 660.6,245.4 658.5,246.2" fill="#e0e0e0" stroke="none" stroke-width="0" />
<polygon points="660.3,247.3 663.4,246.1 666.4,247.2 663.3,248.4" fill="#fff" stroke="none" stroke-width="0" />
<polygon points="666.1,249.1 668.2,248.3 670.3,249.1 668.2,249.9" fill="#e0e0e0" stroke="none" stroke-width="0" />
<polygon points="671,250.9 673.1,250.1 675.2,250.9 673,251.7" fill="#e0e0e0" stroke="none" stroke-width="0" />
<polygon points="675.9,252.8 678,252 680,252.7 677.9,253.5" fill="#e0e0e0" stroke="none" stroke-width="0" />
<polygon points="679.7,254.6 682.9,253.4 685.9,254.5 682.7,255.8" fill="#fff" stroke="none" stroke-width="0" />
<polygon points="645.8,238.1 648.8,237 651.8,238.1 648.8,239.2" fill="#fff" stroke="none" stroke-width="0" />
<polygon points="650.6,239.9 653.7,238.8 656.7,239.9 653.7,241" fill="#fff" stroke="none" stroke-width="0" />
<polygon points="655.5,241.7 658.6,240.6 661.6,241.7 658.5,242.9" fill="#fff" stroke="none" stroke-width="0" />
<polygon points="660.4,243.6 663.5,242.4 666.5,243.5 663.4,244.7" fill="#fff" stroke="none" stroke-width="0" />
<polygon points="665.3,245.4 668.4,244.2 671.4,245.3 668.3,246.5" fill="#fff" stroke="none" stroke-width="0" />
<polygon points="670.2,247.2 673.3,246 676.3,247.1 673.2,248.3" fill="#fff" stroke="none" stroke-width="0" />
<polygon points="675.1,249 678.2,247.8 681.2,248.9 678.1,250.1" fill="#fff" stroke="none" stroke-width="0" />
<polygon points="679.9,250.8 683.1,249.6 686.1,250.7 683,252" fill="#fff" stroke="none" stroke-width="0" />
<polygon points="684.8,252.6 688,251.4 691,252.5 687.8,253.8" fill="#fff" stroke="none" stroke-width="0" />
<text x="710" y="265" textLength="64" lengthAdjust="spacingAndGlyphs" font-size="18" font-weight="400" fill="#b02c42" stroke="#b02c42" stroke-width="0.5">MPV008</text>
<line x1="692" y1="253.4" x2="710" y2="257" stroke="#b04860" stroke-width="1" />
<text x="801" y="327" textLength="63" lengthAdjust="spacingAndGlyphs" font-size="18" font-weight="400" fill="#b02c42" stroke="#b02c42" stroke-width="0.5">MPV006</text>
<line x1="821" y1="304" x2="836" y2="310" stroke="#b04860" stroke-width="1" />
<text x="130.7" y="272.5" textLength="67" lengthAdjust="spacingAndGlyphs" font-size="17" font-weight="700" fill="#1a1a1a">MPV001</text>
<line x1="169" y1="276" x2="174" y2="288" stroke="#333" stroke-width="1" />
<text x="271.7" y="274.3" textLength="67.5" lengthAdjust="spacingAndGlyphs" font-size="17" font-weight="700" fill="#1a1a1a">MPV002</text>
<line x1="301" y1="278" x2="310" y2="290" stroke="#333" stroke-width="1" />
<text x="436" y="269.8" textLength="68.4" lengthAdjust="spacingAndGlyphs" font-size="17" font-weight="700" fill="#1a1a1a">MPV003</text>
<line x1="472.9" y1="272.5" x2="477.4" y2="286" stroke="#333" stroke-width="1" />
<text x="536.3" y="270.5" textLength="67.5" lengthAdjust="spacingAndGlyphs" font-size="17" font-weight="700" fill="#1a1a1a">MPV004</text>
<line x1="565" y1="273" x2="587.6" y2="287.6" stroke="#333" stroke-width="1" />
<text x="169.5" y="465.5" textLength="69" lengthAdjust="spacingAndGlyphs" font-size="18" font-weight="400" fill="#b02c42" stroke="#b02c42" stroke-width="0.5">APV0500</text>
<line x1="202.5" y1="418" x2="204" y2="449.5" stroke="#b04860" stroke-width="1" />
<text x="256.5" y="446" textLength="69" lengthAdjust="spacingAndGlyphs" font-size="18" font-weight="400" fill="#b02c42" stroke="#b02c42" stroke-width="0.5">APV0600</text>
<line x1="306" y1="396" x2="297" y2="428.5" stroke="#b04860" stroke-width="1" />
<text x="378" y="433.4" textLength="69" lengthAdjust="spacingAndGlyphs" font-size="18" font-weight="400" fill="#b02c42" stroke="#b02c42" stroke-width="0.5">APV0700</text>
<line x1="437.8" y1="392" x2="410.8" y2="419" stroke="#b04860" stroke-width="1" />
<text x="598.6" y="448.7" textLength="70" lengthAdjust="spacingAndGlyphs" font-size="18" font-weight="400" fill="#b02c42" stroke="#b02c42" stroke-width="0.5">APV0300</text>
<line x1="632.4" y1="410" x2="632.4" y2="432" stroke="#b04860" stroke-width="1" />
<text x="678" y="433" textLength="68" lengthAdjust="spacingAndGlyphs" font-size="18" font-weight="400" fill="#b02c42" stroke="#b02c42" stroke-width="0.5">APV0100</text>
<line x1="737" y1="393" x2="712" y2="420" stroke="#b04860" stroke-width="1" />
<ellipse cx="486.8" cy="438.7" rx="32.5" ry="11.7" fill="none" stroke="#1a1a1a" stroke-width="2.8" />
<text x="509" y="461.7" textLength="76.6" lengthAdjust="spacingAndGlyphs" font-size="18" font-weight="400" fill="#b02c42" stroke="#b02c42" stroke-width="0.5">S0401-ND</text>
<line x1="520.6" y1="437.3" x2="553" y2="445" stroke="#b04860" stroke-width="1" />
<ellipse cx="289.7" cy="540.7" rx="63.3" ry="87.4" fill="#d9d9d9" stroke="none" stroke-width="1" />
<ellipse cx="482.5" cy="534.7" rx="62.7" ry="74.8" fill="#d9d9d9" stroke="none" stroke-width="1" />
<ellipse cx="690.8" cy="540.4" rx="62.4" ry="74.8" fill="#d9d9d9" stroke="none" stroke-width="1" />
<path d="M259,486 L259,490 A29,11 0 0 0 317,490 L317,486" fill="#e4e4e4" stroke="#222" stroke-width="1.6" />
<ellipse cx="288" cy="486" rx="29" ry="12" fill="#e8e8e8" stroke="#222" stroke-width="2" />
<ellipse cx="288" cy="488" rx="24" ry="8.5" fill="#dcdcdc" stroke="#222" stroke-width="1.4" />
<path d="M275,476 A29,12 0 0 1 301,476" fill="none" stroke="#fff" stroke-width="2.5"/>
<path d="M262,522 L263,530 A25,9 0 0 0 313,530 L314,522" fill="#e4e4e4" stroke="#222" stroke-width="1.5" />
<ellipse cx="288" cy="526" rx="26" ry="9" fill="none" stroke="#222" stroke-width="1.2" />
<path d="M263,520 Q270,507 300,504 Q316,506 316,518 Q300,530 263,520 Z" fill="#e8e8e8" stroke="#222" stroke-width="1.6" />
<ellipse cx="298" cy="511" rx="9" ry="4.5" fill="#ddd" stroke="#222" stroke-width="1.3" />
<ellipse cx="288" cy="520" rx="23" ry="6" fill="none" stroke="#555" stroke-width="0.9" />
<path d="M264,557 L265,578 Q268,585 289,585 Q310,585 312,578 L314,557" fill="#e4e4e4" stroke="#222" stroke-width="1.4" />
<ellipse cx="289" cy="554" rx="27" ry="9.5" fill="#e8e8e8" stroke="#222" stroke-width="5" />
<ellipse cx="289" cy="554" rx="27" ry="9.5" fill="none" stroke="#f4f4f4" stroke-width="2" stroke-dasharray="5,5"/>
<ellipse cx="289" cy="553" rx="20" ry="6" fill="none" stroke="#222" stroke-width="1.3" />
<path d="M270,568 Q276,564 282,570 L279,582 L271,580 Z" fill="none" stroke="#222" stroke-width="1.2" />
<path d="M290,570 Q297,565 304,569 L301,581 L292,580 Z" fill="none" stroke="#222" stroke-width="1.2" />
<path d="M312,569 L336,561 Q340,580 327,586 Q315,588 312,569 Z" fill="#e4e4e4" stroke="#222" stroke-width="1.5" />
<ellipse cx="288.5" cy="598.5" rx="28.5" ry="10" fill="none" stroke="#1a1a1a" stroke-width="2.2" />
<text x="344" y="490.6" textLength="76" lengthAdjust="spacingAndGlyphs" font-size="18" font-weight="400" fill="#b02c42" stroke="#b02c42" stroke-width="0.5">S0647-ND</text>
<line x1="371.6" y1="491.8" x2="315.5" y2="532.5" stroke="#b04860" stroke-width="1" />
<text x="355" y="600.6" textLength="77" lengthAdjust="spacingAndGlyphs" font-size="18" font-weight="400" fill="#b02c42" stroke="#b02c42" stroke-width="0.5">S0400-ND</text>
<line x1="400" y1="582" x2="451.7" y2="574.3" stroke="#b04860" stroke-width="1" />
<text x="324.3" y="632.5" textLength="77" lengthAdjust="spacingAndGlyphs" font-size="18" font-weight="400" fill="#b02c42" stroke="#b02c42" stroke-width="0.5">S0400-ND</text>
<line x1="318.8" y1="604" x2="357.3" y2="615" stroke="#b04860" stroke-width="1" />
<text x="204.4" y="654.6" textLength="73.6" lengthAdjust="spacingAndGlyphs" font-size="17" font-weight="700" fill="#1a1a1a">APV0020</text>
<line x1="247.3" y1="639" x2="269.3" y2="617" stroke="#333" stroke-width="1" />
<path d="M464,494 L464,512 A19,5 0 0 0 502,512 L502,494" fill="#e4e4e4" stroke="#2a2a2a" stroke-width="1.2" />
<path d="M452,486 L452,490 A31,10 0 0 0 514,490 L514,486" fill="#e4e4e4" stroke="#2a2a2a" stroke-width="1.3" />
<ellipse cx="483" cy="486" rx="31" ry="10.5" fill="#e8e8e8" stroke="#2a2a2a" stroke-width="1.6" />
<ellipse cx="483" cy="487" rx="25" ry="7.5" fill="none" stroke="#2a2a2a" stroke-width="1" />
<path d="M467,484 L467,478 A16,6 0 0 1 499,478 L499,484" fill="#e8e8e8" stroke="#2a2a2a" stroke-width="1.3" />
<ellipse cx="483" cy="477" rx="12" ry="5" fill="#ddd" stroke="#2a2a2a" stroke-width="1.4" />
<ellipse cx="483" cy="476" rx="6" ry="2.5" fill="none" stroke="#2a2a2a" stroke-width="1.2" />
<line x1="458" y1="484" x2="458" y2="492" stroke="#2a2a2a" stroke-width="1.2" />
<line x1="470" y1="484" x2="470" y2="492" stroke="#2a2a2a" stroke-width="1.2" />
<line x1="496" y1="484" x2="496" y2="492" stroke="#2a2a2a" stroke-width="1.2" />
<line x1="508" y1="484" x2="508" y2="492" stroke="#2a2a2a" stroke-width="1.2" />
<path d="M459,537 L460,553 Q462,563 483,564 Q504,563 506,553 L507,537" fill="#e4e4e4" stroke="#2a2a2a" stroke-width="1.2" />
<path d="M454,530 L454,535 A28.5,9 0 0 0 511,535 L511,530" fill="#e4e4e4" stroke="#2a2a2a" stroke-width="1.4" />
<ellipse cx="482.5" cy="530" rx="28.5" ry="9.5" fill="#e8e8e8" stroke="#2a2a2a" stroke-width="2" />
<ellipse cx="482.5" cy="531" rx="23" ry="7" fill="none" stroke="#2a2a2a" stroke-width="1" />
<path d="M470,533 L470,524 A13,5 0 0 1 496,524 L496,533" fill="#e8e8e8" stroke="#2a2a2a" stroke-width="1.2" />
<ellipse cx="483" cy="524" rx="13" ry="4.5" fill="#ddd" stroke="#2a2a2a" stroke-width="1.2" />
<line x1="460" y1="546" x2="505" y2="546" stroke="#555" stroke-width="0.9" />
<ellipse cx="482" cy="579.8" rx="29" ry="10.5" fill="none" stroke="#1a1a1a" stroke-width="2.2" />
<text x="547.6" y="615" textLength="74" lengthAdjust="spacingAndGlyphs" font-size="17" font-weight="700" fill="#1a1a1a">APV0010</text>
<line x1="532" y1="563.3" x2="572.7" y2="601.8" stroke="#333" stroke-width="1" />
<path d="M654,497 L654,501 A29.5,11 0 0 0 713,501 L713,497" fill="#e4e4e4" stroke="#222" stroke-width="1.6" />
<ellipse cx="683.5" cy="497" rx="29.5" ry="11.5" fill="#e8e8e8" stroke="#222" stroke-width="2" />
<ellipse cx="683.5" cy="499" rx="24" ry="8" fill="#dcdcdc" stroke="#222" stroke-width="1.4" />
<path d="M672,486 A29.5,11.5 0 0 1 696,486" fill="none" stroke="#fff" stroke-width="2.2"/>
<ellipse cx="683.7" cy="526" rx="28.5" ry="10.5" fill="none" stroke="#1a1a1a" stroke-width="2.2" />
<path d="M657,556 L660,571 Q668,582 683,581 Q697,580 704,571 L710,556" fill="#e4e4e4" stroke="#222" stroke-width="1.4" />
<ellipse cx="683" cy="552" rx="28" ry="10" fill="#e8e8e8" stroke="#222" stroke-width="4.5" />
<ellipse cx="683" cy="552" rx="28" ry="10" fill="none" stroke="#f4f4f4" stroke-width="1.8" stroke-dasharray="6,5"/>
<ellipse cx="683" cy="551" rx="20" ry="6" fill="none" stroke="#222" stroke-width="1.2" />
<line x1="662" y1="570" x2="700" y2="566" stroke="#444" stroke-width="1" />
<path d="M694,574 L729,563 L728,585 Q716,592 701,590 Q694,585 694,574 Z" fill="#e6e6e6" stroke="#222" stroke-width="1.5" />
<text x="555.6" y="508.2" textLength="78" lengthAdjust="spacingAndGlyphs" font-size="18" font-weight="400" fill="#b02c42" stroke="#b02c42" stroke-width="0.5">S0400-ND</text>
<line x1="596" y1="508.5" x2="654.4" y2="522.8" stroke="#b04860" stroke-width="1" />
<text x="702.5" y="642.4" textLength="75.5" lengthAdjust="spacingAndGlyphs" font-size="17" font-weight="700" fill="#1a1a1a">APV0030</text>
<line x1="720.7" y1="600.8" x2="737.6" y2="626.8" stroke="#333" stroke-width="1" />
<ellipse cx="486" cy="660" rx="77.3" ry="42.3" fill="none" stroke="#b04860" stroke-width="1.6" />
<ellipse cx="482" cy="668" rx="66" ry="21.5" fill="#fff" stroke="#1a1a1a" stroke-width="3" />
<ellipse cx="482" cy="668.5" rx="61" ry="18.5" fill="none" stroke="#1a1a1a" stroke-width="1.6" />
<ellipse cx="483" cy="665" rx="50" ry="18" fill="none" stroke="#1a1a1a" stroke-width="7" />
<ellipse cx="483" cy="665" rx="50" ry="18" fill="none" stroke="#fff" stroke-width="3.2" stroke-dasharray="9,6"/>
<ellipse cx="483" cy="665" rx="40" ry="14" fill="none" stroke="#1a1a1a" stroke-width="1.4" />
<ellipse cx="482.5" cy="665.8" rx="31" ry="10.8" fill="#fff" stroke="#1a1a1a" stroke-width="2.2" />
<path d="M433,652 A50,10 0 0 1 531,652" fill="none" stroke="#1a1a1a" stroke-width="2.5" />
<line x1="448.4" y1="634" x2="448.4" y2="651" stroke="#1a1a1a" stroke-width="2.6" />
<line x1="445.4" y1="635" x2="451.4" y2="635" stroke="#1a1a1a" stroke-width="3" />
<line x1="481.7" y1="629.3" x2="481.7" y2="646" stroke="#1a1a1a" stroke-width="2.6" />
<line x1="478.7" y1="630.3" x2="484.7" y2="630.3" stroke="#1a1a1a" stroke-width="3" />
<line x1="515.9" y1="634" x2="515.9" y2="651" stroke="#1a1a1a" stroke-width="2.6" />
<line x1="512.9" y1="635" x2="518.9" y2="635" stroke="#1a1a1a" stroke-width="3" />
<line x1="433.7" y1="646.4" x2="433.7" y2="662" stroke="#1a1a1a" stroke-width="2.6" />
<line x1="430.7" y1="647.4" x2="436.7" y2="647.4" stroke="#1a1a1a" stroke-width="3" />
<line x1="529.8" y1="646.4" x2="529.8" y2="662" stroke="#1a1a1a" stroke-width="2.6" />
<line x1="526.8" y1="647.4" x2="532.8" y2="647.4" stroke="#1a1a1a" stroke-width="3" />
<line x1="481.7" y1="663.4" x2="481.7" y2="673" stroke="#1a1a1a" stroke-width="2.6" />
<line x1="478.7" y1="664.4" x2="484.7" y2="664.4" stroke="#1a1a1a" stroke-width="3" />
<text x="324.3" y="670.8" textLength="70" lengthAdjust="spacingAndGlyphs" font-size="18" font-weight="400" fill="#b02c42" stroke="#b02c42" stroke-width="0.5">APV0002</text>
<line x1="394.5" y1="660.7" x2="407.5" y2="658" stroke="#b04860" stroke-width="1" />
<ellipse cx="485" cy="736.8" rx="63" ry="30.5" fill="#d9d9d9" stroke="none" stroke-width="1" />
<ellipse cx="486" cy="737.4" rx="55" ry="22" fill="#d4d4d4" stroke="#333" stroke-width="1.4" />
<ellipse cx="486" cy="737.4" rx="52" ry="20" fill="none" stroke="#333" stroke-width="1.1" />
<ellipse cx="486" cy="737.4" rx="49" ry="18" fill="none" stroke="#333" stroke-width="1.1" />
<text x="340" y="697" textLength="75" lengthAdjust="spacingAndGlyphs" font-size="17" font-weight="700" fill="#1a1a1a">APV0006</text>
<line x1="388" y1="701" x2="432.2" y2="725.7" stroke="#333" stroke-width="1" />
<defs><clipPath id="dclip"><ellipse cx="332" cy="733.7" rx="29" ry="9.5"/></clipPath></defs>
<ellipse cx="332" cy="736" rx="67.6" ry="24.7" fill="#fff" stroke="#444" stroke-width="1.1" />
<ellipse cx="332" cy="733.7" rx="34.5" ry="12.3" fill="#fff" stroke="#444" stroke-width="1.1" />
<ellipse cx="332" cy="733.7" rx="29" ry="9.5" fill="none" stroke="#444" stroke-width="1" />
<g clip-path="url(#dclip)">
<line x1="300" y1="709" x2="364" y2="732" stroke="#444" stroke-width="1.3" />
<line x1="300" y1="715" x2="364" y2="738" stroke="#444" stroke-width="1.3" />
<line x1="300" y1="721" x2="364" y2="744" stroke="#444" stroke-width="1.3" />
<line x1="300" y1="727" x2="364" y2="750" stroke="#444" stroke-width="1.3" />
<line x1="300" y1="733" x2="364" y2="756" stroke="#444" stroke-width="1.3" />
</g>
<polygon points="554.3,715.4 647.9,680.3 742.8,715.4 647.9,747.9" fill="#fff" stroke="#1a1a1a" stroke-width="2" />
<polygon points="559.9,715.3 647.9,682.4 737.1,715.3 647.9,745.9" fill="none" stroke="#3a3a3a" stroke-width="0.8" />
<polygon points="565.5,715.3 648,684.5 731.4,715.3 648,744" fill="none" stroke="#3a3a3a" stroke-width="0.8" />
<polygon points="571.2,715.2 648,686.6 725.7,715.2 648,742" fill="none" stroke="#3a3a3a" stroke-width="0.8" />
<polygon points="576.8,715.1 648,688.7 720,715.1 648,740.1" fill="none" stroke="#3a3a3a" stroke-width="0.8" />
<polygon points="582.4,715.1 648.1,690.8 714.4,715.1 648.1,738.1" fill="none" stroke="#3a3a3a" stroke-width="0.8" />
<polygon points="588,715 648.1,692.9 708.7,715 648.1,736.1" fill="none" stroke="#3a3a3a" stroke-width="0.8" />
<polygon points="593.7,715 648.1,694.9 703,715 648.1,734.1" fill="none" stroke="#3a3a3a" stroke-width="0.8" />
<polygon points="599.3,714.9 648.1,697 697.3,714.9 648.1,732.2" fill="none" stroke="#3a3a3a" stroke-width="0.8" />
<polygon points="604.9,714.9 648.2,699.1 691.6,714.9 648.2,730.2" fill="none" stroke="#3a3a3a" stroke-width="0.8" />
<line x1="558.1" y1="715.4" x2="739" y2="715.4" stroke="#fff" stroke-width="2.2" />
<line x1="647.9" y1="682.3" x2="647.9" y2="745.9" stroke="#fff" stroke-width="2.2" />
<ellipse cx="573.1" cy="715.4" rx="0.9" ry="0.9" fill="#222" stroke="none" stroke-width="1" />
<ellipse cx="592" cy="715.4" rx="0.9" ry="0.9" fill="#222" stroke="none" stroke-width="1" />
<ellipse cx="705.1" cy="715.4" rx="0.9" ry="0.9" fill="#222" stroke="none" stroke-width="1" />
<ellipse cx="723.9" cy="715.4" rx="0.9" ry="0.9" fill="#222" stroke="none" stroke-width="1" />
<polygon points="608.7,714.9 648.2,700.4 687.9,714.9 648.2,728.8" fill="#fff" stroke="#444" stroke-width="0.8" />
<ellipse cx="648.5" cy="714.7" rx="33" ry="11" fill="#fff" stroke="#1a1a1a" stroke-width="1.3" />
<line x1="618" y1="713" x2="679" y2="713" stroke="#1a1a1a" stroke-width="1" />
<ellipse cx="648.5" cy="717" rx="27" ry="6" fill="none" stroke="#1a1a1a" stroke-width="1" />
<ellipse cx="647" cy="750.5" rx="32" ry="9" fill="none" stroke="#1a1a1a" stroke-width="1.8" />
<text x="585.5" y="667" textLength="69" lengthAdjust="spacingAndGlyphs" font-size="18" font-weight="400" fill="#b02c42" stroke="#b02c42" stroke-width="0.5">APV0003</text>
<line x1="620.6" y1="668.6" x2="625.8" y2="711.5" stroke="#b04860" stroke-width="1" />
<text x="675.2" y="776.2" textLength="78" lengthAdjust="spacingAndGlyphs" font-size="18" font-weight="400" fill="#b02c42" stroke="#b02c42" stroke-width="0.5">S0401-ND</text>
<line x1="680.4" y1="746.6" x2="714.2" y2="761" stroke="#b04860" stroke-width="1" />
<path d="M307,849 L307,877 A23.75,7 0 0 0 354.5,877 L354.5,849" fill="#fff" stroke="#1a1a1a" stroke-width="1.3" />
<path d="M300.5,822 L300.5,840 Q301,848 307,849 A23.75,5 0 0 0 354.5,849 Q360.5,848 361,840 L361,822 Z" fill="#fff" stroke="#1a1a1a" stroke-width="1.3" />
<ellipse cx="331" cy="803" rx="68" ry="23.5" fill="#fff" stroke="#1a1a1a" stroke-width="1.5" />
<ellipse cx="331" cy="800.5" rx="68" ry="23.5" fill="#fff" stroke="#1a1a1a" stroke-width="1.5" />
<ellipse cx="331" cy="801.5" rx="55.8" ry="17.9" fill="#6a6a6a" stroke="#1a1a1a" stroke-width="1.5" />
<ellipse cx="331" cy="801.5" rx="50.3" ry="15.7" fill="none" stroke="#d0d0d0" stroke-width="1.6" stroke-dasharray="2,2.5"/>
<ellipse cx="331" cy="801.5" rx="43.5" ry="13.2" fill="none" stroke="#c0c0c0" stroke-width="1.5" stroke-dasharray="2.5,2.5"/>
<ellipse cx="331" cy="801.5" rx="37.4" ry="11.8" fill="none" stroke="#222" stroke-width="1.2" />
<ellipse cx="331" cy="802.5" rx="32" ry="11" fill="#fff" stroke="#1a1a1a" stroke-width="1.3" />
<path d="M301.1,806.5 A29.9,7 0 0 1 360.9,806.5" fill="none" stroke="#222" stroke-width="1.2"/>
<ellipse cx="331" cy="807.5" rx="25.8" ry="6.1" fill="none" stroke="#222" stroke-width="1" />
<line x1="334" y1="803.5" x2="334" y2="809.5" stroke="#1a1a1a" stroke-width="1.6" />
<line x1="321" y1="810.5" x2="345" y2="810.5" stroke="#333" stroke-width="1.4" />
<text x="218" y="865" textLength="69" lengthAdjust="spacingAndGlyphs" font-size="18" font-weight="400" fill="#b02c42" stroke="#b02c42" stroke-width="0.5">APV2000</text>
<line x1="292" y1="855" x2="317" y2="847" stroke="#b04860" stroke-width="1" />
<text x="218" y="887" textLength="69" lengthAdjust="spacingAndGlyphs" font-size="18" font-weight="400" fill="#b02c42" stroke="#b02c42" stroke-width="0.5">APV4000</text>
<line x1="292" y1="879" x2="320" y2="872" stroke="#b04860" stroke-width="1" />
<path d="M456.8,822 L456.8,842.4 Q459,854.4 476,854.4 L496.4,854.4 L502,824 Z" fill="#fff" stroke="#1a1a1a" stroke-width="1.3" />
<path d="M502.4,826.8 L539.6,836.4 L528.8,864 L497.6,853.2 Q488,840 502.4,826.8 Z" fill="#fff" stroke="#1a1a1a" stroke-width="1.3" />
<ellipse cx="537.8" cy="851.4" rx="10.5" ry="14.5" transform="rotate(17 537.8 851.4)" fill="#fff" stroke="#1a1a1a" stroke-width="1.3"/>
<path d="M532,837.5 Q523,850 528.5,864" fill="none" stroke="#444" stroke-width="1.2"/>
<ellipse cx="486.4" cy="802.5" rx="68.4" ry="24" fill="#fff" stroke="#1a1a1a" stroke-width="1.5" />
<ellipse cx="486.4" cy="800" rx="68.4" ry="24" fill="#fff" stroke="#1a1a1a" stroke-width="1.5" />
<ellipse cx="486.4" cy="801" rx="56.1" ry="18.2" fill="#6a6a6a" stroke="#1a1a1a" stroke-width="1.5" />
<ellipse cx="486.4" cy="801" rx="50.6" ry="16.1" fill="none" stroke="#d0d0d0" stroke-width="1.6" stroke-dasharray="2,2.5"/>
<ellipse cx="486.4" cy="801" rx="43.8" ry="13.4" fill="none" stroke="#c0c0c0" stroke-width="1.5" stroke-dasharray="2.5,2.5"/>
<ellipse cx="486.4" cy="801" rx="37.6" ry="12" fill="none" stroke="#222" stroke-width="1.2" />
<ellipse cx="486.4" cy="802" rx="32.1" ry="11.3" fill="#fff" stroke="#1a1a1a" stroke-width="1.3" />
<path d="M456.3,806 A30.1,7.2 0 0 1 516.5,806" fill="none" stroke="#222" stroke-width="1.2"/>
<ellipse cx="486.4" cy="807" rx="26" ry="6.2" fill="none" stroke="#222" stroke-width="1" />
<line x1="489.4" y1="803" x2="489.4" y2="809" stroke="#1a1a1a" stroke-width="1.6" />
<line x1="476.4" y1="810" x2="500.4" y2="810" stroke="#333" stroke-width="1.4" />
<text x="405.4" y="873.6" textLength="69" lengthAdjust="spacingAndGlyphs" font-size="18" font-weight="400" fill="#b02c42" stroke="#b02c42" stroke-width="0.5">APV1000</text>
<line x1="479" y1="863.6" x2="519.7" y2="849.2" stroke="#b04860" stroke-width="1" />
<path d="M611.2,822 L611.2,841.6 Q613,851.4 621,852 L651.8,853.5 L656,824 Z" fill="#fff" stroke="#1a1a1a" stroke-width="1.3" />
<path d="M656,828.3 L684,825.5 L675.6,862.6 L653.2,853.5 Q643,843 656,828.3 Z" fill="#fff" stroke="#1a1a1a" stroke-width="1.3" />
<path d="M684,825.5 L720.4,833.2 L705,875.2 L675.6,862.6 Q665,845 684,825.5 Z" fill="#fff" stroke="#1a1a1a" stroke-width="1.3" />
<ellipse cx="714.8" cy="855" rx="15" ry="22" transform="rotate(17 714.8 855)" fill="#fff" stroke="#1a1a1a" stroke-width="1.3"/>
<path d="M706,834 Q692,855 701,876" fill="none" stroke="#444" stroke-width="1.3"/>
<ellipse cx="641.5" cy="802.5" rx="68" ry="24" fill="#fff" stroke="#1a1a1a" stroke-width="1.5" />
<ellipse cx="641.5" cy="800" rx="68" ry="24" fill="#fff" stroke="#1a1a1a" stroke-width="1.5" />
<ellipse cx="641.5" cy="801" rx="55.8" ry="18.2" fill="#6a6a6a" stroke="#1a1a1a" stroke-width="1.5" />
<ellipse cx="641.5" cy="801" rx="50.3" ry="16.1" fill="none" stroke="#d0d0d0" stroke-width="1.6" stroke-dasharray="2,2.5"/>
<ellipse cx="641.5" cy="801" rx="43.5" ry="13.4" fill="none" stroke="#c0c0c0" stroke-width="1.5" stroke-dasharray="2.5,2.5"/>
<ellipse cx="641.5" cy="801" rx="37.4" ry="12" fill="none" stroke="#222" stroke-width="1.2" />
<ellipse cx="641.5" cy="802" rx="32" ry="11.3" fill="#fff" stroke="#1a1a1a" stroke-width="1.3" />
<path d="M611.6,806 A29.9,7.2 0 0 1 671.4,806" fill="none" stroke="#222" stroke-width="1.2"/>
<ellipse cx="641.5" cy="807" rx="25.8" ry="6.2" fill="none" stroke="#222" stroke-width="1" />
<line x1="644.5" y1="803" x2="644.5" y2="809" stroke="#1a1a1a" stroke-width="1.6" />
<line x1="631.5" y1="810" x2="655.5" y2="810" stroke="#333" stroke-width="1.4" />
<text x="574.4" y="875.4" textLength="69" lengthAdjust="spacingAndGlyphs" font-size="18" font-weight="400" fill="#b02c42" stroke="#b02c42" stroke-width="0.5">APV3000</text>
<line x1="648.2" y1="863.6" x2="686" y2="851.9" stroke="#b04860" stroke-width="1" />
<path d="M391,932 L391,950 Q394,963 415,963 L433,962 L436,935 Z" fill="#fff" stroke="#1a1a1a" stroke-width="1.3" />
<path d="M434,940 L476,947 L468,974 L432,962 Q424,950 434,940 Z" fill="#fff" stroke="#1a1a1a" stroke-width="1.3" />
<ellipse cx="475" cy="961" rx="9.5" ry="13.5" transform="rotate(17 475 961)" fill="#fff" stroke="#1a1a1a" stroke-width="1.3"/>
<path d="M470,948 Q463,960 468,974" fill="none" stroke="#444" stroke-width="1.2"/>
<ellipse cx="422.5" cy="920" rx="50.5" ry="15" fill="#fff" stroke="#1a1a1a" stroke-width="1.4" />
<path d="M388,908 L388,917 A35,11 0 0 0 458,917 L458,908" fill="#fff" stroke="#1a1a1a" stroke-width="1.3" />
<ellipse cx="423" cy="908" rx="35" ry="10.5" fill="#fff" stroke="#1a1a1a" stroke-width="1.6" />
<ellipse cx="423" cy="913" rx="26" ry="7" fill="none" stroke="#1a1a1a" stroke-width="1.3" />
<line x1="417" y1="914" x2="417" y2="921" stroke="#1a1a1a" stroke-width="1.8" />
<text x="378" y="1000" textLength="69" lengthAdjust="spacingAndGlyphs" font-size="18" font-weight="400" fill="#b02c42" stroke="#b02c42" stroke-width="0.5">APV5000</text>
<line x1="416" y1="983" x2="458" y2="960" stroke="#b04860" stroke-width="1" />
<path d="M564,956 L564,985 A16.5,5 0 0 0 597,985 L597,956 Z" fill="#fff" stroke="#1a1a1a" stroke-width="1.3" />
<path d="M550,934 L550,951 Q551,957 558,958 A24,4 0 0 0 606,958 Q612,957 613,951 L613,934 Z" fill="#fff" stroke="#1a1a1a" stroke-width="1.3" />
<ellipse cx="580" cy="922" rx="51" ry="16" fill="#fff" stroke="#1a1a1a" stroke-width="1.4" />
<path d="M545,909 L545,918 A35,11 0 0 0 615,918 L615,909" fill="#fff" stroke="#1a1a1a" stroke-width="1.3" />
<ellipse cx="580" cy="909" rx="35" ry="11" fill="#fff" stroke="#1a1a1a" stroke-width="1.6" />
<ellipse cx="581" cy="914.5" rx="27" ry="7.5" fill="none" stroke="#1a1a1a" stroke-width="1.3" />
<line x1="590" y1="913" x2="590" y2="921" stroke="#1a1a1a" stroke-width="1.8" />
<text x="633" y="992" textLength="69" lengthAdjust="spacingAndGlyphs" font-size="18" font-weight="400" fill="#b02c42" stroke="#b02c42" stroke-width="0.5">APV6000</text>
<line x1="588" y1="971" x2="631" y2="984" stroke="#b04860" stroke-width="1" />
</svg></body></html>
